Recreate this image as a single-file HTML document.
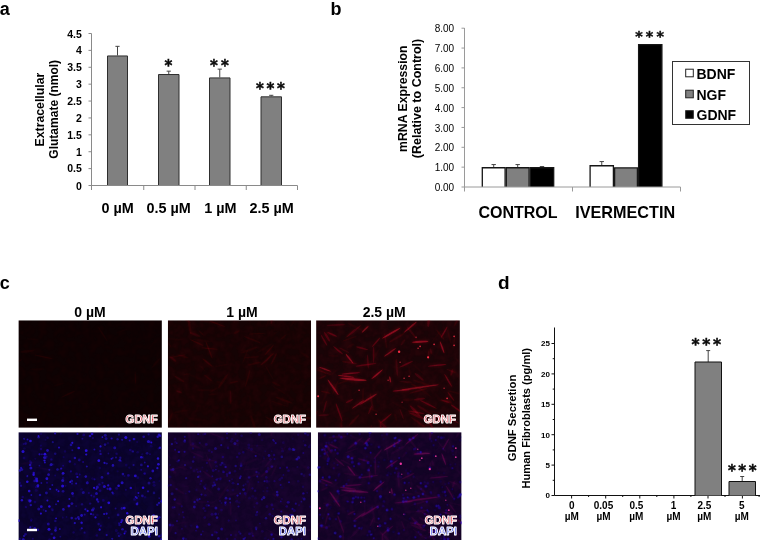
<!DOCTYPE html>
<html lang="en"><head><meta charset="utf-8"><title>Figure</title>
<style>
html,body{margin:0;padding:0;background:#fff;}
body{width:760px;height:540px;overflow:hidden;font-family:"Liberation Sans",sans-serif;}
svg{display:block;}
text{font-family:"Liberation Sans",sans-serif;fill:#000;}
.b{font-weight:bold;}
.ast{font-family:"DejaVu Sans",sans-serif;font-weight:bold;fill:#0a0a0a;stroke:#0a0a0a;stroke-width:0.45px;}
.lab{font-weight:bold;font-size:11.4px;stroke:#fff;stroke-width:0.95px;stroke-linejoin:round;}
</style></head><body>
<svg width="760" height="540" viewBox="0 0 760 540">
<defs><filter id="bl" x="-5%" y="-5%" width="110%" height="110%"><feGaussianBlur stdDeviation="0.6"/></filter><filter id="bl2" x="-5%" y="-5%" width="110%" height="110%"><feGaussianBlur stdDeviation="0.72"/></filter><filter id="bl3" x="-5%" y="-5%" width="110%" height="110%"><feGaussianBlur stdDeviation="0.6"/></filter><filter id="nz" x="0" y="0" width="100%" height="100%"><feTurbulence type="fractalNoise" baseFrequency="0.14" numOctaves="3" seed="4" result="t"/><feColorMatrix in="t" type="matrix" values="0 0 0 0 1  0 0 0 0 1  0 0 0 0 1  2.2 0 0 0 -0.75" result="m"/><feComposite in="SourceGraphic" in2="m" operator="in"/></filter><filter id="bl4" x="-5%" y="-5%" width="110%" height="110%"><feGaussianBlur stdDeviation="1.3"/></filter></defs>
<rect x="0" y="0" width="760" height="540" fill="#fff"/>
<text class="b" x="-0.3" y="14.5" font-size="18">a</text>
<text class="b" x="330.5" y="14.5" font-size="18">b</text>
<text class="b" x="-0.3" y="288.5" font-size="18">c</text>
<text class="b" x="498" y="288.8" font-size="19">d</text>
<path d="M117.50 55.46V46.34M115.40 46.34H119.60" stroke="#444" stroke-width="1" fill="none"/>
<path d="M107.50 186.00V55.96H127.50V186.00" fill="#808080" stroke="#2e2e2e" stroke-width="1"/>
<path d="M168.75 74.03V71.16M166.65 71.16H170.85" stroke="#444" stroke-width="1" fill="none"/>
<path d="M158.50 186.00V74.53H179.00V186.00" fill="#808080" stroke="#2e2e2e" stroke-width="1"/>
<path d="M219.75 77.41V69.14M217.65 69.14H221.85" stroke="#444" stroke-width="1" fill="none"/>
<path d="M209.50 186.00V77.91H230.00V186.00" fill="#808080" stroke="#2e2e2e" stroke-width="1"/>
<path d="M271.25 96.33V95.31M269.15 95.31H273.35" stroke="#444" stroke-width="1" fill="none"/>
<path d="M261.00 186.00V96.83H281.50V186.00" fill="#808080" stroke="#2e2e2e" stroke-width="1"/>
<path d="M91.5 33.5V190.0M88.5 185.5H297.5" stroke="#8a8a8a" stroke-width="1" fill="none"/>
<text class="b" x="81.9" y="189.90" font-size="10.5" text-anchor="end">0</text>
<path d="M88.5 168.61H91.5" stroke="#8a8a8a" stroke-width="1"/>
<text class="b" x="81.9" y="172.41" font-size="10.5" text-anchor="end">0.5</text>
<path d="M88.5 151.72H91.5" stroke="#8a8a8a" stroke-width="1"/>
<text class="b" x="81.9" y="155.52" font-size="10.5" text-anchor="end">1</text>
<path d="M88.5 134.83H91.5" stroke="#8a8a8a" stroke-width="1"/>
<text class="b" x="81.9" y="138.63" font-size="10.5" text-anchor="end">1.5</text>
<path d="M88.5 117.94H91.5" stroke="#8a8a8a" stroke-width="1"/>
<text class="b" x="81.9" y="121.74" font-size="10.5" text-anchor="end">2</text>
<path d="M88.5 101.06H91.5" stroke="#8a8a8a" stroke-width="1"/>
<text class="b" x="81.9" y="104.86" font-size="10.5" text-anchor="end">2.5</text>
<path d="M88.5 84.17H91.5" stroke="#8a8a8a" stroke-width="1"/>
<text class="b" x="81.9" y="87.97" font-size="10.5" text-anchor="end">3</text>
<path d="M88.5 67.28H91.5" stroke="#8a8a8a" stroke-width="1"/>
<text class="b" x="81.9" y="71.08" font-size="10.5" text-anchor="end">3.5</text>
<path d="M88.5 50.39H91.5" stroke="#8a8a8a" stroke-width="1"/>
<text class="b" x="81.9" y="54.19" font-size="10.5" text-anchor="end">4</text>
<path d="M88.5 33.50H91.5" stroke="#8a8a8a" stroke-width="1"/>
<text class="b" x="81.9" y="37.90" font-size="10.5" text-anchor="end">4.5</text>
<path d="M143.75 185.5V190.0" stroke="#8a8a8a" stroke-width="1"/>
<path d="M195.00 185.5V190.0" stroke="#8a8a8a" stroke-width="1"/>
<path d="M246.25 185.5V190.0" stroke="#8a8a8a" stroke-width="1"/>
<path d="M297.50 185.5V190.0" stroke="#8a8a8a" stroke-width="1"/>
<text class="b" x="117.7" y="212.5" font-size="14.4" text-anchor="middle">0 µM</text>
<text class="b" x="168.6" y="212.5" font-size="14.4" text-anchor="middle">0.5 µM</text>
<text class="b" x="220.3" y="212.5" font-size="14.4" text-anchor="middle">1 µM</text>
<text class="b" x="271.6" y="212.5" font-size="14.4" text-anchor="middle">2.5 µM</text>
<text class="b" font-size="12.3" text-anchor="middle" transform="translate(43.5 109.6) rotate(-90)">Extracellular</text>
<text class="b" font-size="12" text-anchor="middle" transform="translate(58 109.3) rotate(-90)">Glutamate (nmol)</text>
<text class="ast" x="169.70" y="70.90" font-size="15" letter-spacing="2.6" text-anchor="middle">*</text>
<text class="ast" x="221.00" y="70.80" font-size="15" letter-spacing="3.2" text-anchor="middle">**</text>
<text class="ast" x="271.70" y="94.00" font-size="15" letter-spacing="2.6" text-anchor="middle">***</text>
<path d="M493.70 167.15V164.57M491.50 164.57H495.90" stroke="#444" stroke-width="1" fill="none"/>
<path d="M482.30 187.00V167.75H505.10V187.00" fill="#fff" stroke="#161616" stroke-width="1.3"/>
<path d="M517.70 167.15V164.57M515.50 164.57H519.90" stroke="#444" stroke-width="1" fill="none"/>
<path d="M506.30 187.00V167.75H529.10V187.00" fill="#808080" stroke="#161616" stroke-width="1.3"/>
<path d="M542.00 167.15V166.55M539.80 166.55H544.20" stroke="#444" stroke-width="1" fill="none"/>
<path d="M530.30 187.00V167.75H553.70V187.00" fill="#000" stroke="#161616" stroke-width="1.3"/>
<path d="M601.75 165.16V161.59M599.55 161.59H603.95" stroke="#444" stroke-width="1" fill="none"/>
<path d="M590.10 187.00V165.76H613.40V187.00" fill="#fff" stroke="#161616" stroke-width="1.3"/>
<path d="M614.60 187.00V167.95H637.40V187.00" fill="#808080" stroke="#161616" stroke-width="1.3"/>
<path d="M638.60 187.00V44.68H661.90V187.00" fill="#000" stroke="#161616" stroke-width="1.3"/>
<path d="M464.5 28V191.5M461.5 187.0H680.5" stroke="#9a9a9a" stroke-width="1" fill="none"/>
<text x="454.2" y="191.10" font-size="10" text-anchor="end" fill="#222">0.00</text>
<path d="M461.5 167.15H464.5" stroke="#9a9a9a" stroke-width="1"/>
<text x="454.2" y="171.25" font-size="10" text-anchor="end" fill="#222">1.00</text>
<path d="M461.5 147.30H464.5" stroke="#9a9a9a" stroke-width="1"/>
<text x="454.2" y="151.40" font-size="10" text-anchor="end" fill="#222">2.00</text>
<path d="M461.5 127.45H464.5" stroke="#9a9a9a" stroke-width="1"/>
<text x="454.2" y="131.55" font-size="10" text-anchor="end" fill="#222">3.00</text>
<path d="M461.5 107.60H464.5" stroke="#9a9a9a" stroke-width="1"/>
<text x="454.2" y="111.70" font-size="10" text-anchor="end" fill="#222">4.00</text>
<path d="M461.5 87.75H464.5" stroke="#9a9a9a" stroke-width="1"/>
<text x="454.2" y="91.85" font-size="10" text-anchor="end" fill="#222">5.00</text>
<path d="M461.5 67.90H464.5" stroke="#9a9a9a" stroke-width="1"/>
<text x="454.2" y="72.00" font-size="10" text-anchor="end" fill="#222">6.00</text>
<path d="M461.5 48.05H464.5" stroke="#9a9a9a" stroke-width="1"/>
<text x="454.2" y="52.15" font-size="10" text-anchor="end" fill="#222">7.00</text>
<path d="M461.5 28.20H464.5" stroke="#9a9a9a" stroke-width="1"/>
<text x="454.2" y="32.30" font-size="10" text-anchor="end" fill="#222">8.00</text>
<path d="M572.5 187.0V191.5" stroke="#9a9a9a" stroke-width="1"/>
<path d="M680.5 187.0V191.5" stroke="#9a9a9a" stroke-width="1"/>
<text class="b" x="518" y="217.5" font-size="16" text-anchor="middle">CONTROL</text>
<text class="b" x="625.2" y="217.5" font-size="16.2" text-anchor="middle">IVERMECTIN</text>
<text class="ast" x="651.20" y="41.00" font-size="14.3" letter-spacing="3.2" text-anchor="middle">***</text>
<text class="b" font-size="12.26" text-anchor="middle" transform="translate(407 98.7) rotate(-90)">mRNA Expression</text>
<text class="b" font-size="12.5" text-anchor="middle" transform="translate(421 98.5) rotate(-90)">(Relative to Control)</text>
<rect x="672.5" y="61.5" width="77" height="63" fill="#fff" stroke="#333" stroke-width="1"/>
<rect x="685.7" y="69.2" width="7.6" height="7.6" fill="#fff" stroke="#222" stroke-width="1"/>
<text class="b" x="696.5" y="78.7" font-size="14">BDNF</text>
<rect x="685.7" y="90.2" width="7.6" height="7.6" fill="#808080" stroke="#222" stroke-width="1"/>
<text class="b" x="696.5" y="99.7" font-size="14">NGF</text>
<rect x="685.7" y="110.7" width="7.6" height="7.6" fill="#000" stroke="#222" stroke-width="1"/>
<text class="b" x="696.5" y="120.2" font-size="14">GDNF</text>
<path d="M554.5 327.5V495.5H760" stroke="#111" stroke-width="1" fill="none"/>
<path d="M551.5 495.50H554.5" stroke="#111" stroke-width="1"/>
<text class="b" x="550" y="498.40" font-size="8" text-anchor="end">0</text>
<path d="M552.7 480.30H554.5" stroke="#111" stroke-width="1"/>
<path d="M551.5 465.10H554.5" stroke="#111" stroke-width="1"/>
<text class="b" x="550" y="468.00" font-size="8" text-anchor="end">5</text>
<path d="M552.7 449.90H554.5" stroke="#111" stroke-width="1"/>
<path d="M551.5 434.70H554.5" stroke="#111" stroke-width="1"/>
<text class="b" x="550" y="437.60" font-size="8" text-anchor="end">10</text>
<path d="M552.7 419.50H554.5" stroke="#111" stroke-width="1"/>
<path d="M551.5 404.30H554.5" stroke="#111" stroke-width="1"/>
<text class="b" x="550" y="407.20" font-size="8" text-anchor="end">15</text>
<path d="M552.7 389.10H554.5" stroke="#111" stroke-width="1"/>
<path d="M551.5 373.90H554.5" stroke="#111" stroke-width="1"/>
<text class="b" x="550" y="376.80" font-size="8" text-anchor="end">20</text>
<path d="M552.7 358.70H554.5" stroke="#111" stroke-width="1"/>
<path d="M551.5 343.50H554.5" stroke="#111" stroke-width="1"/>
<text class="b" x="550" y="346.40" font-size="8" text-anchor="end">25</text>
<path d="M588.6 495.5V497.0" stroke="#111" stroke-width="1"/>
<path d="M622.7 495.5V497.0" stroke="#111" stroke-width="1"/>
<path d="M656.8 495.5V497.0" stroke="#111" stroke-width="1"/>
<path d="M690.9 495.5V497.0" stroke="#111" stroke-width="1"/>
<path d="M725.0 495.5V497.0" stroke="#111" stroke-width="1"/>
<path d="M759.1 495.5V497.0" stroke="#111" stroke-width="1"/>
<path d="M571.6 495.5V498.5" stroke="#111" stroke-width="1"/>
<path d="M605.7 495.5V498.5" stroke="#111" stroke-width="1"/>
<path d="M639.8 495.5V498.5" stroke="#111" stroke-width="1"/>
<path d="M673.9 495.5V498.5" stroke="#111" stroke-width="1"/>
<path d="M708.0 495.5V498.5" stroke="#111" stroke-width="1"/>
<path d="M742.4 495.5V498.5" stroke="#111" stroke-width="1"/>
<text class="b" x="571.8" y="509" font-size="10" text-anchor="middle">0</text>
<text class="b" x="571.8" y="520" font-size="10" text-anchor="middle">µM</text>
<text class="b" x="603.5" y="509" font-size="10" text-anchor="middle">0.05</text>
<text class="b" x="603.5" y="520" font-size="10" text-anchor="middle">µM</text>
<text class="b" x="636.4" y="509" font-size="10" text-anchor="middle">0.5</text>
<text class="b" x="636.4" y="520" font-size="10" text-anchor="middle">µM</text>
<text class="b" x="673.5" y="509" font-size="10" text-anchor="middle">1</text>
<text class="b" x="673.5" y="520" font-size="10" text-anchor="middle">µM</text>
<text class="b" x="704.4" y="509" font-size="10" text-anchor="middle">2.5</text>
<text class="b" x="704.4" y="520" font-size="10" text-anchor="middle">µM</text>
<text class="b" x="741.8" y="509" font-size="10" text-anchor="middle">5</text>
<text class="b" x="741.8" y="520" font-size="10" text-anchor="middle">µM</text>
<path d="M708.20 362.00V350.60M706.20 350.60H710.20" stroke="#444" stroke-width="1" fill="none"/>
<path d="M695.00 495.50V362.00H721.50V495.50" fill="#808080" stroke="#111" stroke-width="1"/>
<path d="M742.20 481.00V476.50M740.20 476.50H744.20" stroke="#444" stroke-width="1" fill="none"/>
<path d="M729.00 495.50V481.50H755.50V495.50" fill="#808080" stroke="#111" stroke-width="1"/>
<text class="ast" x="707.60" y="350.40" font-size="15.5" letter-spacing="2.6" text-anchor="middle">***</text>
<text class="ast" x="743.60" y="476.20" font-size="15" letter-spacing="2.6" text-anchor="middle">***</text>
<text class="b" font-size="11.3" text-anchor="middle" transform="translate(516.2 418) rotate(-90)">GDNF Secretion</text>
<text class="b" font-size="11.1" text-anchor="middle" transform="translate(530 418.2) rotate(-90)">Human Fibroblasts (pg/ml)</text>
<text class="b" x="90" y="316.8" font-size="14" text-anchor="middle">0 µM</text>
<text class="b" x="242" y="316.8" font-size="14" text-anchor="middle">1 µM</text>
<text class="b" x="384.2" y="316.8" font-size="14" text-anchor="middle">2.5 µM</text>
<svg x="18.4" y="320.3" width="143.50" height="107.50" viewBox="0 0 143.50 107.50" overflow="hidden">
<rect width="143.50" height="107.50" fill="#0d0203"/>
<rect width="143.50" height="107.50" fill="#a01018" opacity="0.04" filter="url(#nz)"/>
<g filter="url(#bl4)" fill="#d01428"><ellipse cx="18.9" cy="48.9" rx="8.0" ry="2.2" opacity="0.01" transform="rotate(-1 18.9 48.9)"/><ellipse cx="117.0" cy="57.8" rx="6.3" ry="1.3" opacity="0.02" transform="rotate(-92 117.0 57.8)"/><ellipse cx="139.1" cy="35.2" rx="8.4" ry="1.5" opacity="0.00" transform="rotate(-80 139.1 35.2)"/><ellipse cx="25.3" cy="36.6" rx="9.7" ry="1.5" opacity="0.02" transform="rotate(12 25.3 36.6)"/><ellipse cx="80.3" cy="99.7" rx="4.2" ry="2.0" opacity="0.00" transform="rotate(-2 80.3 99.7)"/><ellipse cx="-2.2" cy="42.1" rx="7.0" ry="1.5" opacity="0.02" transform="rotate(-27 -2.2 42.1)"/><ellipse cx="134.1" cy="24.0" rx="7.5" ry="2.4" opacity="0.00" transform="rotate(-46 134.1 24.0)"/><ellipse cx="80.1" cy="107.4" rx="8.0" ry="2.2" opacity="0.01" transform="rotate(-18 80.1 107.4)"/><ellipse cx="40.5" cy="64.3" rx="5.5" ry="2.3" opacity="0.01" transform="rotate(-15 40.5 64.3)"/><ellipse cx="69.5" cy="83.8" rx="9.2" ry="2.0" opacity="0.00" transform="rotate(5 69.5 83.8)"/><ellipse cx="124.1" cy="100.7" rx="8.4" ry="1.9" opacity="0.01" transform="rotate(-72 124.1 100.7)"/><ellipse cx="84.4" cy="13.8" rx="9.0" ry="1.4" opacity="0.01" transform="rotate(57 84.4 13.8)"/><ellipse cx="102.9" cy="10.8" rx="7.2" ry="1.5" opacity="0.00" transform="rotate(-20 102.9 10.8)"/><ellipse cx="90.2" cy="71.2" rx="7.0" ry="1.6" opacity="0.00" transform="rotate(-7 90.2 71.2)"/><ellipse cx="14.1" cy="19.0" rx="8.1" ry="1.5" opacity="0.01" transform="rotate(4 14.1 19.0)"/><ellipse cx="137.5" cy="42.7" rx="7.4" ry="2.1" opacity="0.01" transform="rotate(-50 137.5 42.7)"/><ellipse cx="78.8" cy="76.9" rx="8.6" ry="2.3" opacity="0.00" transform="rotate(-54 78.8 76.9)"/><ellipse cx="26.7" cy="25.4" rx="4.1" ry="2.0" opacity="0.00" transform="rotate(-22 26.7 25.4)"/><ellipse cx="7.0" cy="104.8" rx="6.8" ry="1.8" opacity="0.01" transform="rotate(-89 7.0 104.8)"/><ellipse cx="65.1" cy="19.1" rx="4.9" ry="1.4" opacity="0.00" transform="rotate(54 65.1 19.1)"/><ellipse cx="58.9" cy="103.1" rx="9.8" ry="1.7" opacity="0.00" transform="rotate(-15 58.9 103.1)"/><ellipse cx="103.6" cy="18.7" rx="5.8" ry="1.6" opacity="0.00" transform="rotate(59 103.6 18.7)"/><ellipse cx="42.7" cy="103.8" rx="7.0" ry="1.5" opacity="0.00" transform="rotate(13 42.7 103.8)"/><ellipse cx="9.0" cy="31.0" rx="7.4" ry="2.3" opacity="0.02" transform="rotate(-6 9.0 31.0)"/><ellipse cx="49.9" cy="73.8" rx="8.1" ry="1.4" opacity="0.02" transform="rotate(-25 49.9 73.8)"/></g>
<g filter="url(#bl2)" fill="#d01428"><ellipse cx="18.9" cy="48.9" rx="7.6" ry="1.1" opacity="0.02" transform="rotate(-1 18.9 48.9)"/><ellipse cx="117.0" cy="57.8" rx="6.0" ry="0.6" opacity="0.06" transform="rotate(-92 117.0 57.8)"/><ellipse cx="139.1" cy="35.2" rx="8.0" ry="0.7" opacity="0.01" transform="rotate(-80 139.1 35.2)"/><ellipse cx="25.3" cy="36.6" rx="9.3" ry="0.7" opacity="0.07" transform="rotate(12 25.3 36.6)"/><ellipse cx="80.3" cy="99.7" rx="4.0" ry="1.0" opacity="0.01" transform="rotate(-2 80.3 99.7)"/><ellipse cx="-2.2" cy="42.1" rx="6.7" ry="0.7" opacity="0.05" transform="rotate(-27 -2.2 42.1)"/><ellipse cx="134.1" cy="24.0" rx="7.1" ry="1.2" opacity="0.01" transform="rotate(-46 134.1 24.0)"/><ellipse cx="80.1" cy="107.4" rx="7.7" ry="1.1" opacity="0.03" transform="rotate(-18 80.1 107.4)"/><ellipse cx="40.5" cy="64.3" rx="5.2" ry="1.2" opacity="0.02" transform="rotate(-15 40.5 64.3)"/><ellipse cx="69.5" cy="83.8" rx="8.8" ry="1.0" opacity="0.01" transform="rotate(5 69.5 83.8)"/><ellipse cx="124.1" cy="100.7" rx="8.0" ry="0.9" opacity="0.03" transform="rotate(-72 124.1 100.7)"/><ellipse cx="84.4" cy="13.8" rx="8.6" ry="0.7" opacity="0.05" transform="rotate(57 84.4 13.8)"/><ellipse cx="102.9" cy="10.8" rx="6.9" ry="0.7" opacity="0.02" transform="rotate(-20 102.9 10.8)"/><ellipse cx="90.2" cy="71.2" rx="6.7" ry="0.8" opacity="0.00" transform="rotate(-7 90.2 71.2)"/><ellipse cx="14.1" cy="19.0" rx="7.7" ry="0.7" opacity="0.02" transform="rotate(4 14.1 19.0)"/><ellipse cx="137.5" cy="42.7" rx="7.0" ry="1.0" opacity="0.03" transform="rotate(-50 137.5 42.7)"/><ellipse cx="78.8" cy="76.9" rx="8.2" ry="1.2" opacity="0.01" transform="rotate(-54 78.8 76.9)"/><ellipse cx="26.7" cy="25.4" rx="3.9" ry="1.0" opacity="0.01" transform="rotate(-22 26.7 25.4)"/><ellipse cx="7.0" cy="104.8" rx="6.5" ry="0.9" opacity="0.02" transform="rotate(-89 7.0 104.8)"/><ellipse cx="65.1" cy="19.1" rx="4.6" ry="0.7" opacity="0.01" transform="rotate(54 65.1 19.1)"/><ellipse cx="58.9" cy="103.1" rx="9.4" ry="0.9" opacity="0.01" transform="rotate(-15 58.9 103.1)"/><ellipse cx="103.6" cy="18.7" rx="5.5" ry="0.8" opacity="0.01" transform="rotate(59 103.6 18.7)"/><ellipse cx="42.7" cy="103.8" rx="6.6" ry="0.8" opacity="0.00" transform="rotate(13 42.7 103.8)"/><ellipse cx="9.0" cy="31.0" rx="7.1" ry="1.2" opacity="0.05" transform="rotate(-6 9.0 31.0)"/><ellipse cx="49.9" cy="73.8" rx="7.7" ry="0.7" opacity="0.07" transform="rotate(-25 49.9 73.8)"/></g>
</svg>
<svg x="167.8" y="320.3" width="143.30" height="107.50" viewBox="0 0 143.30 107.50" overflow="hidden">
<rect width="143.30" height="107.50" fill="#150304"/>
<rect width="143.30" height="107.50" fill="#b01420" opacity="0.07" filter="url(#nz)"/>
<g filter="url(#bl4)" fill="#d01428"><ellipse cx="84.2" cy="19.2" rx="9.5" ry="1.8" opacity="0.02" transform="rotate(22 84.2 19.2)"/><ellipse cx="29.2" cy="22.3" rx="7.9" ry="1.5" opacity="0.03" transform="rotate(25 29.2 22.3)"/><ellipse cx="7.6" cy="19.0" rx="8.4" ry="1.7" opacity="0.01" transform="rotate(5 7.6 19.0)"/><ellipse cx="45.9" cy="69.7" rx="4.6" ry="1.8" opacity="0.01" transform="rotate(-32 45.9 69.7)"/><ellipse cx="13.6" cy="90.9" rx="7.7" ry="2.3" opacity="0.01" transform="rotate(-10 13.6 90.9)"/><ellipse cx="53.9" cy="45.2" rx="7.7" ry="1.2" opacity="0.01" transform="rotate(-11 53.9 45.2)"/><ellipse cx="77.3" cy="36.4" rx="8.0" ry="1.2" opacity="0.02" transform="rotate(-69 77.3 36.4)"/><ellipse cx="20.0" cy="0.9" rx="3.6" ry="1.4" opacity="0.02" transform="rotate(26 20.0 0.9)"/><ellipse cx="106.2" cy="38.4" rx="6.4" ry="1.8" opacity="0.03" transform="rotate(-64 106.2 38.4)"/><ellipse cx="43.7" cy="96.2" rx="7.8" ry="1.2" opacity="0.00" transform="rotate(-17 43.7 96.2)"/><ellipse cx="1.8" cy="36.4" rx="9.1" ry="2.3" opacity="0.00" transform="rotate(60 1.8 36.4)"/><ellipse cx="102.9" cy="85.3" rx="8.6" ry="1.4" opacity="0.01" transform="rotate(-95 102.9 85.3)"/><ellipse cx="115.9" cy="81.2" rx="6.2" ry="2.4" opacity="0.00" transform="rotate(-104 115.9 81.2)"/><ellipse cx="140.6" cy="97.8" rx="3.6" ry="1.9" opacity="0.02" transform="rotate(-178 140.6 97.8)"/><ellipse cx="49.6" cy="3.6" rx="8.8" ry="1.3" opacity="0.03" transform="rotate(20 49.6 3.6)"/><ellipse cx="34.5" cy="20.3" rx="9.8" ry="2.4" opacity="0.01" transform="rotate(8 34.5 20.3)"/><ellipse cx="11.3" cy="71.5" rx="3.2" ry="2.0" opacity="0.03" transform="rotate(18 11.3 71.5)"/><ellipse cx="65.8" cy="61.9" rx="4.8" ry="1.6" opacity="0.02" transform="rotate(-13 65.8 61.9)"/><ellipse cx="79.9" cy="58.0" rx="9.5" ry="1.6" opacity="0.02" transform="rotate(-74 79.9 58.0)"/><ellipse cx="131.1" cy="42.7" rx="4.7" ry="1.3" opacity="0.00" transform="rotate(-153 131.1 42.7)"/><ellipse cx="15.1" cy="36.0" rx="6.2" ry="2.1" opacity="0.02" transform="rotate(16 15.1 36.0)"/><ellipse cx="100.1" cy="38.5" rx="6.9" ry="1.4" opacity="0.02" transform="rotate(-54 100.1 38.5)"/><ellipse cx="44.8" cy="74.1" rx="4.8" ry="1.8" opacity="0.01" transform="rotate(-5 44.8 74.1)"/><ellipse cx="41.5" cy="1.6" rx="9.9" ry="2.2" opacity="0.01" transform="rotate(7 41.5 1.6)"/><ellipse cx="97.0" cy="27.7" rx="9.6" ry="2.2" opacity="0.01" transform="rotate(-31 97.0 27.7)"/><ellipse cx="144.5" cy="102.1" rx="6.0" ry="1.8" opacity="0.01" transform="rotate(-203 144.5 102.1)"/><ellipse cx="89.5" cy="13.4" rx="9.0" ry="1.3" opacity="0.02" transform="rotate(-3 89.5 13.4)"/><ellipse cx="36.9" cy="69.8" rx="9.8" ry="2.2" opacity="0.01" transform="rotate(1 36.9 69.8)"/><ellipse cx="106.5" cy="13.7" rx="6.0" ry="1.5" opacity="0.01" transform="rotate(-35 106.5 13.7)"/><ellipse cx="29.5" cy="87.8" rx="4.7" ry="1.4" opacity="0.00" transform="rotate(-61 29.5 87.8)"/><ellipse cx="106.5" cy="64.0" rx="9.3" ry="1.8" opacity="0.00" transform="rotate(-96 106.5 64.0)"/><ellipse cx="25.4" cy="55.9" rx="9.4" ry="1.9" opacity="0.01" transform="rotate(23 25.4 55.9)"/><ellipse cx="85.9" cy="103.6" rx="9.5" ry="2.4" opacity="0.02" transform="rotate(-109 85.9 103.6)"/><ellipse cx="69.2" cy="11.7" rx="3.4" ry="2.0" opacity="0.02" transform="rotate(-25 69.2 11.7)"/><ellipse cx="146.0" cy="65.7" rx="5.9" ry="1.4" opacity="0.00" transform="rotate(-104 146.0 65.7)"/><ellipse cx="40.2" cy="57.5" rx="5.2" ry="1.5" opacity="0.02" transform="rotate(39 40.2 57.5)"/><ellipse cx="55.3" cy="60.7" rx="9.0" ry="2.4" opacity="0.02" transform="rotate(-56 55.3 60.7)"/><ellipse cx="137.4" cy="34.9" rx="5.2" ry="2.4" opacity="0.01" transform="rotate(-149 137.4 34.9)"/><ellipse cx="27.1" cy="14.2" rx="6.1" ry="2.4" opacity="0.03" transform="rotate(20 27.1 14.2)"/><ellipse cx="110.7" cy="83.2" rx="8.5" ry="1.5" opacity="0.01" transform="rotate(-161 110.7 83.2)"/><ellipse cx="2.0" cy="98.7" rx="7.2" ry="2.1" opacity="0.02" transform="rotate(-67 2.0 98.7)"/><ellipse cx="99.3" cy="39.1" rx="9.6" ry="2.0" opacity="0.03" transform="rotate(-42 99.3 39.1)"/><ellipse cx="124.5" cy="3.3" rx="3.8" ry="2.1" opacity="0.01" transform="rotate(-58 124.5 3.3)"/><ellipse cx="125.2" cy="2.1" rx="3.4" ry="1.3" opacity="0.00" transform="rotate(-33 125.2 2.1)"/><ellipse cx="15.8" cy="109.4" rx="9.4" ry="1.4" opacity="0.02" transform="rotate(9 15.8 109.4)"/><ellipse cx="116.3" cy="79.9" rx="9.8" ry="2.1" opacity="0.02" transform="rotate(-160 116.3 79.9)"/><ellipse cx="39.7" cy="42.3" rx="6.7" ry="1.8" opacity="0.03" transform="rotate(38 39.7 42.3)"/><ellipse cx="60.1" cy="94.9" rx="6.8" ry="2.1" opacity="0.00" transform="rotate(-94 60.1 94.9)"/><ellipse cx="101.5" cy="29.6" rx="7.4" ry="1.4" opacity="0.03" transform="rotate(-49 101.5 29.6)"/><ellipse cx="33.4" cy="12.6" rx="3.6" ry="1.3" opacity="0.02" transform="rotate(44 33.4 12.6)"/><ellipse cx="11.6" cy="58.7" rx="6.2" ry="2.3" opacity="0.03" transform="rotate(32 11.6 58.7)"/><ellipse cx="21.7" cy="5.7" rx="9.1" ry="2.3" opacity="0.02" transform="rotate(80 21.7 5.7)"/><ellipse cx="73.5" cy="106.2" rx="8.4" ry="2.4" opacity="0.00" transform="rotate(-49 73.5 106.2)"/><ellipse cx="108.2" cy="63.6" rx="4.9" ry="2.1" opacity="0.02" transform="rotate(-157 108.2 63.6)"/><ellipse cx="81.4" cy="29.8" rx="9.1" ry="2.5" opacity="0.02" transform="rotate(-20 81.4 29.8)"/><ellipse cx="106.7" cy="7.0" rx="7.0" ry="2.3" opacity="0.00" transform="rotate(-84 106.7 7.0)"/><ellipse cx="19.1" cy="54.0" rx="4.1" ry="1.4" opacity="0.01" transform="rotate(-12 19.1 54.0)"/><ellipse cx="115.9" cy="16.5" rx="3.7" ry="1.5" opacity="0.02" transform="rotate(-41 115.9 16.5)"/><ellipse cx="-1.9" cy="33.7" rx="4.7" ry="2.4" opacity="0.00" transform="rotate(-12 -1.9 33.7)"/><ellipse cx="105.0" cy="100.8" rx="9.0" ry="1.6" opacity="0.02" transform="rotate(-149 105.0 100.8)"/><ellipse cx="84.1" cy="37.0" rx="7.9" ry="1.6" opacity="0.02" transform="rotate(-4 84.1 37.0)"/><ellipse cx="41.2" cy="29.6" rx="9.8" ry="1.4" opacity="0.03" transform="rotate(69 41.2 29.6)"/><ellipse cx="104.1" cy="-1.7" rx="6.1" ry="2.4" opacity="0.03" transform="rotate(-81 104.1 -1.7)"/><ellipse cx="34.6" cy="47.8" rx="4.6" ry="1.3" opacity="0.01" transform="rotate(49 34.6 47.8)"/><ellipse cx="99.1" cy="96.5" rx="3.2" ry="1.4" opacity="0.00" transform="rotate(-84 99.1 96.5)"/><ellipse cx="86.4" cy="43.3" rx="7.3" ry="2.0" opacity="0.02" transform="rotate(-13 86.4 43.3)"/><ellipse cx="27.7" cy="99.0" rx="8.8" ry="2.2" opacity="0.01" transform="rotate(7 27.7 99.0)"/><ellipse cx="5.0" cy="38.6" rx="4.5" ry="2.3" opacity="0.03" transform="rotate(39 5.0 38.6)"/><ellipse cx="101.5" cy="52.2" rx="8.7" ry="1.4" opacity="0.01" transform="rotate(-120 101.5 52.2)"/><ellipse cx="110.8" cy="69.4" rx="9.1" ry="1.6" opacity="0.01" transform="rotate(-147 110.8 69.4)"/><ellipse cx="62.8" cy="77.0" rx="7.5" ry="1.8" opacity="0.03" transform="rotate(-92 62.8 77.0)"/><ellipse cx="51.9" cy="62.1" rx="3.5" ry="2.2" opacity="0.01" transform="rotate(20 51.9 62.1)"/><ellipse cx="42.0" cy="28.3" rx="8.9" ry="1.5" opacity="0.03" transform="rotate(5 42.0 28.3)"/><ellipse cx="74.5" cy="29.5" rx="7.1" ry="2.3" opacity="0.00" transform="rotate(12 74.5 29.5)"/><ellipse cx="100.8" cy="0.2" rx="6.0" ry="1.6" opacity="0.01" transform="rotate(-69 100.8 0.2)"/><ellipse cx="82.4" cy="82.1" rx="6.6" ry="2.2" opacity="0.01" transform="rotate(-94 82.4 82.1)"/><ellipse cx="146.7" cy="-0.3" rx="8.8" ry="1.5" opacity="0.01" transform="rotate(-97 146.7 -0.3)"/><ellipse cx="22.6" cy="108.1" rx="3.7" ry="1.9" opacity="0.00" transform="rotate(13 22.6 108.1)"/><ellipse cx="-0.3" cy="22.2" rx="6.8" ry="1.6" opacity="0.02" transform="rotate(51 -0.3 22.2)"/><ellipse cx="9.4" cy="36.0" rx="8.8" ry="1.7" opacity="0.02" transform="rotate(-11 9.4 36.0)"/></g>
<g filter="url(#bl2)" fill="#d01428"><ellipse cx="84.2" cy="19.2" rx="9.0" ry="0.9" opacity="0.07" transform="rotate(22 84.2 19.2)"/><ellipse cx="29.2" cy="22.3" rx="7.5" ry="0.7" opacity="0.11" transform="rotate(25 29.2 22.3)"/><ellipse cx="7.6" cy="19.0" rx="8.0" ry="0.8" opacity="0.04" transform="rotate(5 7.6 19.0)"/><ellipse cx="45.9" cy="69.7" rx="4.4" ry="0.9" opacity="0.03" transform="rotate(-32 45.9 69.7)"/><ellipse cx="13.6" cy="90.9" rx="7.3" ry="1.2" opacity="0.04" transform="rotate(-10 13.6 90.9)"/><ellipse cx="53.9" cy="45.2" rx="7.3" ry="0.6" opacity="0.04" transform="rotate(-11 53.9 45.2)"/><ellipse cx="77.3" cy="36.4" rx="7.6" ry="0.6" opacity="0.05" transform="rotate(-69 77.3 36.4)"/><ellipse cx="20.0" cy="0.9" rx="3.4" ry="0.7" opacity="0.07" transform="rotate(26 20.0 0.9)"/><ellipse cx="106.2" cy="38.4" rx="6.1" ry="0.9" opacity="0.10" transform="rotate(-64 106.2 38.4)"/><ellipse cx="43.7" cy="96.2" rx="7.4" ry="0.6" opacity="0.01" transform="rotate(-17 43.7 96.2)"/><ellipse cx="1.8" cy="36.4" rx="8.7" ry="1.1" opacity="0.01" transform="rotate(60 1.8 36.4)"/><ellipse cx="102.9" cy="85.3" rx="8.1" ry="0.7" opacity="0.02" transform="rotate(-95 102.9 85.3)"/><ellipse cx="115.9" cy="81.2" rx="5.9" ry="1.2" opacity="0.02" transform="rotate(-104 115.9 81.2)"/><ellipse cx="140.6" cy="97.8" rx="3.4" ry="1.0" opacity="0.07" transform="rotate(-178 140.6 97.8)"/><ellipse cx="49.6" cy="3.6" rx="8.4" ry="0.7" opacity="0.11" transform="rotate(20 49.6 3.6)"/><ellipse cx="34.5" cy="20.3" rx="9.4" ry="1.2" opacity="0.03" transform="rotate(8 34.5 20.3)"/><ellipse cx="11.3" cy="71.5" rx="3.1" ry="1.0" opacity="0.10" transform="rotate(18 11.3 71.5)"/><ellipse cx="65.8" cy="61.9" rx="4.6" ry="0.8" opacity="0.07" transform="rotate(-13 65.8 61.9)"/><ellipse cx="79.9" cy="58.0" rx="9.1" ry="0.8" opacity="0.07" transform="rotate(-74 79.9 58.0)"/><ellipse cx="131.1" cy="42.7" rx="4.4" ry="0.6" opacity="0.02" transform="rotate(-153 131.1 42.7)"/><ellipse cx="15.1" cy="36.0" rx="5.9" ry="1.0" opacity="0.07" transform="rotate(16 15.1 36.0)"/><ellipse cx="100.1" cy="38.5" rx="6.6" ry="0.7" opacity="0.05" transform="rotate(-54 100.1 38.5)"/><ellipse cx="44.8" cy="74.1" rx="4.6" ry="0.9" opacity="0.04" transform="rotate(-5 44.8 74.1)"/><ellipse cx="41.5" cy="1.6" rx="9.5" ry="1.1" opacity="0.04" transform="rotate(7 41.5 1.6)"/><ellipse cx="97.0" cy="27.7" rx="9.2" ry="1.1" opacity="0.04" transform="rotate(-31 97.0 27.7)"/><ellipse cx="144.5" cy="102.1" rx="5.7" ry="0.9" opacity="0.02" transform="rotate(-203 144.5 102.1)"/><ellipse cx="89.5" cy="13.4" rx="8.6" ry="0.6" opacity="0.07" transform="rotate(-3 89.5 13.4)"/><ellipse cx="36.9" cy="69.8" rx="9.3" ry="1.1" opacity="0.03" transform="rotate(1 36.9 69.8)"/><ellipse cx="106.5" cy="13.7" rx="5.7" ry="0.8" opacity="0.02" transform="rotate(-35 106.5 13.7)"/><ellipse cx="29.5" cy="87.8" rx="4.5" ry="0.7" opacity="0.02" transform="rotate(-61 29.5 87.8)"/><ellipse cx="106.5" cy="64.0" rx="8.9" ry="0.9" opacity="0.01" transform="rotate(-96 106.5 64.0)"/><ellipse cx="25.4" cy="55.9" rx="9.0" ry="0.9" opacity="0.02" transform="rotate(23 25.4 55.9)"/><ellipse cx="85.9" cy="103.6" rx="9.1" ry="1.2" opacity="0.06" transform="rotate(-109 85.9 103.6)"/><ellipse cx="69.2" cy="11.7" rx="3.3" ry="1.0" opacity="0.07" transform="rotate(-25 69.2 11.7)"/><ellipse cx="146.0" cy="65.7" rx="5.6" ry="0.7" opacity="0.01" transform="rotate(-104 146.0 65.7)"/><ellipse cx="40.2" cy="57.5" rx="4.9" ry="0.8" opacity="0.08" transform="rotate(39 40.2 57.5)"/><ellipse cx="55.3" cy="60.7" rx="8.5" ry="1.2" opacity="0.08" transform="rotate(-56 55.3 60.7)"/><ellipse cx="137.4" cy="34.9" rx="5.0" ry="1.2" opacity="0.04" transform="rotate(-149 137.4 34.9)"/><ellipse cx="27.1" cy="14.2" rx="5.9" ry="1.2" opacity="0.10" transform="rotate(20 27.1 14.2)"/><ellipse cx="110.7" cy="83.2" rx="8.1" ry="0.7" opacity="0.05" transform="rotate(-161 110.7 83.2)"/><ellipse cx="2.0" cy="98.7" rx="6.9" ry="1.0" opacity="0.06" transform="rotate(-67 2.0 98.7)"/><ellipse cx="99.3" cy="39.1" rx="9.1" ry="1.0" opacity="0.12" transform="rotate(-42 99.3 39.1)"/><ellipse cx="124.5" cy="3.3" rx="3.6" ry="1.0" opacity="0.03" transform="rotate(-58 124.5 3.3)"/><ellipse cx="125.2" cy="2.1" rx="3.3" ry="0.6" opacity="0.01" transform="rotate(-33 125.2 2.1)"/><ellipse cx="15.8" cy="109.4" rx="9.0" ry="0.7" opacity="0.07" transform="rotate(9 15.8 109.4)"/><ellipse cx="116.3" cy="79.9" rx="9.3" ry="1.1" opacity="0.07" transform="rotate(-160 116.3 79.9)"/><ellipse cx="39.7" cy="42.3" rx="6.4" ry="0.9" opacity="0.11" transform="rotate(38 39.7 42.3)"/><ellipse cx="60.1" cy="94.9" rx="6.4" ry="1.1" opacity="0.01" transform="rotate(-94 60.1 94.9)"/><ellipse cx="101.5" cy="29.6" rx="7.1" ry="0.7" opacity="0.11" transform="rotate(-49 101.5 29.6)"/><ellipse cx="33.4" cy="12.6" rx="3.4" ry="0.7" opacity="0.08" transform="rotate(44 33.4 12.6)"/><ellipse cx="11.6" cy="58.7" rx="5.9" ry="1.1" opacity="0.09" transform="rotate(32 11.6 58.7)"/><ellipse cx="21.7" cy="5.7" rx="8.6" ry="1.2" opacity="0.07" transform="rotate(80 21.7 5.7)"/><ellipse cx="73.5" cy="106.2" rx="8.0" ry="1.2" opacity="0.01" transform="rotate(-49 73.5 106.2)"/><ellipse cx="108.2" cy="63.6" rx="4.7" ry="1.1" opacity="0.05" transform="rotate(-157 108.2 63.6)"/><ellipse cx="81.4" cy="29.8" rx="8.7" ry="1.2" opacity="0.05" transform="rotate(-20 81.4 29.8)"/><ellipse cx="106.7" cy="7.0" rx="6.6" ry="1.1" opacity="0.01" transform="rotate(-84 106.7 7.0)"/><ellipse cx="19.1" cy="54.0" rx="3.9" ry="0.7" opacity="0.04" transform="rotate(-12 19.1 54.0)"/><ellipse cx="115.9" cy="16.5" rx="3.5" ry="0.8" opacity="0.07" transform="rotate(-41 115.9 16.5)"/><ellipse cx="-1.9" cy="33.7" rx="4.5" ry="1.2" opacity="0.02" transform="rotate(-12 -1.9 33.7)"/><ellipse cx="105.0" cy="100.8" rx="8.6" ry="0.8" opacity="0.08" transform="rotate(-149 105.0 100.8)"/><ellipse cx="84.1" cy="37.0" rx="7.5" ry="0.8" opacity="0.06" transform="rotate(-4 84.1 37.0)"/><ellipse cx="41.2" cy="29.6" rx="9.3" ry="0.7" opacity="0.11" transform="rotate(69 41.2 29.6)"/><ellipse cx="104.1" cy="-1.7" rx="5.8" ry="1.2" opacity="0.10" transform="rotate(-81 104.1 -1.7)"/><ellipse cx="34.6" cy="47.8" rx="4.4" ry="0.7" opacity="0.04" transform="rotate(49 34.6 47.8)"/><ellipse cx="99.1" cy="96.5" rx="3.1" ry="0.7" opacity="0.01" transform="rotate(-84 99.1 96.5)"/><ellipse cx="86.4" cy="43.3" rx="7.0" ry="1.0" opacity="0.07" transform="rotate(-13 86.4 43.3)"/><ellipse cx="27.7" cy="99.0" rx="8.3" ry="1.1" opacity="0.02" transform="rotate(7 27.7 99.0)"/><ellipse cx="5.0" cy="38.6" rx="4.3" ry="1.2" opacity="0.10" transform="rotate(39 5.0 38.6)"/><ellipse cx="101.5" cy="52.2" rx="8.3" ry="0.7" opacity="0.05" transform="rotate(-120 101.5 52.2)"/><ellipse cx="110.8" cy="69.4" rx="8.7" ry="0.8" opacity="0.04" transform="rotate(-147 110.8 69.4)"/><ellipse cx="62.8" cy="77.0" rx="7.1" ry="0.9" opacity="0.09" transform="rotate(-92 62.8 77.0)"/><ellipse cx="51.9" cy="62.1" rx="3.4" ry="1.1" opacity="0.04" transform="rotate(20 51.9 62.1)"/><ellipse cx="42.0" cy="28.3" rx="8.5" ry="0.7" opacity="0.11" transform="rotate(5 42.0 28.3)"/><ellipse cx="74.5" cy="29.5" rx="6.8" ry="1.2" opacity="0.02" transform="rotate(12 74.5 29.5)"/><ellipse cx="100.8" cy="0.2" rx="5.7" ry="0.8" opacity="0.03" transform="rotate(-69 100.8 0.2)"/><ellipse cx="82.4" cy="82.1" rx="6.3" ry="1.1" opacity="0.02" transform="rotate(-94 82.4 82.1)"/><ellipse cx="146.7" cy="-0.3" rx="8.4" ry="0.8" opacity="0.03" transform="rotate(-97 146.7 -0.3)"/><ellipse cx="22.6" cy="108.1" rx="3.5" ry="1.0" opacity="0.02" transform="rotate(13 22.6 108.1)"/><ellipse cx="-0.3" cy="22.2" rx="6.4" ry="0.8" opacity="0.06" transform="rotate(51 -0.3 22.2)"/><ellipse cx="9.4" cy="36.0" rx="8.4" ry="0.8" opacity="0.07" transform="rotate(-11 9.4 36.0)"/></g>
</svg>
<svg x="316.1" y="320.3" width="143.80" height="107.50" viewBox="0 0 143.80 107.50" overflow="hidden">
<rect width="143.80" height="107.50" fill="#190407"/>
<rect width="143.80" height="107.50" fill="#c01828" opacity="0.07" filter="url(#nz)"/>
<g filter="url(#bl4)" fill="#d01428"><ellipse cx="19.2" cy="67.2" rx="8.0" ry="2.0" opacity="0.02" transform="rotate(-67 19.2 67.2)"/><ellipse cx="89.6" cy="61.6" rx="6.8" ry="2.0" opacity="0.03" transform="rotate(-177 89.6 61.6)"/><ellipse cx="128.9" cy="80.8" rx="4.7" ry="1.4" opacity="0.05" transform="rotate(-163 128.9 80.8)"/><ellipse cx="100.5" cy="66.5" rx="6.6" ry="1.5" opacity="0.03" transform="rotate(-153 100.5 66.5)"/><ellipse cx="18.8" cy="67.8" rx="7.7" ry="1.5" opacity="0.01" transform="rotate(-25 18.8 67.8)"/><ellipse cx="46.9" cy="75.4" rx="8.3" ry="1.8" opacity="0.02" transform="rotate(-89 46.9 75.4)"/><ellipse cx="133.1" cy="16.0" rx="7.2" ry="2.0" opacity="0.02" transform="rotate(-104 133.1 16.0)"/><ellipse cx="80.7" cy="47.2" rx="9.2" ry="2.3" opacity="0.04" transform="rotate(-94 80.7 47.2)"/><ellipse cx="67.5" cy="105.0" rx="7.4" ry="2.3" opacity="0.04" transform="rotate(-134 67.5 105.0)"/><ellipse cx="55.6" cy="81.7" rx="9.4" ry="2.0" opacity="0.03" transform="rotate(-100 55.6 81.7)"/><ellipse cx="143.1" cy="57.2" rx="9.5" ry="2.4" opacity="0.01" transform="rotate(-123 143.1 57.2)"/><ellipse cx="7.9" cy="94.8" rx="5.8" ry="1.5" opacity="0.04" transform="rotate(-4 7.9 94.8)"/><ellipse cx="138.0" cy="21.3" rx="7.7" ry="1.5" opacity="0.02" transform="rotate(-81 138.0 21.3)"/><ellipse cx="18.4" cy="51.7" rx="3.7" ry="1.7" opacity="0.01" transform="rotate(-41 18.4 51.7)"/><ellipse cx="14.8" cy="14.2" rx="5.3" ry="2.1" opacity="0.02" transform="rotate(22 14.8 14.2)"/><ellipse cx="33.5" cy="18.4" rx="8.2" ry="1.5" opacity="0.03" transform="rotate(-20 33.5 18.4)"/><ellipse cx="118.0" cy="91.6" rx="8.9" ry="2.0" opacity="0.01" transform="rotate(-166 118.0 91.6)"/><ellipse cx="10.9" cy="16.4" rx="5.8" ry="2.3" opacity="0.07" transform="rotate(59 10.9 16.4)"/><ellipse cx="134.9" cy="50.5" rx="5.0" ry="1.5" opacity="0.04" transform="rotate(-159 134.9 50.5)"/><ellipse cx="102.3" cy="102.1" rx="9.7" ry="2.0" opacity="0.03" transform="rotate(-144 102.3 102.1)"/><ellipse cx="122.5" cy="28.2" rx="8.1" ry="2.3" opacity="0.01" transform="rotate(-72 122.5 28.2)"/><ellipse cx="25.3" cy="105.3" rx="6.2" ry="2.0" opacity="0.03" transform="rotate(-90 25.3 105.3)"/><ellipse cx="128.9" cy="105.9" rx="4.1" ry="2.4" opacity="0.02" transform="rotate(-167 128.9 105.9)"/><ellipse cx="34.3" cy="12.8" rx="7.1" ry="1.6" opacity="0.03" transform="rotate(-43 34.3 12.8)"/><ellipse cx="135.7" cy="52.2" rx="3.6" ry="2.2" opacity="0.05" transform="rotate(-75 135.7 52.2)"/><ellipse cx="140.8" cy="0.5" rx="6.9" ry="2.0" opacity="0.03" transform="rotate(-63 140.8 0.5)"/><ellipse cx="37.9" cy="99.9" rx="7.9" ry="2.4" opacity="0.03" transform="rotate(-47 37.9 99.9)"/><ellipse cx="8.9" cy="76.1" rx="8.3" ry="2.0" opacity="0.01" transform="rotate(-68 8.9 76.1)"/><ellipse cx="19.9" cy="4.7" rx="9.8" ry="1.5" opacity="0.06" transform="rotate(-2 19.9 4.7)"/><ellipse cx="17.2" cy="35.6" rx="5.6" ry="2.5" opacity="0.01" transform="rotate(3 17.2 35.6)"/><ellipse cx="69.5" cy="20.4" rx="7.9" ry="1.6" opacity="0.03" transform="rotate(-98 69.5 20.4)"/><ellipse cx="100.9" cy="7.1" rx="7.8" ry="2.5" opacity="0.00" transform="rotate(-125 100.9 7.1)"/><ellipse cx="64.8" cy="110.4" rx="9.9" ry="1.9" opacity="0.07" transform="rotate(-92 64.8 110.4)"/><ellipse cx="5.4" cy="50.8" rx="5.8" ry="1.8" opacity="0.02" transform="rotate(31 5.4 50.8)"/><ellipse cx="54.0" cy="89.7" rx="4.7" ry="1.6" opacity="0.05" transform="rotate(-66 54.0 89.7)"/><ellipse cx="108.6" cy="89.8" rx="9.4" ry="2.3" opacity="0.04" transform="rotate(-148 108.6 89.8)"/><ellipse cx="39.5" cy="6.7" rx="9.0" ry="2.4" opacity="0.01" transform="rotate(27 39.5 6.7)"/><ellipse cx="107.8" cy="103.1" rx="3.3" ry="1.4" opacity="0.01" transform="rotate(-190 107.8 103.1)"/><ellipse cx="99.0" cy="90.6" rx="7.9" ry="2.5" opacity="0.07" transform="rotate(-134 99.0 90.6)"/><ellipse cx="62.9" cy="102.1" rx="4.8" ry="2.0" opacity="0.01" transform="rotate(-103 62.9 102.1)"/><ellipse cx="57.0" cy="89.7" rx="6.8" ry="1.8" opacity="0.01" transform="rotate(-158 57.0 89.7)"/><ellipse cx="6.7" cy="56.7" rx="3.8" ry="1.7" opacity="0.04" transform="rotate(-25 6.7 56.7)"/><ellipse cx="8.9" cy="86.5" rx="6.4" ry="1.7" opacity="0.06" transform="rotate(-76 8.9 86.5)"/><ellipse cx="130.9" cy="81.0" rx="5.4" ry="2.3" opacity="0.03" transform="rotate(-169 130.9 81.0)"/><ellipse cx="92.3" cy="79.5" rx="5.8" ry="2.4" opacity="0.02" transform="rotate(-182 92.3 79.5)"/><ellipse cx="124.3" cy="14.6" rx="6.6" ry="1.6" opacity="0.03" transform="rotate(-128 124.3 14.6)"/><ellipse cx="112.5" cy="1.4" rx="5.7" ry="2.4" opacity="0.05" transform="rotate(-85 112.5 1.4)"/><ellipse cx="129.7" cy="81.5" rx="7.4" ry="1.9" opacity="0.02" transform="rotate(-166 129.7 81.5)"/><ellipse cx="40.5" cy="71.0" rx="4.8" ry="1.7" opacity="0.01" transform="rotate(-39 40.5 71.0)"/><ellipse cx="51.8" cy="41.3" rx="7.6" ry="1.6" opacity="0.05" transform="rotate(-94 51.8 41.3)"/><ellipse cx="33.4" cy="80.7" rx="4.3" ry="1.7" opacity="0.07" transform="rotate(-27 33.4 80.7)"/><ellipse cx="57.5" cy="34.5" rx="8.8" ry="1.6" opacity="0.06" transform="rotate(-90 57.5 34.5)"/><ellipse cx="80.7" cy="17.5" rx="9.3" ry="2.2" opacity="0.03" transform="rotate(-31 80.7 17.5)"/><ellipse cx="110.1" cy="105.0" rx="4.8" ry="2.2" opacity="0.02" transform="rotate(-190 110.1 105.0)"/><ellipse cx="144.8" cy="92.1" rx="4.2" ry="2.0" opacity="0.03" transform="rotate(-136 144.8 92.1)"/><ellipse cx="84.0" cy="85.8" rx="9.2" ry="2.0" opacity="0.01" transform="rotate(-153 84.0 85.8)"/><ellipse cx="120.1" cy="16.2" rx="9.5" ry="1.5" opacity="0.01" transform="rotate(-51 120.1 16.2)"/><ellipse cx="102.3" cy="49.1" rx="8.3" ry="1.6" opacity="0.01" transform="rotate(-138 102.3 49.1)"/><ellipse cx="79.7" cy="97.0" rx="3.9" ry="2.2" opacity="0.02" transform="rotate(-106 79.7 97.0)"/><ellipse cx="142.6" cy="41.5" rx="5.4" ry="1.9" opacity="0.01" transform="rotate(-129 142.6 41.5)"/><ellipse cx="112.5" cy="34.6" rx="4.7" ry="1.8" opacity="0.04" transform="rotate(-87 112.5 34.6)"/><ellipse cx="28.0" cy="30.0" rx="5.8" ry="1.7" opacity="0.04" transform="rotate(27 28.0 30.0)"/><ellipse cx="100.7" cy="95.5" rx="9.0" ry="2.4" opacity="0.06" transform="rotate(-158 100.7 95.5)"/><ellipse cx="134.9" cy="76.2" rx="5.8" ry="1.3" opacity="0.06" transform="rotate(-126 134.9 76.2)"/><ellipse cx="59.1" cy="35.5" rx="8.3" ry="2.3" opacity="0.01" transform="rotate(-59 59.1 35.5)"/><ellipse cx="114.6" cy="104.3" rx="9.6" ry="1.9" opacity="0.06" transform="rotate(-119 114.6 104.3)"/><ellipse cx="85.6" cy="93.8" rx="5.7" ry="1.4" opacity="0.05" transform="rotate(-110 85.6 93.8)"/><ellipse cx="137.7" cy="100.1" rx="6.2" ry="1.4" opacity="0.06" transform="rotate(-150 137.7 100.1)"/><ellipse cx="37.8" cy="10.9" rx="9.5" ry="1.7" opacity="0.05" transform="rotate(-40 37.8 10.9)"/><ellipse cx="7.5" cy="51.9" rx="8.4" ry="1.4" opacity="0.03" transform="rotate(18 7.5 51.9)"/><ellipse cx="118.9" cy="101.1" rx="7.2" ry="2.4" opacity="0.04" transform="rotate(-198 118.9 101.1)"/><ellipse cx="114.8" cy="30.9" rx="3.2" ry="2.2" opacity="0.03" transform="rotate(-104 114.8 30.9)"/><ellipse cx="24.1" cy="104.3" rx="3.4" ry="2.1" opacity="0.01" transform="rotate(-83 24.1 104.3)"/><ellipse cx="95.8" cy="12.6" rx="8.2" ry="2.0" opacity="0.04" transform="rotate(-128 95.8 12.6)"/><ellipse cx="103.3" cy="78.8" rx="6.0" ry="2.0" opacity="0.06" transform="rotate(-188 103.3 78.8)"/><ellipse cx="93.8" cy="52.6" rx="8.9" ry="1.5" opacity="0.01" transform="rotate(-99 93.8 52.6)"/><ellipse cx="-2.2" cy="96.4" rx="7.1" ry="1.9" opacity="0.04" transform="rotate(-56 -2.2 96.4)"/><ellipse cx="137.7" cy="71.9" rx="6.1" ry="1.4" opacity="0.02" transform="rotate(-166 137.7 71.9)"/><ellipse cx="108.1" cy="71.3" rx="9.0" ry="2.5" opacity="0.01" transform="rotate(-142 108.1 71.3)"/><ellipse cx="102.3" cy="70.6" rx="9.9" ry="1.7" opacity="0.04" transform="rotate(-195 102.3 70.6)"/><ellipse cx="31.4" cy="45.3" rx="9.8" ry="1.3" opacity="0.01" transform="rotate(-63 31.4 45.3)"/><ellipse cx="106.0" cy="62.7" rx="9.6" ry="2.1" opacity="0.02" transform="rotate(-161 106.0 62.7)"/><ellipse cx="103.8" cy="103.8" rx="5.6" ry="2.2" opacity="0.01" transform="rotate(-129 103.8 103.8)"/><ellipse cx="54.9" cy="110.2" rx="5.9" ry="1.9" opacity="0.02" transform="rotate(-84 54.9 110.2)"/><ellipse cx="103.1" cy="56.6" rx="6.0" ry="2.3" opacity="0.05" transform="rotate(-141 103.1 56.6)"/><ellipse cx="33.4" cy="42.3" rx="8.1" ry="2.0" opacity="0.04" transform="rotate(9 33.4 42.3)"/><ellipse cx="27.2" cy="61.7" rx="6.2" ry="1.7" opacity="0.02" transform="rotate(-20 27.2 61.7)"/><ellipse cx="86.9" cy="22.0" rx="3.6" ry="2.2" opacity="0.03" transform="rotate(-56 86.9 22.0)"/><ellipse cx="34.6" cy="25.6" rx="4.3" ry="2.5" opacity="0.01" transform="rotate(-30 34.6 25.6)"/><ellipse cx="9.6" cy="72.0" rx="5.1" ry="1.5" opacity="0.03" transform="rotate(13 9.6 72.0)"/><ellipse cx="75.0" cy="13.0" rx="11.0" ry="1.9" opacity="0.16" transform="rotate(-30 75.0 13.0)"/><ellipse cx="49.0" cy="9.0" rx="5.0" ry="1.5" opacity="0.12" transform="rotate(-45 49.0 9.0)"/><ellipse cx="16.0" cy="14.0" rx="5.5" ry="1.5" opacity="0.08" transform="rotate(25 16.0 14.0)"/><ellipse cx="33.5" cy="38.5" rx="6.6" ry="1.7" opacity="0.14" transform="rotate(52 33.5 38.5)"/><ellipse cx="9.0" cy="49.0" rx="6.6" ry="1.7" opacity="0.12" transform="rotate(20 9.0 49.0)"/><ellipse cx="37.0" cy="59.0" rx="14.3" ry="2.2" opacity="0.15" transform="rotate(5 37.0 59.0)"/><ellipse cx="30.0" cy="56.0" rx="8.8" ry="1.7" opacity="0.12" transform="rotate(8 30.0 56.0)"/><ellipse cx="61.0" cy="54.0" rx="7.7" ry="1.7" opacity="0.16" transform="rotate(-40 61.0 54.0)"/><ellipse cx="17.0" cy="67.0" rx="9.9" ry="1.9" opacity="0.14" transform="rotate(55 17.0 67.0)"/><ellipse cx="52.0" cy="79.0" rx="11.0" ry="1.9" opacity="0.12" transform="rotate(-32 52.0 79.0)"/><ellipse cx="104.0" cy="67.0" rx="19.8" ry="1.9" opacity="0.12" transform="rotate(-8 104.0 67.0)"/><ellipse cx="86.0" cy="70.0" rx="9.9" ry="1.7" opacity="0.11" transform="rotate(-5 86.0 70.0)"/><ellipse cx="104.0" cy="21.5" rx="8.8" ry="2.0" opacity="0.16" transform="rotate(-3 104.0 21.5)"/><ellipse cx="126.0" cy="27.0" rx="6.6" ry="1.7" opacity="0.14" transform="rotate(70 126.0 27.0)"/><ellipse cx="94.0" cy="7.0" rx="8.8" ry="1.7" opacity="0.12" transform="rotate(-40 94.0 7.0)"/><ellipse cx="42.0" cy="84.0" rx="7.7" ry="1.7" opacity="0.10" transform="rotate(-35 42.0 84.0)"/><ellipse cx="23.0" cy="92.0" rx="9.9" ry="1.7" opacity="0.08" transform="rotate(70 23.0 92.0)"/><ellipse cx="112.0" cy="84.0" rx="9.9" ry="1.7" opacity="0.08" transform="rotate(27 112.0 84.0)"/><ellipse cx="121.0" cy="45.0" rx="9.9" ry="1.7" opacity="0.09" transform="rotate(-6 121.0 45.0)"/><ellipse cx="74.0" cy="32.0" rx="7.7" ry="1.7" opacity="0.12" transform="rotate(-35 74.0 32.0)"/><ellipse cx="50.0" cy="44.5" rx="11.0" ry="1.7" opacity="0.08" transform="rotate(-8 50.0 44.5)"/><ellipse cx="35.0" cy="53.0" rx="9.9" ry="1.7" opacity="0.11" transform="rotate(-5 35.0 53.0)"/><ellipse cx="74.0" cy="59.0" rx="3.3" ry="1.5" opacity="0.14" transform="rotate(80 74.0 59.0)"/><ellipse cx="22.0" cy="30.0" rx="6.6" ry="1.5" opacity="0.08" transform="rotate(40 22.0 30.0)"/><ellipse cx="60.0" cy="22.0" rx="6.6" ry="1.5" opacity="0.08" transform="rotate(-50 60.0 22.0)"/><ellipse cx="132.0" cy="60.0" rx="7.7" ry="1.5" opacity="0.09" transform="rotate(60 132.0 60.0)"/><ellipse cx="118.0" cy="98.0" rx="8.8" ry="1.5" opacity="0.08" transform="rotate(-20 118.0 98.0)"/><ellipse cx="70.0" cy="98.0" rx="7.7" ry="1.5" opacity="0.08" transform="rotate(-40 70.0 98.0)"/><ellipse cx="8.0" cy="20.0" rx="6.6" ry="1.5" opacity="0.07" transform="rotate(60 8.0 20.0)"/><ellipse cx="140.0" cy="88.0" rx="6.6" ry="1.5" opacity="0.08" transform="rotate(35 140.0 88.0)"/><ellipse cx="90.0" cy="44.0" rx="7.7" ry="1.5" opacity="0.08" transform="rotate(-25 90.0 44.0)"/><ellipse cx="46.0" cy="28.0" rx="6.6" ry="1.5" opacity="0.07" transform="rotate(15 46.0 28.0)"/><ellipse cx="100.0" cy="92.0" rx="8.8" ry="1.5" opacity="0.07" transform="rotate(10 100.0 92.0)"/><ellipse cx="128.0" cy="12.0" rx="6.6" ry="1.5" opacity="0.09" transform="rotate(-60 128.0 12.0)"/></g>
<g filter="url(#bl2)" fill="#d01428"><ellipse cx="19.2" cy="67.2" rx="7.6" ry="1.0" opacity="0.07" transform="rotate(-67 19.2 67.2)"/><ellipse cx="89.6" cy="61.6" rx="6.4" ry="1.0" opacity="0.10" transform="rotate(-177 89.6 61.6)"/><ellipse cx="128.9" cy="80.8" rx="4.5" ry="0.7" opacity="0.17" transform="rotate(-163 128.9 80.8)"/><ellipse cx="100.5" cy="66.5" rx="6.3" ry="0.7" opacity="0.10" transform="rotate(-153 100.5 66.5)"/><ellipse cx="18.8" cy="67.8" rx="7.4" ry="0.8" opacity="0.02" transform="rotate(-25 18.8 67.8)"/><ellipse cx="46.9" cy="75.4" rx="7.9" ry="0.9" opacity="0.07" transform="rotate(-89 46.9 75.4)"/><ellipse cx="133.1" cy="16.0" rx="6.8" ry="1.0" opacity="0.08" transform="rotate(-104 133.1 16.0)"/><ellipse cx="80.7" cy="47.2" rx="8.8" ry="1.1" opacity="0.12" transform="rotate(-94 80.7 47.2)"/><ellipse cx="67.5" cy="105.0" rx="7.1" ry="1.2" opacity="0.14" transform="rotate(-134 67.5 105.0)"/><ellipse cx="55.6" cy="81.7" rx="8.9" ry="1.0" opacity="0.10" transform="rotate(-100 55.6 81.7)"/><ellipse cx="143.1" cy="57.2" rx="9.1" ry="1.2" opacity="0.03" transform="rotate(-123 143.1 57.2)"/><ellipse cx="7.9" cy="94.8" rx="5.5" ry="0.8" opacity="0.14" transform="rotate(-4 7.9 94.8)"/><ellipse cx="138.0" cy="21.3" rx="7.3" ry="0.7" opacity="0.07" transform="rotate(-81 138.0 21.3)"/><ellipse cx="18.4" cy="51.7" rx="3.5" ry="0.9" opacity="0.03" transform="rotate(-41 18.4 51.7)"/><ellipse cx="14.8" cy="14.2" rx="5.1" ry="1.1" opacity="0.07" transform="rotate(22 14.8 14.2)"/><ellipse cx="33.5" cy="18.4" rx="7.8" ry="0.7" opacity="0.08" transform="rotate(-20 33.5 18.4)"/><ellipse cx="118.0" cy="91.6" rx="8.5" ry="1.0" opacity="0.04" transform="rotate(-166 118.0 91.6)"/><ellipse cx="10.9" cy="16.4" rx="5.5" ry="1.1" opacity="0.22" transform="rotate(59 10.9 16.4)"/><ellipse cx="134.9" cy="50.5" rx="4.8" ry="0.7" opacity="0.13" transform="rotate(-159 134.9 50.5)"/><ellipse cx="102.3" cy="102.1" rx="9.2" ry="1.0" opacity="0.09" transform="rotate(-144 102.3 102.1)"/><ellipse cx="122.5" cy="28.2" rx="7.7" ry="1.2" opacity="0.02" transform="rotate(-72 122.5 28.2)"/><ellipse cx="25.3" cy="105.3" rx="5.9" ry="1.0" opacity="0.09" transform="rotate(-90 25.3 105.3)"/><ellipse cx="128.9" cy="105.9" rx="3.9" ry="1.2" opacity="0.08" transform="rotate(-167 128.9 105.9)"/><ellipse cx="34.3" cy="12.8" rx="6.8" ry="0.8" opacity="0.10" transform="rotate(-43 34.3 12.8)"/><ellipse cx="135.7" cy="52.2" rx="3.4" ry="1.1" opacity="0.16" transform="rotate(-75 135.7 52.2)"/><ellipse cx="140.8" cy="0.5" rx="6.6" ry="1.0" opacity="0.09" transform="rotate(-63 140.8 0.5)"/><ellipse cx="37.9" cy="99.9" rx="7.6" ry="1.2" opacity="0.10" transform="rotate(-47 37.9 99.9)"/><ellipse cx="8.9" cy="76.1" rx="7.9" ry="1.0" opacity="0.04" transform="rotate(-68 8.9 76.1)"/><ellipse cx="19.9" cy="4.7" rx="9.4" ry="0.7" opacity="0.20" transform="rotate(-2 19.9 4.7)"/><ellipse cx="17.2" cy="35.6" rx="5.3" ry="1.2" opacity="0.04" transform="rotate(3 17.2 35.6)"/><ellipse cx="69.5" cy="20.4" rx="7.5" ry="0.8" opacity="0.09" transform="rotate(-98 69.5 20.4)"/><ellipse cx="100.9" cy="7.1" rx="7.5" ry="1.2" opacity="0.02" transform="rotate(-125 100.9 7.1)"/><ellipse cx="64.8" cy="110.4" rx="9.4" ry="0.9" opacity="0.22" transform="rotate(-92 64.8 110.4)"/><ellipse cx="5.4" cy="50.8" rx="5.5" ry="0.9" opacity="0.08" transform="rotate(31 5.4 50.8)"/><ellipse cx="54.0" cy="89.7" rx="4.5" ry="0.8" opacity="0.17" transform="rotate(-66 54.0 89.7)"/><ellipse cx="108.6" cy="89.8" rx="8.9" ry="1.1" opacity="0.12" transform="rotate(-148 108.6 89.8)"/><ellipse cx="39.5" cy="6.7" rx="8.6" ry="1.2" opacity="0.05" transform="rotate(27 39.5 6.7)"/><ellipse cx="107.8" cy="103.1" rx="3.2" ry="0.7" opacity="0.04" transform="rotate(-190 107.8 103.1)"/><ellipse cx="99.0" cy="90.6" rx="7.5" ry="1.2" opacity="0.22" transform="rotate(-134 99.0 90.6)"/><ellipse cx="62.9" cy="102.1" rx="4.6" ry="1.0" opacity="0.03" transform="rotate(-103 62.9 102.1)"/><ellipse cx="57.0" cy="89.7" rx="6.5" ry="0.9" opacity="0.05" transform="rotate(-158 57.0 89.7)"/><ellipse cx="6.7" cy="56.7" rx="3.6" ry="0.9" opacity="0.13" transform="rotate(-25 6.7 56.7)"/><ellipse cx="8.9" cy="86.5" rx="6.1" ry="0.8" opacity="0.19" transform="rotate(-76 8.9 86.5)"/><ellipse cx="130.9" cy="81.0" rx="5.1" ry="1.1" opacity="0.09" transform="rotate(-169 130.9 81.0)"/><ellipse cx="92.3" cy="79.5" rx="5.5" ry="1.2" opacity="0.06" transform="rotate(-182 92.3 79.5)"/><ellipse cx="124.3" cy="14.6" rx="6.3" ry="0.8" opacity="0.11" transform="rotate(-128 124.3 14.6)"/><ellipse cx="112.5" cy="1.4" rx="5.4" ry="1.2" opacity="0.18" transform="rotate(-85 112.5 1.4)"/><ellipse cx="129.7" cy="81.5" rx="7.0" ry="1.0" opacity="0.06" transform="rotate(-166 129.7 81.5)"/><ellipse cx="40.5" cy="71.0" rx="4.6" ry="0.8" opacity="0.03" transform="rotate(-39 40.5 71.0)"/><ellipse cx="51.8" cy="41.3" rx="7.2" ry="0.8" opacity="0.17" transform="rotate(-94 51.8 41.3)"/><ellipse cx="33.4" cy="80.7" rx="4.1" ry="0.8" opacity="0.22" transform="rotate(-27 33.4 80.7)"/><ellipse cx="57.5" cy="34.5" rx="8.4" ry="0.8" opacity="0.19" transform="rotate(-90 57.5 34.5)"/><ellipse cx="80.7" cy="17.5" rx="8.9" ry="1.1" opacity="0.11" transform="rotate(-31 80.7 17.5)"/><ellipse cx="110.1" cy="105.0" rx="4.6" ry="1.1" opacity="0.07" transform="rotate(-190 110.1 105.0)"/><ellipse cx="144.8" cy="92.1" rx="4.0" ry="1.0" opacity="0.12" transform="rotate(-136 144.8 92.1)"/><ellipse cx="84.0" cy="85.8" rx="8.8" ry="1.0" opacity="0.03" transform="rotate(-153 84.0 85.8)"/><ellipse cx="120.1" cy="16.2" rx="9.0" ry="0.7" opacity="0.04" transform="rotate(-51 120.1 16.2)"/><ellipse cx="102.3" cy="49.1" rx="7.9" ry="0.8" opacity="0.03" transform="rotate(-138 102.3 49.1)"/><ellipse cx="79.7" cy="97.0" rx="3.7" ry="1.1" opacity="0.06" transform="rotate(-106 79.7 97.0)"/><ellipse cx="142.6" cy="41.5" rx="5.2" ry="0.9" opacity="0.03" transform="rotate(-129 142.6 41.5)"/><ellipse cx="112.5" cy="34.6" rx="4.5" ry="0.9" opacity="0.13" transform="rotate(-87 112.5 34.6)"/><ellipse cx="28.0" cy="30.0" rx="5.6" ry="0.8" opacity="0.12" transform="rotate(27 28.0 30.0)"/><ellipse cx="100.7" cy="95.5" rx="8.6" ry="1.2" opacity="0.21" transform="rotate(-158 100.7 95.5)"/><ellipse cx="134.9" cy="76.2" rx="5.5" ry="0.7" opacity="0.21" transform="rotate(-126 134.9 76.2)"/><ellipse cx="59.1" cy="35.5" rx="7.9" ry="1.1" opacity="0.03" transform="rotate(-59 59.1 35.5)"/><ellipse cx="114.6" cy="104.3" rx="9.1" ry="1.0" opacity="0.20" transform="rotate(-119 114.6 104.3)"/><ellipse cx="85.6" cy="93.8" rx="5.4" ry="0.7" opacity="0.15" transform="rotate(-110 85.6 93.8)"/><ellipse cx="137.7" cy="100.1" rx="5.9" ry="0.7" opacity="0.18" transform="rotate(-150 137.7 100.1)"/><ellipse cx="37.8" cy="10.9" rx="9.1" ry="0.9" opacity="0.17" transform="rotate(-40 37.8 10.9)"/><ellipse cx="7.5" cy="51.9" rx="8.0" ry="0.7" opacity="0.09" transform="rotate(18 7.5 51.9)"/><ellipse cx="118.9" cy="101.1" rx="6.8" ry="1.2" opacity="0.12" transform="rotate(-198 118.9 101.1)"/><ellipse cx="114.8" cy="30.9" rx="3.1" ry="1.1" opacity="0.11" transform="rotate(-104 114.8 30.9)"/><ellipse cx="24.1" cy="104.3" rx="3.2" ry="1.1" opacity="0.02" transform="rotate(-83 24.1 104.3)"/><ellipse cx="95.8" cy="12.6" rx="7.8" ry="1.0" opacity="0.13" transform="rotate(-128 95.8 12.6)"/><ellipse cx="103.3" cy="78.8" rx="5.8" ry="1.0" opacity="0.19" transform="rotate(-188 103.3 78.8)"/><ellipse cx="93.8" cy="52.6" rx="8.5" ry="0.8" opacity="0.04" transform="rotate(-99 93.8 52.6)"/><ellipse cx="-2.2" cy="96.4" rx="6.8" ry="0.9" opacity="0.13" transform="rotate(-56 -2.2 96.4)"/><ellipse cx="137.7" cy="71.9" rx="5.8" ry="0.7" opacity="0.07" transform="rotate(-166 137.7 71.9)"/><ellipse cx="108.1" cy="71.3" rx="8.6" ry="1.2" opacity="0.05" transform="rotate(-142 108.1 71.3)"/><ellipse cx="102.3" cy="70.6" rx="9.4" ry="0.9" opacity="0.13" transform="rotate(-195 102.3 70.6)"/><ellipse cx="31.4" cy="45.3" rx="9.3" ry="0.6" opacity="0.02" transform="rotate(-63 31.4 45.3)"/><ellipse cx="106.0" cy="62.7" rx="9.1" ry="1.1" opacity="0.08" transform="rotate(-161 106.0 62.7)"/><ellipse cx="103.8" cy="103.8" rx="5.4" ry="1.1" opacity="0.04" transform="rotate(-129 103.8 103.8)"/><ellipse cx="54.9" cy="110.2" rx="5.6" ry="1.0" opacity="0.08" transform="rotate(-84 54.9 110.2)"/><ellipse cx="103.1" cy="56.6" rx="5.7" ry="1.2" opacity="0.17" transform="rotate(-141 103.1 56.6)"/><ellipse cx="33.4" cy="42.3" rx="7.7" ry="1.0" opacity="0.12" transform="rotate(9 33.4 42.3)"/><ellipse cx="27.2" cy="61.7" rx="5.9" ry="0.9" opacity="0.08" transform="rotate(-20 27.2 61.7)"/><ellipse cx="86.9" cy="22.0" rx="3.4" ry="1.1" opacity="0.10" transform="rotate(-56 86.9 22.0)"/><ellipse cx="34.6" cy="25.6" rx="4.1" ry="1.2" opacity="0.05" transform="rotate(-30 34.6 25.6)"/><ellipse cx="9.6" cy="72.0" rx="4.9" ry="0.8" opacity="0.11" transform="rotate(13 9.6 72.0)"/><ellipse cx="75.0" cy="13.0" rx="10.5" ry="0.9" opacity="0.52" transform="rotate(-30 75.0 13.0)"/><ellipse cx="49.0" cy="9.0" rx="4.7" ry="0.8" opacity="0.41" transform="rotate(-45 49.0 9.0)"/><ellipse cx="16.0" cy="14.0" rx="5.2" ry="0.8" opacity="0.27" transform="rotate(25 16.0 14.0)"/><ellipse cx="33.5" cy="38.5" rx="6.3" ry="0.8" opacity="0.47" transform="rotate(52 33.5 38.5)"/><ellipse cx="9.0" cy="49.0" rx="6.3" ry="0.8" opacity="0.41" transform="rotate(20 9.0 49.0)"/><ellipse cx="37.0" cy="59.0" rx="13.7" ry="1.1" opacity="0.51" transform="rotate(5 37.0 59.0)"/><ellipse cx="30.0" cy="56.0" rx="8.4" ry="0.8" opacity="0.41" transform="rotate(8 30.0 56.0)"/><ellipse cx="61.0" cy="54.0" rx="7.4" ry="0.8" opacity="0.52" transform="rotate(-40 61.0 54.0)"/><ellipse cx="17.0" cy="67.0" rx="9.5" ry="0.9" opacity="0.47" transform="rotate(55 17.0 67.0)"/><ellipse cx="52.0" cy="79.0" rx="10.5" ry="0.9" opacity="0.41" transform="rotate(-32 52.0 79.0)"/><ellipse cx="104.0" cy="67.0" rx="18.9" ry="0.9" opacity="0.41" transform="rotate(-8 104.0 67.0)"/><ellipse cx="86.0" cy="70.0" rx="9.5" ry="0.8" opacity="0.37" transform="rotate(-5 86.0 70.0)"/><ellipse cx="104.0" cy="21.5" rx="8.4" ry="1.0" opacity="0.52" transform="rotate(-3 104.0 21.5)"/><ellipse cx="126.0" cy="27.0" rx="6.3" ry="0.8" opacity="0.47" transform="rotate(70 126.0 27.0)"/><ellipse cx="94.0" cy="7.0" rx="8.4" ry="0.8" opacity="0.41" transform="rotate(-40 94.0 7.0)"/><ellipse cx="42.0" cy="84.0" rx="7.4" ry="0.8" opacity="0.34" transform="rotate(-35 42.0 84.0)"/><ellipse cx="23.0" cy="92.0" rx="9.5" ry="0.8" opacity="0.27" transform="rotate(70 23.0 92.0)"/><ellipse cx="112.0" cy="84.0" rx="9.5" ry="0.8" opacity="0.27" transform="rotate(27 112.0 84.0)"/><ellipse cx="121.0" cy="45.0" rx="9.5" ry="0.8" opacity="0.30" transform="rotate(-6 121.0 45.0)"/><ellipse cx="74.0" cy="32.0" rx="7.4" ry="0.8" opacity="0.41" transform="rotate(-35 74.0 32.0)"/><ellipse cx="50.0" cy="44.5" rx="10.5" ry="0.8" opacity="0.27" transform="rotate(-8 50.0 44.5)"/><ellipse cx="35.0" cy="53.0" rx="9.5" ry="0.8" opacity="0.37" transform="rotate(-5 35.0 53.0)"/><ellipse cx="74.0" cy="59.0" rx="3.2" ry="0.8" opacity="0.47" transform="rotate(80 74.0 59.0)"/><ellipse cx="22.0" cy="30.0" rx="6.3" ry="0.8" opacity="0.27" transform="rotate(40 22.0 30.0)"/><ellipse cx="60.0" cy="22.0" rx="6.3" ry="0.8" opacity="0.27" transform="rotate(-50 60.0 22.0)"/><ellipse cx="132.0" cy="60.0" rx="7.4" ry="0.8" opacity="0.30" transform="rotate(60 132.0 60.0)"/><ellipse cx="118.0" cy="98.0" rx="8.4" ry="0.8" opacity="0.27" transform="rotate(-20 118.0 98.0)"/><ellipse cx="70.0" cy="98.0" rx="7.4" ry="0.8" opacity="0.27" transform="rotate(-40 70.0 98.0)"/><ellipse cx="8.0" cy="20.0" rx="6.3" ry="0.8" opacity="0.24" transform="rotate(60 8.0 20.0)"/><ellipse cx="140.0" cy="88.0" rx="6.3" ry="0.8" opacity="0.27" transform="rotate(35 140.0 88.0)"/><ellipse cx="90.0" cy="44.0" rx="7.4" ry="0.8" opacity="0.27" transform="rotate(-25 90.0 44.0)"/><ellipse cx="46.0" cy="28.0" rx="6.3" ry="0.8" opacity="0.24" transform="rotate(15 46.0 28.0)"/><ellipse cx="100.0" cy="92.0" rx="8.4" ry="0.8" opacity="0.24" transform="rotate(10 100.0 92.0)"/><ellipse cx="128.0" cy="12.0" rx="6.3" ry="0.8" opacity="0.30" transform="rotate(-60 128.0 12.0)"/></g>
<g filter="url(#bl)" fill="#ff3048"><circle cx="83.0" cy="31.5" r="1.2" opacity="0.95"/><circle cx="112.0" cy="37.0" r="1.1" opacity="0.95"/><circle cx="138.0" cy="16.0" r="0.9" opacity="0.80"/><circle cx="138.0" cy="25.0" r="0.9" opacity="0.80"/><circle cx="131.0" cy="78.0" r="0.9" opacity="0.80"/><circle cx="2.0" cy="76.0" r="1.0" opacity="0.90"/><circle cx="88.0" cy="58.0" r="0.8" opacity="0.70"/><circle cx="93.0" cy="56.0" r="0.8" opacity="0.70"/><circle cx="104.0" cy="26.0" r="0.9" opacity="0.80"/><circle cx="102.0" cy="28.0" r="0.8" opacity="0.70"/><circle cx="60.0" cy="94.0" r="0.8" opacity="0.70"/><circle cx="43.0" cy="70.0" r="0.8" opacity="0.70"/><circle cx="84.0" cy="42.0" r="0.7" opacity="0.60"/><circle cx="118.0" cy="24.0" r="0.9" opacity="0.80"/><circle cx="100.0" cy="17.0" r="0.7" opacity="0.60"/><circle cx="128.0" cy="68.0" r="0.8" opacity="0.60"/><circle cx="86.0" cy="82.0" r="0.7" opacity="0.50"/><circle cx="72.0" cy="60.0" r="0.7" opacity="0.60"/></g>
</svg>
<svg x="18.4" y="432.2" width="143.50" height="107.80" viewBox="0 0 143.50 107.80" overflow="hidden">
<rect width="143.50" height="107.80" fill="#0a0329"/>
<rect width="143.50" height="107.80" fill="#2810b0" opacity="0.1" filter="url(#nz)"/>
<g filter="url(#bl4)" fill="#c81880"><ellipse cx="18.9" cy="48.9" rx="8.0" ry="2.2" opacity="0.00" transform="rotate(-1 18.9 48.9)"/><ellipse cx="117.0" cy="57.8" rx="6.3" ry="1.3" opacity="0.01" transform="rotate(-92 117.0 57.8)"/><ellipse cx="139.1" cy="35.2" rx="8.4" ry="1.5" opacity="0.00" transform="rotate(-80 139.1 35.2)"/><ellipse cx="25.3" cy="36.6" rx="9.7" ry="1.5" opacity="0.01" transform="rotate(12 25.3 36.6)"/><ellipse cx="80.3" cy="99.7" rx="4.2" ry="2.0" opacity="0.00" transform="rotate(-2 80.3 99.7)"/><ellipse cx="-2.2" cy="42.1" rx="7.0" ry="1.5" opacity="0.01" transform="rotate(-27 -2.2 42.1)"/><ellipse cx="134.1" cy="24.0" rx="7.5" ry="2.4" opacity="0.00" transform="rotate(-46 134.1 24.0)"/><ellipse cx="80.1" cy="107.4" rx="8.0" ry="2.2" opacity="0.00" transform="rotate(-18 80.1 107.4)"/><ellipse cx="40.5" cy="64.3" rx="5.5" ry="2.3" opacity="0.00" transform="rotate(-15 40.5 64.3)"/><ellipse cx="69.5" cy="83.8" rx="9.2" ry="2.0" opacity="0.00" transform="rotate(5 69.5 83.8)"/><ellipse cx="124.1" cy="100.7" rx="8.4" ry="1.9" opacity="0.00" transform="rotate(-72 124.1 100.7)"/><ellipse cx="84.4" cy="13.8" rx="9.0" ry="1.4" opacity="0.01" transform="rotate(57 84.4 13.8)"/><ellipse cx="102.9" cy="10.8" rx="7.2" ry="1.5" opacity="0.00" transform="rotate(-20 102.9 10.8)"/><ellipse cx="90.2" cy="71.2" rx="7.0" ry="1.6" opacity="0.00" transform="rotate(-7 90.2 71.2)"/><ellipse cx="14.1" cy="19.0" rx="8.1" ry="1.5" opacity="0.00" transform="rotate(4 14.1 19.0)"/><ellipse cx="137.5" cy="42.7" rx="7.4" ry="2.1" opacity="0.00" transform="rotate(-50 137.5 42.7)"/><ellipse cx="78.8" cy="76.9" rx="8.6" ry="2.3" opacity="0.00" transform="rotate(-54 78.8 76.9)"/><ellipse cx="26.7" cy="25.4" rx="4.1" ry="2.0" opacity="0.00" transform="rotate(-22 26.7 25.4)"/><ellipse cx="7.0" cy="104.8" rx="6.8" ry="1.8" opacity="0.00" transform="rotate(-89 7.0 104.8)"/><ellipse cx="65.1" cy="19.1" rx="4.9" ry="1.4" opacity="0.00" transform="rotate(54 65.1 19.1)"/><ellipse cx="58.9" cy="103.1" rx="9.8" ry="1.7" opacity="0.00" transform="rotate(-15 58.9 103.1)"/><ellipse cx="103.6" cy="18.7" rx="5.8" ry="1.6" opacity="0.00" transform="rotate(59 103.6 18.7)"/><ellipse cx="42.7" cy="103.8" rx="7.0" ry="1.5" opacity="0.00" transform="rotate(13 42.7 103.8)"/><ellipse cx="9.0" cy="31.0" rx="7.4" ry="2.3" opacity="0.01" transform="rotate(-6 9.0 31.0)"/><ellipse cx="49.9" cy="73.8" rx="8.1" ry="1.4" opacity="0.01" transform="rotate(-25 49.9 73.8)"/></g>
<g filter="url(#bl2)" fill="#c81880"><ellipse cx="18.9" cy="48.9" rx="7.6" ry="1.1" opacity="0.01" transform="rotate(-1 18.9 48.9)"/><ellipse cx="117.0" cy="57.8" rx="6.0" ry="0.6" opacity="0.03" transform="rotate(-92 117.0 57.8)"/><ellipse cx="139.1" cy="35.2" rx="8.0" ry="0.7" opacity="0.01" transform="rotate(-80 139.1 35.2)"/><ellipse cx="25.3" cy="36.6" rx="9.3" ry="0.7" opacity="0.04" transform="rotate(12 25.3 36.6)"/><ellipse cx="80.3" cy="99.7" rx="4.0" ry="1.0" opacity="0.00" transform="rotate(-2 80.3 99.7)"/><ellipse cx="-2.2" cy="42.1" rx="6.7" ry="0.7" opacity="0.03" transform="rotate(-27 -2.2 42.1)"/><ellipse cx="134.1" cy="24.0" rx="7.1" ry="1.2" opacity="0.00" transform="rotate(-46 134.1 24.0)"/><ellipse cx="80.1" cy="107.4" rx="7.7" ry="1.1" opacity="0.02" transform="rotate(-18 80.1 107.4)"/><ellipse cx="40.5" cy="64.3" rx="5.2" ry="1.2" opacity="0.01" transform="rotate(-15 40.5 64.3)"/><ellipse cx="69.5" cy="83.8" rx="8.8" ry="1.0" opacity="0.01" transform="rotate(5 69.5 83.8)"/><ellipse cx="124.1" cy="100.7" rx="8.0" ry="0.9" opacity="0.01" transform="rotate(-72 124.1 100.7)"/><ellipse cx="84.4" cy="13.8" rx="8.6" ry="0.7" opacity="0.03" transform="rotate(57 84.4 13.8)"/><ellipse cx="102.9" cy="10.8" rx="6.9" ry="0.7" opacity="0.01" transform="rotate(-20 102.9 10.8)"/><ellipse cx="90.2" cy="71.2" rx="6.7" ry="0.8" opacity="0.00" transform="rotate(-7 90.2 71.2)"/><ellipse cx="14.1" cy="19.0" rx="7.7" ry="0.7" opacity="0.01" transform="rotate(4 14.1 19.0)"/><ellipse cx="137.5" cy="42.7" rx="7.0" ry="1.0" opacity="0.01" transform="rotate(-50 137.5 42.7)"/><ellipse cx="78.8" cy="76.9" rx="8.2" ry="1.2" opacity="0.00" transform="rotate(-54 78.8 76.9)"/><ellipse cx="26.7" cy="25.4" rx="3.9" ry="1.0" opacity="0.00" transform="rotate(-22 26.7 25.4)"/><ellipse cx="7.0" cy="104.8" rx="6.5" ry="0.9" opacity="0.01" transform="rotate(-89 7.0 104.8)"/><ellipse cx="65.1" cy="19.1" rx="4.6" ry="0.7" opacity="0.01" transform="rotate(54 65.1 19.1)"/><ellipse cx="58.9" cy="103.1" rx="9.4" ry="0.9" opacity="0.01" transform="rotate(-15 58.9 103.1)"/><ellipse cx="103.6" cy="18.7" rx="5.5" ry="0.8" opacity="0.01" transform="rotate(59 103.6 18.7)"/><ellipse cx="42.7" cy="103.8" rx="6.6" ry="0.8" opacity="0.00" transform="rotate(13 42.7 103.8)"/><ellipse cx="9.0" cy="31.0" rx="7.1" ry="1.2" opacity="0.03" transform="rotate(-6 9.0 31.0)"/><ellipse cx="49.9" cy="73.8" rx="7.7" ry="0.7" opacity="0.04" transform="rotate(-25 49.9 73.8)"/></g>
<g filter="url(#bl3)" fill="#2a12e0"><circle cx="64.9" cy="60.3" r="1.5" opacity="0.47"/><circle cx="72.9" cy="63.3" r="1.0" opacity="0.51"/><circle cx="90.4" cy="85.5" r="1.0" opacity="0.35"/><circle cx="13.0" cy="87.3" r="1.3" opacity="0.18"/><circle cx="140.9" cy="104.0" r="1.3" opacity="0.59"/><circle cx="22.6" cy="1.6" r="1.2" opacity="0.19"/><circle cx="27.3" cy="26.1" r="0.9" opacity="0.47"/><circle cx="63.2" cy="90.8" r="1.2" opacity="0.61"/><circle cx="71.7" cy="71.4" r="1.2" opacity="0.33"/><circle cx="143.2" cy="107.3" r="1.4" opacity="0.67"/><circle cx="45.2" cy="24.8" r="1.1" opacity="0.20"/><circle cx="110.0" cy="43.2" r="1.4" opacity="0.41"/><circle cx="137.5" cy="91.3" r="0.9" opacity="0.28"/><circle cx="130.6" cy="50.7" r="1.5" opacity="0.42"/><circle cx="10.5" cy="67.9" r="1.4" opacity="0.32"/><circle cx="12.5" cy="35.9" r="1.5" opacity="0.72"/><circle cx="16.9" cy="26.6" r="1.0" opacity="0.19"/><circle cx="114.4" cy="19.2" r="1.2" opacity="0.46"/><circle cx="27.4" cy="78.9" r="1.0" opacity="0.62"/><circle cx="16.7" cy="45.4" r="1.0" opacity="0.32"/><circle cx="139.3" cy="86.6" r="1.1" opacity="0.84"/><circle cx="30.2" cy="42.5" r="1.4" opacity="0.62"/><circle cx="14.4" cy="106.6" r="1.0" opacity="0.32"/><circle cx="110.9" cy="35.5" r="1.1" opacity="0.20"/><circle cx="12.9" cy="62.8" r="1.0" opacity="0.58"/><circle cx="53.3" cy="48.9" r="1.5" opacity="0.48"/><circle cx="82.5" cy="93.4" r="1.0" opacity="0.25"/><circle cx="130.4" cy="88.2" r="1.0" opacity="0.27"/><circle cx="106.1" cy="101.4" r="1.0" opacity="0.90"/><circle cx="126.6" cy="65.1" r="1.2" opacity="0.22"/><circle cx="5.6" cy="103.8" r="1.0" opacity="0.67"/><circle cx="36.9" cy="88.8" r="1.3" opacity="0.34"/><circle cx="25.2" cy="77.7" r="0.9" opacity="0.30"/><circle cx="80.3" cy="91.9" r="1.3" opacity="0.33"/><circle cx="131.6" cy="22.0" r="0.9" opacity="0.32"/><circle cx="64.0" cy="6.5" r="1.0" opacity="0.40"/><circle cx="82.1" cy="14.2" r="1.1" opacity="0.84"/><circle cx="140.7" cy="70.8" r="1.3" opacity="0.57"/><circle cx="20.1" cy="3.8" r="0.9" opacity="0.86"/><circle cx="100.6" cy="103.8" r="0.9" opacity="0.61"/><circle cx="69.2" cy="78.7" r="1.1" opacity="0.95"/><circle cx="10.8" cy="58.9" r="1.3" opacity="0.85"/><circle cx="105.8" cy="75.9" r="1.4" opacity="0.87"/><circle cx="50.5" cy="73.9" r="1.4" opacity="0.82"/><circle cx="59.9" cy="85.2" r="1.4" opacity="0.56"/><circle cx="89.7" cy="41.2" r="1.2" opacity="0.59"/><circle cx="11.5" cy="68.9" r="1.5" opacity="0.83"/><circle cx="104.5" cy="41.9" r="1.3" opacity="0.56"/><circle cx="63.2" cy="90.4" r="1.0" opacity="0.71"/><circle cx="4.3" cy="64.8" r="1.2" opacity="0.30"/><circle cx="100.2" cy="53.6" r="1.3" opacity="0.87"/><circle cx="36.7" cy="1.2" r="1.1" opacity="0.65"/><circle cx="29.1" cy="18.3" r="1.4" opacity="0.63"/><circle cx="63.4" cy="96.1" r="1.1" opacity="0.64"/><circle cx="28.5" cy="46.5" r="1.4" opacity="0.87"/><circle cx="126.3" cy="41.4" r="1.2" opacity="0.36"/><circle cx="19.5" cy="53.5" r="1.4" opacity="0.80"/><circle cx="102.1" cy="102.4" r="1.1" opacity="0.26"/><circle cx="64.7" cy="29.7" r="1.0" opacity="0.43"/><circle cx="89.8" cy="53.2" r="1.1" opacity="0.79"/><circle cx="140.9" cy="48.8" r="0.9" opacity="0.17"/><circle cx="125.3" cy="4.5" r="1.3" opacity="0.56"/><circle cx="44.3" cy="85.3" r="0.9" opacity="0.24"/><circle cx="65.3" cy="2.7" r="1.4" opacity="0.30"/><circle cx="20.2" cy="5.1" r="1.3" opacity="0.46"/><circle cx="90.4" cy="70.6" r="1.4" opacity="0.91"/><circle cx="98.2" cy="21.5" r="1.2" opacity="0.26"/><circle cx="1.5" cy="50.9" r="1.3" opacity="0.26"/><circle cx="39.1" cy="37.3" r="1.3" opacity="0.51"/><circle cx="88.2" cy="81.5" r="1.1" opacity="0.75"/><circle cx="130.0" cy="9.4" r="1.5" opacity="0.69"/><circle cx="18.6" cy="48.9" r="1.3" opacity="0.86"/><circle cx="54.1" cy="61.3" r="1.4" opacity="0.75"/><circle cx="135.5" cy="50.0" r="1.3" opacity="0.28"/><circle cx="103.6" cy="88.2" r="1.3" opacity="0.68"/><circle cx="30.6" cy="97.0" r="1.5" opacity="0.93"/><circle cx="77.1" cy="85.2" r="1.1" opacity="0.86"/><circle cx="122.8" cy="37.6" r="0.9" opacity="0.45"/><circle cx="79.0" cy="82.8" r="1.2" opacity="0.17"/><circle cx="116.1" cy="6.9" r="1.4" opacity="0.26"/><circle cx="48.1" cy="84.9" r="1.0" opacity="0.24"/><circle cx="74.1" cy="78.0" r="1.4" opacity="0.66"/><circle cx="135.7" cy="53.1" r="1.5" opacity="0.21"/><circle cx="31.8" cy="56.8" r="1.1" opacity="0.69"/><circle cx="91.7" cy="56.4" r="1.4" opacity="0.55"/><circle cx="44.7" cy="41.1" r="1.4" opacity="0.85"/><circle cx="29.9" cy="91.7" r="1.5" opacity="0.52"/><circle cx="82.2" cy="21.7" r="1.2" opacity="0.50"/><circle cx="86.9" cy="3.0" r="1.5" opacity="0.51"/><circle cx="57.5" cy="86.4" r="1.2" opacity="0.49"/><circle cx="99.2" cy="7.1" r="1.2" opacity="0.43"/><circle cx="137.3" cy="99.5" r="1.1" opacity="0.48"/><circle cx="18.2" cy="46.8" r="1.4" opacity="0.85"/><circle cx="68.4" cy="34.2" r="1.0" opacity="0.60"/><circle cx="132.8" cy="14.0" r="1.4" opacity="0.17"/><circle cx="27.9" cy="24.5" r="1.3" opacity="0.36"/><circle cx="51.0" cy="66.8" r="1.0" opacity="0.69"/><circle cx="17.6" cy="55.0" r="1.1" opacity="0.28"/><circle cx="76.1" cy="47.1" r="1.1" opacity="0.43"/><circle cx="76.0" cy="17.2" r="1.0" opacity="0.61"/><circle cx="91.6" cy="57.1" r="1.4" opacity="0.59"/><circle cx="122.9" cy="25.1" r="1.3" opacity="0.77"/><circle cx="129.5" cy="34.1" r="1.1" opacity="0.87"/><circle cx="31.3" cy="107.6" r="1.4" opacity="0.23"/><circle cx="34.3" cy="78.3" r="1.1" opacity="0.21"/><circle cx="119.4" cy="45.5" r="1.4" opacity="0.23"/><circle cx="57.8" cy="73.9" r="0.9" opacity="0.28"/><circle cx="97.9" cy="98.2" r="1.5" opacity="0.22"/><circle cx="72.6" cy="81.7" r="1.2" opacity="0.65"/><circle cx="27.1" cy="7.6" r="1.0" opacity="0.18"/><circle cx="79.2" cy="55.5" r="1.2" opacity="0.24"/><circle cx="26.5" cy="22.0" r="1.4" opacity="0.94"/><circle cx="133.0" cy="10.3" r="0.9" opacity="0.90"/><circle cx="66.3" cy="82.4" r="1.1" opacity="0.47"/><circle cx="73.9" cy="46.4" r="1.3" opacity="0.16"/><circle cx="100.6" cy="91.0" r="1.0" opacity="0.46"/><circle cx="106.1" cy="43.7" r="1.0" opacity="0.25"/><circle cx="73.6" cy="1.7" r="1.4" opacity="0.76"/><circle cx="101.1" cy="92.8" r="1.3" opacity="0.42"/><circle cx="86.0" cy="54.4" r="1.5" opacity="0.76"/><circle cx="37.1" cy="98.2" r="1.3" opacity="0.74"/><circle cx="116.9" cy="43.7" r="1.4" opacity="0.83"/><circle cx="99.7" cy="82.7" r="1.4" opacity="0.42"/><circle cx="103.7" cy="7.6" r="1.1" opacity="0.47"/><circle cx="1.5" cy="38.3" r="1.3" opacity="0.60"/><circle cx="33.3" cy="101.8" r="1.3" opacity="0.37"/><circle cx="94.7" cy="61.4" r="1.2" opacity="0.41"/><circle cx="143.5" cy="69.2" r="1.3" opacity="0.72"/><circle cx="140.6" cy="2.5" r="1.3" opacity="0.70"/><circle cx="36.8" cy="43.3" r="0.9" opacity="0.27"/><circle cx="53.9" cy="10.6" r="1.1" opacity="0.86"/><circle cx="78.9" cy="54.7" r="1.5" opacity="0.55"/><circle cx="142.8" cy="68.8" r="1.4" opacity="0.20"/><circle cx="85.7" cy="81.8" r="0.9" opacity="0.88"/><circle cx="23.0" cy="50.9" r="1.0" opacity="0.49"/><circle cx="87.7" cy="6.3" r="1.5" opacity="0.44"/><circle cx="75.6" cy="64.4" r="1.1" opacity="0.34"/><circle cx="94.0" cy="60.4" r="1.1" opacity="0.68"/><circle cx="42.5" cy="1.5" r="1.0" opacity="0.18"/><circle cx="22.5" cy="81.4" r="1.1" opacity="0.85"/><circle cx="107.4" cy="5.4" r="1.5" opacity="0.90"/><circle cx="10.5" cy="97.6" r="1.2" opacity="0.48"/><circle cx="139.6" cy="26.3" r="1.2" opacity="0.89"/><circle cx="103.7" cy="50.5" r="1.5" opacity="0.77"/><circle cx="86.6" cy="12.4" r="1.3" opacity="0.46"/><circle cx="29.2" cy="5.6" r="1.2" opacity="0.23"/><circle cx="63.6" cy="72.0" r="1.2" opacity="0.32"/><circle cx="83.6" cy="45.2" r="1.4" opacity="0.52"/><circle cx="143.2" cy="102.7" r="1.3" opacity="0.30"/><circle cx="16.3" cy="96.2" r="1.4" opacity="0.60"/><circle cx="51.5" cy="29.3" r="1.3" opacity="0.55"/><circle cx="84.9" cy="68.2" r="1.4" opacity="0.27"/><circle cx="35.7" cy="105.6" r="1.4" opacity="0.83"/><circle cx="5.7" cy="6.6" r="1.1" opacity="0.44"/><circle cx="89.5" cy="11.0" r="1.2" opacity="0.20"/><circle cx="12.4" cy="72.9" r="1.2" opacity="0.61"/><circle cx="53.6" cy="51.6" r="1.0" opacity="0.38"/><circle cx="106.9" cy="90.4" r="0.9" opacity="0.23"/><circle cx="116.1" cy="67.2" r="1.4" opacity="0.29"/><circle cx="60.9" cy="27.8" r="1.4" opacity="0.40"/><circle cx="93.8" cy="106.6" r="1.1" opacity="0.54"/><circle cx="107.1" cy="99.3" r="1.2" opacity="0.40"/><circle cx="13.9" cy="94.3" r="0.9" opacity="0.20"/><circle cx="81.0" cy="52.3" r="1.3" opacity="0.35"/><circle cx="111.3" cy="8.2" r="1.0" opacity="0.63"/><circle cx="11.7" cy="32.8" r="1.3" opacity="0.66"/><circle cx="40.6" cy="15.4" r="1.1" opacity="0.69"/><circle cx="52.6" cy="12.7" r="1.3" opacity="0.55"/><circle cx="131.8" cy="101.3" r="1.4" opacity="0.45"/><circle cx="115.2" cy="32.9" r="1.1" opacity="0.42"/><circle cx="134.1" cy="96.5" r="1.0" opacity="0.39"/><circle cx="52.5" cy="39.2" r="1.1" opacity="0.41"/><circle cx="28.0" cy="60.8" r="1.4" opacity="0.53"/><circle cx="120.0" cy="60.7" r="1.0" opacity="0.72"/><circle cx="126.4" cy="30.3" r="0.9" opacity="0.51"/><circle cx="78.1" cy="61.2" r="1.5" opacity="0.62"/><circle cx="115.4" cy="6.9" r="1.2" opacity="0.75"/><circle cx="12.1" cy="8.8" r="1.3" opacity="0.85"/><circle cx="12.2" cy="68.4" r="1.0" opacity="0.71"/><circle cx="93.1" cy="26.5" r="1.0" opacity="0.73"/><circle cx="74.8" cy="82.4" r="1.1" opacity="0.37"/><circle cx="138.9" cy="72.5" r="1.2" opacity="0.53"/><circle cx="103.5" cy="76.3" r="1.4" opacity="0.43"/><circle cx="118.6" cy="71.9" r="1.4" opacity="0.76"/><circle cx="119.7" cy="95.8" r="1.5" opacity="0.61"/><circle cx="75.2" cy="76.5" r="1.4" opacity="0.44"/><circle cx="60.3" cy="15.8" r="1.3" opacity="0.94"/><circle cx="53.9" cy="18.1" r="1.0" opacity="0.44"/><circle cx="41.9" cy="104.5" r="0.9" opacity="0.35"/><circle cx="16.5" cy="69.9" r="1.4" opacity="0.26"/><circle cx="8.9" cy="49.5" r="1.3" opacity="0.86"/><circle cx="5.2" cy="11.7" r="1.0" opacity="0.29"/><circle cx="33.8" cy="77.3" r="1.3" opacity="0.29"/><circle cx="26.5" cy="30.3" r="1.0" opacity="0.72"/><circle cx="44.7" cy="59.1" r="1.4" opacity="0.48"/><circle cx="37.4" cy="95.7" r="1.4" opacity="0.38"/><circle cx="78.5" cy="103.2" r="1.2" opacity="0.29"/><circle cx="7.1" cy="102.1" r="1.4" opacity="0.41"/><circle cx="75.7" cy="55.6" r="1.1" opacity="0.94"/><circle cx="94.4" cy="25.6" r="0.9" opacity="0.48"/><circle cx="53.3" cy="85.9" r="1.3" opacity="0.59"/><circle cx="22.6" cy="16.9" r="1.1" opacity="0.32"/><circle cx="124.7" cy="55.6" r="1.3" opacity="0.94"/><circle cx="38.2" cy="57.6" r="1.0" opacity="0.73"/><circle cx="0.2" cy="88.5" r="1.4" opacity="0.78"/><circle cx="11.8" cy="29.1" r="1.3" opacity="0.21"/><circle cx="68.9" cy="50.5" r="1.5" opacity="0.57"/><circle cx="123.0" cy="32.7" r="1.4" opacity="0.43"/><circle cx="131.6" cy="9.8" r="1.4" opacity="0.28"/><circle cx="78.0" cy="56.7" r="1.0" opacity="0.79"/><circle cx="44.7" cy="33.5" r="0.9" opacity="0.35"/><circle cx="67.0" cy="77.1" r="1.1" opacity="0.66"/><circle cx="15.2" cy="42.5" r="1.2" opacity="0.92"/><circle cx="119.1" cy="70.5" r="0.9" opacity="0.40"/><circle cx="101.9" cy="25.6" r="1.2" opacity="0.46"/><circle cx="1.5" cy="106.9" r="1.4" opacity="0.28"/><circle cx="88.4" cy="31.3" r="1.1" opacity="0.53"/><circle cx="42.8" cy="36.4" r="1.1" opacity="0.64"/><circle cx="36.8" cy="21.6" r="1.3" opacity="0.37"/><circle cx="135.6" cy="60.7" r="1.3" opacity="0.37"/><circle cx="118.7" cy="9.9" r="1.0" opacity="0.21"/><circle cx="97.2" cy="76.4" r="1.0" opacity="0.42"/><circle cx="120.1" cy="63.9" r="1.0" opacity="0.30"/><circle cx="22.5" cy="13.4" r="1.1" opacity="0.20"/><circle cx="132.1" cy="46.0" r="1.2" opacity="0.62"/><circle cx="110.0" cy="88.5" r="1.1" opacity="0.37"/><circle cx="59.1" cy="1.7" r="1.1" opacity="0.67"/><circle cx="140.9" cy="85.1" r="1.3" opacity="0.59"/><circle cx="2.7" cy="35.7" r="1.1" opacity="0.62"/><circle cx="15.3" cy="40.7" r="1.2" opacity="0.75"/><circle cx="118.4" cy="65.9" r="1.0" opacity="0.73"/><circle cx="129.6" cy="59.1" r="1.1" opacity="0.50"/><circle cx="20.3" cy="76.9" r="1.5" opacity="0.51"/><circle cx="102.7" cy="90.1" r="1.0" opacity="0.90"/><circle cx="90.0" cy="21.3" r="0.9" opacity="0.31"/><circle cx="82.7" cy="75.1" r="1.1" opacity="0.88"/><circle cx="51.8" cy="49.9" r="1.0" opacity="0.92"/><circle cx="19.5" cy="97.5" r="1.2" opacity="0.55"/><circle cx="80.4" cy="28.5" r="1.4" opacity="0.94"/><circle cx="117.3" cy="64.8" r="1.0" opacity="0.78"/><circle cx="41.4" cy="96.7" r="1.0" opacity="0.56"/><circle cx="119.2" cy="20.0" r="1.2" opacity="0.20"/><circle cx="4.6" cy="19.4" r="1.5" opacity="0.89"/><circle cx="94.5" cy="33.2" r="1.3" opacity="0.70"/><circle cx="54.8" cy="63.8" r="1.4" opacity="0.17"/><circle cx="28.6" cy="50.5" r="1.0" opacity="0.41"/><circle cx="81.7" cy="18.7" r="1.2" opacity="0.32"/><circle cx="81.5" cy="35.8" r="1.3" opacity="0.18"/><circle cx="96.3" cy="15.6" r="1.5" opacity="0.58"/><circle cx="67.4" cy="44.4" r="1.3" opacity="0.66"/><circle cx="108.8" cy="81.0" r="1.2" opacity="0.94"/><circle cx="120.3" cy="92.2" r="1.1" opacity="0.45"/><circle cx="81.2" cy="97.6" r="1.2" opacity="0.52"/><circle cx="62.0" cy="97.5" r="1.1" opacity="0.19"/><circle cx="104.1" cy="97.0" r="1.3" opacity="0.58"/><circle cx="107.9" cy="32.9" r="1.3" opacity="0.20"/><circle cx="17.9" cy="48.2" r="1.2" opacity="0.42"/><circle cx="7.5" cy="74.9" r="1.2" opacity="0.30"/><circle cx="44.0" cy="42.6" r="1.0" opacity="0.19"/><circle cx="130.8" cy="104.2" r="1.3" opacity="0.82"/><circle cx="60.5" cy="86.8" r="1.0" opacity="0.71"/><circle cx="81.3" cy="97.4" r="1.0" opacity="0.75"/><circle cx="17.8" cy="58.0" r="1.5" opacity="0.16"/><circle cx="35.0" cy="32.3" r="1.1" opacity="0.19"/><circle cx="128.5" cy="87.9" r="1.1" opacity="0.39"/><circle cx="84.0" cy="4.9" r="0.9" opacity="0.85"/><circle cx="44.2" cy="53.7" r="1.5" opacity="0.93"/><circle cx="67.8" cy="22.3" r="1.1" opacity="0.87"/><circle cx="128.7" cy="21.1" r="1.4" opacity="0.39"/><circle cx="67.8" cy="18.5" r="1.4" opacity="0.95"/><circle cx="29.0" cy="68.2" r="1.0" opacity="0.83"/><circle cx="7.2" cy="11.4" r="1.3" opacity="0.36"/><circle cx="129.2" cy="93.7" r="1.3" opacity="0.24"/><circle cx="99.9" cy="101.1" r="1.2" opacity="0.20"/><circle cx="32.0" cy="33.1" r="1.3" opacity="0.27"/><circle cx="26.0" cy="25.4" r="1.3" opacity="0.75"/><circle cx="53.5" cy="71.4" r="1.4" opacity="0.57"/><circle cx="32.9" cy="32.4" r="1.5" opacity="0.64"/><circle cx="39.7" cy="69.0" r="1.0" opacity="0.93"/><circle cx="63.2" cy="57.0" r="1.2" opacity="0.18"/><circle cx="86.1" cy="30.7" r="1.1" opacity="0.76"/><circle cx="12.5" cy="30.7" r="1.4" opacity="0.31"/><circle cx="40.1" cy="59.1" r="1.0" opacity="0.85"/><circle cx="141.7" cy="3.6" r="1.2" opacity="0.71"/><circle cx="55.2" cy="100.2" r="1.2" opacity="0.26"/><circle cx="79.8" cy="69.5" r="1.1" opacity="0.63"/><circle cx="112.4" cy="55.7" r="1.2" opacity="0.80"/><circle cx="98.2" cy="56.1" r="1.5" opacity="0.26"/><circle cx="111.9" cy="17.8" r="1.3" opacity="0.30"/><circle cx="63.2" cy="83.3" r="1.4" opacity="0.75"/><circle cx="33.9" cy="52.7" r="1.0" opacity="0.56"/><circle cx="71.6" cy="3.8" r="1.3" opacity="0.68"/><circle cx="82.2" cy="94.1" r="1.0" opacity="0.25"/><circle cx="2.6" cy="53.5" r="1.2" opacity="0.45"/><circle cx="37.7" cy="86.1" r="0.9" opacity="0.86"/><circle cx="81.6" cy="58.6" r="1.4" opacity="0.30"/><circle cx="21.0" cy="33.5" r="0.9" opacity="0.36"/><circle cx="89.1" cy="56.6" r="1.1" opacity="0.57"/><circle cx="12.7" cy="88.5" r="1.0" opacity="0.31"/><circle cx="22.9" cy="74.5" r="1.4" opacity="0.75"/><circle cx="8.8" cy="44.3" r="1.1" opacity="0.29"/><circle cx="139.3" cy="4.5" r="1.2" opacity="0.72"/><circle cx="141.5" cy="15.6" r="1.2" opacity="0.71"/><circle cx="5.6" cy="25.9" r="1.4" opacity="0.24"/><circle cx="56.4" cy="32.1" r="1.2" opacity="0.20"/><circle cx="4.9" cy="107.4" r="1.4" opacity="0.70"/><circle cx="33.0" cy="27.3" r="1.2" opacity="0.31"/><circle cx="66.2" cy="100.5" r="1.1" opacity="0.37"/><circle cx="140.8" cy="65.9" r="0.9" opacity="0.42"/><circle cx="93.2" cy="6.3" r="1.1" opacity="0.66"/><circle cx="124.0" cy="63.7" r="1.4" opacity="0.47"/><circle cx="56.4" cy="90.9" r="1.1" opacity="0.74"/><circle cx="30.9" cy="37.5" r="1.0" opacity="0.54"/><circle cx="23.5" cy="22.0" r="1.0" opacity="0.47"/><circle cx="44.3" cy="48.2" r="1.5" opacity="0.65"/><circle cx="123.8" cy="22.1" r="1.1" opacity="0.20"/><circle cx="99.2" cy="39.1" r="1.1" opacity="0.17"/><circle cx="26.1" cy="28.3" r="1.1" opacity="0.87"/><circle cx="102.6" cy="29.0" r="1.1" opacity="0.25"/><circle cx="134.4" cy="38.8" r="1.4" opacity="0.69"/><circle cx="130.2" cy="2.2" r="1.1" opacity="0.41"/><circle cx="11.9" cy="95.1" r="1.1" opacity="0.73"/><circle cx="74.5" cy="5.9" r="1.1" opacity="0.30"/><circle cx="5.9" cy="16.3" r="1.3" opacity="0.17"/><circle cx="44.8" cy="45.7" r="1.2" opacity="0.24"/><circle cx="101.4" cy="28.1" r="1.3" opacity="0.64"/><circle cx="21.1" cy="22.1" r="1.1" opacity="0.68"/><circle cx="58.2" cy="41.7" r="1.4" opacity="0.29"/><circle cx="41.9" cy="37.2" r="1.0" opacity="0.18"/><circle cx="3.5" cy="68.0" r="1.2" opacity="0.77"/><circle cx="140.0" cy="32.1" r="1.3" opacity="0.87"/><circle cx="31.0" cy="74.3" r="1.3" opacity="0.91"/><circle cx="124.6" cy="25.3" r="1.3" opacity="0.21"/><circle cx="61.4" cy="42.3" r="0.9" opacity="0.41"/><circle cx="47.1" cy="53.6" r="1.1" opacity="0.25"/><circle cx="57.8" cy="51.2" r="1.0" opacity="0.64"/><circle cx="34.4" cy="10.0" r="1.1" opacity="0.44"/><circle cx="21.6" cy="62.8" r="1.3" opacity="0.54"/><circle cx="100.5" cy="2.5" r="1.1" opacity="0.39"/><circle cx="9.0" cy="43.6" r="0.9" opacity="0.49"/><circle cx="84.1" cy="50.6" r="1.1" opacity="0.31"/><circle cx="3.4" cy="37.4" r="1.4" opacity="0.55"/><circle cx="37.6" cy="72.0" r="1.0" opacity="0.47"/><circle cx="88.3" cy="102.9" r="1.1" opacity="0.56"/><circle cx="135.2" cy="83.2" r="1.3" opacity="0.60"/><circle cx="59.0" cy="44.8" r="1.1" opacity="0.79"/><circle cx="126.2" cy="41.2" r="1.4" opacity="0.18"/><circle cx="19.5" cy="54.7" r="1.1" opacity="0.39"/><circle cx="140.2" cy="16.2" r="1.0" opacity="0.30"/><circle cx="97.6" cy="25.3" r="0.9" opacity="0.53"/><circle cx="56.5" cy="25.8" r="1.2" opacity="0.62"/><circle cx="78.7" cy="67.3" r="1.2" opacity="0.79"/><circle cx="139.0" cy="36.0" r="1.1" opacity="0.84"/><circle cx="45.0" cy="77.2" r="1.3" opacity="0.66"/><circle cx="138.3" cy="88.9" r="1.0" opacity="0.60"/><circle cx="70.4" cy="60.8" r="1.1" opacity="0.34"/><circle cx="107.5" cy="57.6" r="1.0" opacity="0.31"/><circle cx="46.6" cy="19.2" r="1.2" opacity="0.23"/><circle cx="9.1" cy="7.4" r="1.0" opacity="0.67"/><circle cx="16.2" cy="48.7" r="1.4" opacity="0.48"/></g>
</svg>
<svg x="167.8" y="432.2" width="143.30" height="107.80" viewBox="0 0 143.30 107.80" overflow="hidden">
<rect width="143.30" height="107.80" fill="#120327"/>
<rect width="143.30" height="107.80" fill="#601080" opacity="0.1" filter="url(#nz)"/>
<g filter="url(#bl4)" fill="#c81880"><ellipse cx="84.2" cy="19.2" rx="9.5" ry="1.8" opacity="0.01" transform="rotate(22 84.2 19.2)"/><ellipse cx="29.2" cy="22.3" rx="7.9" ry="1.5" opacity="0.02" transform="rotate(25 29.2 22.3)"/><ellipse cx="7.6" cy="19.0" rx="8.4" ry="1.7" opacity="0.01" transform="rotate(5 7.6 19.0)"/><ellipse cx="45.9" cy="69.7" rx="4.6" ry="1.8" opacity="0.00" transform="rotate(-32 45.9 69.7)"/><ellipse cx="13.6" cy="90.9" rx="7.7" ry="2.3" opacity="0.01" transform="rotate(-10 13.6 90.9)"/><ellipse cx="53.9" cy="45.2" rx="7.7" ry="1.2" opacity="0.01" transform="rotate(-11 53.9 45.2)"/><ellipse cx="77.3" cy="36.4" rx="8.0" ry="1.2" opacity="0.01" transform="rotate(-69 77.3 36.4)"/><ellipse cx="20.0" cy="0.9" rx="3.6" ry="1.4" opacity="0.01" transform="rotate(26 20.0 0.9)"/><ellipse cx="106.2" cy="38.4" rx="6.4" ry="1.8" opacity="0.02" transform="rotate(-64 106.2 38.4)"/><ellipse cx="43.7" cy="96.2" rx="7.8" ry="1.2" opacity="0.00" transform="rotate(-17 43.7 96.2)"/><ellipse cx="1.8" cy="36.4" rx="9.1" ry="2.3" opacity="0.00" transform="rotate(60 1.8 36.4)"/><ellipse cx="102.9" cy="85.3" rx="8.6" ry="1.4" opacity="0.00" transform="rotate(-95 102.9 85.3)"/><ellipse cx="115.9" cy="81.2" rx="6.2" ry="2.4" opacity="0.00" transform="rotate(-104 115.9 81.2)"/><ellipse cx="140.6" cy="97.8" rx="3.6" ry="1.9" opacity="0.01" transform="rotate(-178 140.6 97.8)"/><ellipse cx="49.6" cy="3.6" rx="8.8" ry="1.3" opacity="0.02" transform="rotate(20 49.6 3.6)"/><ellipse cx="34.5" cy="20.3" rx="9.8" ry="2.4" opacity="0.00" transform="rotate(8 34.5 20.3)"/><ellipse cx="11.3" cy="71.5" rx="3.2" ry="2.0" opacity="0.02" transform="rotate(18 11.3 71.5)"/><ellipse cx="65.8" cy="61.9" rx="4.8" ry="1.6" opacity="0.01" transform="rotate(-13 65.8 61.9)"/><ellipse cx="79.9" cy="58.0" rx="9.5" ry="1.6" opacity="0.01" transform="rotate(-74 79.9 58.0)"/><ellipse cx="131.1" cy="42.7" rx="4.7" ry="1.3" opacity="0.00" transform="rotate(-153 131.1 42.7)"/><ellipse cx="15.1" cy="36.0" rx="6.2" ry="2.1" opacity="0.01" transform="rotate(16 15.1 36.0)"/><ellipse cx="100.1" cy="38.5" rx="6.9" ry="1.4" opacity="0.01" transform="rotate(-54 100.1 38.5)"/><ellipse cx="44.8" cy="74.1" rx="4.8" ry="1.8" opacity="0.01" transform="rotate(-5 44.8 74.1)"/><ellipse cx="41.5" cy="1.6" rx="9.9" ry="2.2" opacity="0.01" transform="rotate(7 41.5 1.6)"/><ellipse cx="97.0" cy="27.7" rx="9.6" ry="2.2" opacity="0.01" transform="rotate(-31 97.0 27.7)"/><ellipse cx="144.5" cy="102.1" rx="6.0" ry="1.8" opacity="0.00" transform="rotate(-203 144.5 102.1)"/><ellipse cx="89.5" cy="13.4" rx="9.0" ry="1.3" opacity="0.01" transform="rotate(-3 89.5 13.4)"/><ellipse cx="36.9" cy="69.8" rx="9.8" ry="2.2" opacity="0.01" transform="rotate(1 36.9 69.8)"/><ellipse cx="106.5" cy="13.7" rx="6.0" ry="1.5" opacity="0.00" transform="rotate(-35 106.5 13.7)"/><ellipse cx="29.5" cy="87.8" rx="4.7" ry="1.4" opacity="0.00" transform="rotate(-61 29.5 87.8)"/><ellipse cx="106.5" cy="64.0" rx="9.3" ry="1.8" opacity="0.00" transform="rotate(-96 106.5 64.0)"/><ellipse cx="25.4" cy="55.9" rx="9.4" ry="1.9" opacity="0.00" transform="rotate(23 25.4 55.9)"/><ellipse cx="85.9" cy="103.6" rx="9.5" ry="2.4" opacity="0.01" transform="rotate(-109 85.9 103.6)"/><ellipse cx="69.2" cy="11.7" rx="3.4" ry="2.0" opacity="0.01" transform="rotate(-25 69.2 11.7)"/><ellipse cx="146.0" cy="65.7" rx="5.9" ry="1.4" opacity="0.00" transform="rotate(-104 146.0 65.7)"/><ellipse cx="40.2" cy="57.5" rx="5.2" ry="1.5" opacity="0.01" transform="rotate(39 40.2 57.5)"/><ellipse cx="55.3" cy="60.7" rx="9.0" ry="2.4" opacity="0.01" transform="rotate(-56 55.3 60.7)"/><ellipse cx="137.4" cy="34.9" rx="5.2" ry="2.4" opacity="0.01" transform="rotate(-149 137.4 34.9)"/><ellipse cx="27.1" cy="14.2" rx="6.1" ry="2.4" opacity="0.02" transform="rotate(20 27.1 14.2)"/><ellipse cx="110.7" cy="83.2" rx="8.5" ry="1.5" opacity="0.01" transform="rotate(-161 110.7 83.2)"/><ellipse cx="2.0" cy="98.7" rx="7.2" ry="2.1" opacity="0.01" transform="rotate(-67 2.0 98.7)"/><ellipse cx="99.3" cy="39.1" rx="9.6" ry="2.0" opacity="0.02" transform="rotate(-42 99.3 39.1)"/><ellipse cx="124.5" cy="3.3" rx="3.8" ry="2.1" opacity="0.01" transform="rotate(-58 124.5 3.3)"/><ellipse cx="125.2" cy="2.1" rx="3.4" ry="1.3" opacity="0.00" transform="rotate(-33 125.2 2.1)"/><ellipse cx="15.8" cy="109.4" rx="9.4" ry="1.4" opacity="0.01" transform="rotate(9 15.8 109.4)"/><ellipse cx="116.3" cy="79.9" rx="9.8" ry="2.1" opacity="0.01" transform="rotate(-160 116.3 79.9)"/><ellipse cx="39.7" cy="42.3" rx="6.7" ry="1.8" opacity="0.02" transform="rotate(38 39.7 42.3)"/><ellipse cx="60.1" cy="94.9" rx="6.8" ry="2.1" opacity="0.00" transform="rotate(-94 60.1 94.9)"/><ellipse cx="101.5" cy="29.6" rx="7.4" ry="1.4" opacity="0.02" transform="rotate(-49 101.5 29.6)"/><ellipse cx="33.4" cy="12.6" rx="3.6" ry="1.3" opacity="0.01" transform="rotate(44 33.4 12.6)"/><ellipse cx="11.6" cy="58.7" rx="6.2" ry="2.3" opacity="0.02" transform="rotate(32 11.6 58.7)"/><ellipse cx="21.7" cy="5.7" rx="9.1" ry="2.3" opacity="0.01" transform="rotate(80 21.7 5.7)"/><ellipse cx="73.5" cy="106.2" rx="8.4" ry="2.4" opacity="0.00" transform="rotate(-49 73.5 106.2)"/><ellipse cx="108.2" cy="63.6" rx="4.9" ry="2.1" opacity="0.01" transform="rotate(-157 108.2 63.6)"/><ellipse cx="81.4" cy="29.8" rx="9.1" ry="2.5" opacity="0.01" transform="rotate(-20 81.4 29.8)"/><ellipse cx="106.7" cy="7.0" rx="7.0" ry="2.3" opacity="0.00" transform="rotate(-84 106.7 7.0)"/><ellipse cx="19.1" cy="54.0" rx="4.1" ry="1.4" opacity="0.01" transform="rotate(-12 19.1 54.0)"/><ellipse cx="115.9" cy="16.5" rx="3.7" ry="1.5" opacity="0.01" transform="rotate(-41 115.9 16.5)"/><ellipse cx="-1.9" cy="33.7" rx="4.7" ry="2.4" opacity="0.00" transform="rotate(-12 -1.9 33.7)"/><ellipse cx="105.0" cy="100.8" rx="9.0" ry="1.6" opacity="0.01" transform="rotate(-149 105.0 100.8)"/><ellipse cx="84.1" cy="37.0" rx="7.9" ry="1.6" opacity="0.01" transform="rotate(-4 84.1 37.0)"/><ellipse cx="41.2" cy="29.6" rx="9.8" ry="1.4" opacity="0.02" transform="rotate(69 41.2 29.6)"/><ellipse cx="104.1" cy="-1.7" rx="6.1" ry="2.4" opacity="0.02" transform="rotate(-81 104.1 -1.7)"/><ellipse cx="34.6" cy="47.8" rx="4.6" ry="1.3" opacity="0.01" transform="rotate(49 34.6 47.8)"/><ellipse cx="99.1" cy="96.5" rx="3.2" ry="1.4" opacity="0.00" transform="rotate(-84 99.1 96.5)"/><ellipse cx="86.4" cy="43.3" rx="7.3" ry="2.0" opacity="0.01" transform="rotate(-13 86.4 43.3)"/><ellipse cx="27.7" cy="99.0" rx="8.8" ry="2.2" opacity="0.00" transform="rotate(7 27.7 99.0)"/><ellipse cx="5.0" cy="38.6" rx="4.5" ry="2.3" opacity="0.02" transform="rotate(39 5.0 38.6)"/><ellipse cx="101.5" cy="52.2" rx="8.7" ry="1.4" opacity="0.01" transform="rotate(-120 101.5 52.2)"/><ellipse cx="110.8" cy="69.4" rx="9.1" ry="1.6" opacity="0.01" transform="rotate(-147 110.8 69.4)"/><ellipse cx="62.8" cy="77.0" rx="7.5" ry="1.8" opacity="0.01" transform="rotate(-92 62.8 77.0)"/><ellipse cx="51.9" cy="62.1" rx="3.5" ry="2.2" opacity="0.01" transform="rotate(20 51.9 62.1)"/><ellipse cx="42.0" cy="28.3" rx="8.9" ry="1.5" opacity="0.02" transform="rotate(5 42.0 28.3)"/><ellipse cx="74.5" cy="29.5" rx="7.1" ry="2.3" opacity="0.00" transform="rotate(12 74.5 29.5)"/><ellipse cx="100.8" cy="0.2" rx="6.0" ry="1.6" opacity="0.00" transform="rotate(-69 100.8 0.2)"/><ellipse cx="82.4" cy="82.1" rx="6.6" ry="2.2" opacity="0.00" transform="rotate(-94 82.4 82.1)"/><ellipse cx="146.7" cy="-0.3" rx="8.8" ry="1.5" opacity="0.00" transform="rotate(-97 146.7 -0.3)"/><ellipse cx="22.6" cy="108.1" rx="3.7" ry="1.9" opacity="0.00" transform="rotate(13 22.6 108.1)"/><ellipse cx="-0.3" cy="22.2" rx="6.8" ry="1.6" opacity="0.01" transform="rotate(51 -0.3 22.2)"/><ellipse cx="9.4" cy="36.0" rx="8.8" ry="1.7" opacity="0.01" transform="rotate(-11 9.4 36.0)"/></g>
<g filter="url(#bl2)" fill="#c81880"><ellipse cx="84.2" cy="19.2" rx="9.0" ry="0.9" opacity="0.04" transform="rotate(22 84.2 19.2)"/><ellipse cx="29.2" cy="22.3" rx="7.5" ry="0.7" opacity="0.06" transform="rotate(25 29.2 22.3)"/><ellipse cx="7.6" cy="19.0" rx="8.0" ry="0.8" opacity="0.02" transform="rotate(5 7.6 19.0)"/><ellipse cx="45.9" cy="69.7" rx="4.4" ry="0.9" opacity="0.02" transform="rotate(-32 45.9 69.7)"/><ellipse cx="13.6" cy="90.9" rx="7.3" ry="1.2" opacity="0.02" transform="rotate(-10 13.6 90.9)"/><ellipse cx="53.9" cy="45.2" rx="7.3" ry="0.6" opacity="0.02" transform="rotate(-11 53.9 45.2)"/><ellipse cx="77.3" cy="36.4" rx="7.6" ry="0.6" opacity="0.03" transform="rotate(-69 77.3 36.4)"/><ellipse cx="20.0" cy="0.9" rx="3.4" ry="0.7" opacity="0.04" transform="rotate(26 20.0 0.9)"/><ellipse cx="106.2" cy="38.4" rx="6.1" ry="0.9" opacity="0.05" transform="rotate(-64 106.2 38.4)"/><ellipse cx="43.7" cy="96.2" rx="7.4" ry="0.6" opacity="0.01" transform="rotate(-17 43.7 96.2)"/><ellipse cx="1.8" cy="36.4" rx="8.7" ry="1.1" opacity="0.01" transform="rotate(60 1.8 36.4)"/><ellipse cx="102.9" cy="85.3" rx="8.1" ry="0.7" opacity="0.01" transform="rotate(-95 102.9 85.3)"/><ellipse cx="115.9" cy="81.2" rx="5.9" ry="1.2" opacity="0.01" transform="rotate(-104 115.9 81.2)"/><ellipse cx="140.6" cy="97.8" rx="3.4" ry="1.0" opacity="0.04" transform="rotate(-178 140.6 97.8)"/><ellipse cx="49.6" cy="3.6" rx="8.4" ry="0.7" opacity="0.06" transform="rotate(20 49.6 3.6)"/><ellipse cx="34.5" cy="20.3" rx="9.4" ry="1.2" opacity="0.02" transform="rotate(8 34.5 20.3)"/><ellipse cx="11.3" cy="71.5" rx="3.1" ry="1.0" opacity="0.05" transform="rotate(18 11.3 71.5)"/><ellipse cx="65.8" cy="61.9" rx="4.6" ry="0.8" opacity="0.04" transform="rotate(-13 65.8 61.9)"/><ellipse cx="79.9" cy="58.0" rx="9.1" ry="0.8" opacity="0.04" transform="rotate(-74 79.9 58.0)"/><ellipse cx="131.1" cy="42.7" rx="4.4" ry="0.6" opacity="0.01" transform="rotate(-153 131.1 42.7)"/><ellipse cx="15.1" cy="36.0" rx="5.9" ry="1.0" opacity="0.04" transform="rotate(16 15.1 36.0)"/><ellipse cx="100.1" cy="38.5" rx="6.6" ry="0.7" opacity="0.03" transform="rotate(-54 100.1 38.5)"/><ellipse cx="44.8" cy="74.1" rx="4.6" ry="0.9" opacity="0.02" transform="rotate(-5 44.8 74.1)"/><ellipse cx="41.5" cy="1.6" rx="9.5" ry="1.1" opacity="0.02" transform="rotate(7 41.5 1.6)"/><ellipse cx="97.0" cy="27.7" rx="9.2" ry="1.1" opacity="0.02" transform="rotate(-31 97.0 27.7)"/><ellipse cx="144.5" cy="102.1" rx="5.7" ry="0.9" opacity="0.01" transform="rotate(-203 144.5 102.1)"/><ellipse cx="89.5" cy="13.4" rx="8.6" ry="0.6" opacity="0.04" transform="rotate(-3 89.5 13.4)"/><ellipse cx="36.9" cy="69.8" rx="9.3" ry="1.1" opacity="0.02" transform="rotate(1 36.9 69.8)"/><ellipse cx="106.5" cy="13.7" rx="5.7" ry="0.8" opacity="0.01" transform="rotate(-35 106.5 13.7)"/><ellipse cx="29.5" cy="87.8" rx="4.5" ry="0.7" opacity="0.01" transform="rotate(-61 29.5 87.8)"/><ellipse cx="106.5" cy="64.0" rx="8.9" ry="0.9" opacity="0.01" transform="rotate(-96 106.5 64.0)"/><ellipse cx="25.4" cy="55.9" rx="9.0" ry="0.9" opacity="0.01" transform="rotate(23 25.4 55.9)"/><ellipse cx="85.9" cy="103.6" rx="9.1" ry="1.2" opacity="0.03" transform="rotate(-109 85.9 103.6)"/><ellipse cx="69.2" cy="11.7" rx="3.3" ry="1.0" opacity="0.04" transform="rotate(-25 69.2 11.7)"/><ellipse cx="146.0" cy="65.7" rx="5.6" ry="0.7" opacity="0.01" transform="rotate(-104 146.0 65.7)"/><ellipse cx="40.2" cy="57.5" rx="4.9" ry="0.8" opacity="0.04" transform="rotate(39 40.2 57.5)"/><ellipse cx="55.3" cy="60.7" rx="8.5" ry="1.2" opacity="0.04" transform="rotate(-56 55.3 60.7)"/><ellipse cx="137.4" cy="34.9" rx="5.0" ry="1.2" opacity="0.02" transform="rotate(-149 137.4 34.9)"/><ellipse cx="27.1" cy="14.2" rx="5.9" ry="1.2" opacity="0.06" transform="rotate(20 27.1 14.2)"/><ellipse cx="110.7" cy="83.2" rx="8.1" ry="0.7" opacity="0.03" transform="rotate(-161 110.7 83.2)"/><ellipse cx="2.0" cy="98.7" rx="6.9" ry="1.0" opacity="0.04" transform="rotate(-67 2.0 98.7)"/><ellipse cx="99.3" cy="39.1" rx="9.1" ry="1.0" opacity="0.06" transform="rotate(-42 99.3 39.1)"/><ellipse cx="124.5" cy="3.3" rx="3.6" ry="1.0" opacity="0.02" transform="rotate(-58 124.5 3.3)"/><ellipse cx="125.2" cy="2.1" rx="3.3" ry="0.6" opacity="0.00" transform="rotate(-33 125.2 2.1)"/><ellipse cx="15.8" cy="109.4" rx="9.0" ry="0.7" opacity="0.04" transform="rotate(9 15.8 109.4)"/><ellipse cx="116.3" cy="79.9" rx="9.3" ry="1.1" opacity="0.04" transform="rotate(-160 116.3 79.9)"/><ellipse cx="39.7" cy="42.3" rx="6.4" ry="0.9" opacity="0.06" transform="rotate(38 39.7 42.3)"/><ellipse cx="60.1" cy="94.9" rx="6.4" ry="1.1" opacity="0.00" transform="rotate(-94 60.1 94.9)"/><ellipse cx="101.5" cy="29.6" rx="7.1" ry="0.7" opacity="0.06" transform="rotate(-49 101.5 29.6)"/><ellipse cx="33.4" cy="12.6" rx="3.4" ry="0.7" opacity="0.04" transform="rotate(44 33.4 12.6)"/><ellipse cx="11.6" cy="58.7" rx="5.9" ry="1.1" opacity="0.05" transform="rotate(32 11.6 58.7)"/><ellipse cx="21.7" cy="5.7" rx="8.6" ry="1.2" opacity="0.04" transform="rotate(80 21.7 5.7)"/><ellipse cx="73.5" cy="106.2" rx="8.0" ry="1.2" opacity="0.01" transform="rotate(-49 73.5 106.2)"/><ellipse cx="108.2" cy="63.6" rx="4.7" ry="1.1" opacity="0.03" transform="rotate(-157 108.2 63.6)"/><ellipse cx="81.4" cy="29.8" rx="8.7" ry="1.2" opacity="0.03" transform="rotate(-20 81.4 29.8)"/><ellipse cx="106.7" cy="7.0" rx="6.6" ry="1.1" opacity="0.01" transform="rotate(-84 106.7 7.0)"/><ellipse cx="19.1" cy="54.0" rx="3.9" ry="0.7" opacity="0.02" transform="rotate(-12 19.1 54.0)"/><ellipse cx="115.9" cy="16.5" rx="3.5" ry="0.8" opacity="0.04" transform="rotate(-41 115.9 16.5)"/><ellipse cx="-1.9" cy="33.7" rx="4.5" ry="1.2" opacity="0.01" transform="rotate(-12 -1.9 33.7)"/><ellipse cx="105.0" cy="100.8" rx="8.6" ry="0.8" opacity="0.05" transform="rotate(-149 105.0 100.8)"/><ellipse cx="84.1" cy="37.0" rx="7.5" ry="0.8" opacity="0.03" transform="rotate(-4 84.1 37.0)"/><ellipse cx="41.2" cy="29.6" rx="9.3" ry="0.7" opacity="0.06" transform="rotate(69 41.2 29.6)"/><ellipse cx="104.1" cy="-1.7" rx="5.8" ry="1.2" opacity="0.05" transform="rotate(-81 104.1 -1.7)"/><ellipse cx="34.6" cy="47.8" rx="4.4" ry="0.7" opacity="0.02" transform="rotate(49 34.6 47.8)"/><ellipse cx="99.1" cy="96.5" rx="3.1" ry="0.7" opacity="0.01" transform="rotate(-84 99.1 96.5)"/><ellipse cx="86.4" cy="43.3" rx="7.0" ry="1.0" opacity="0.04" transform="rotate(-13 86.4 43.3)"/><ellipse cx="27.7" cy="99.0" rx="8.3" ry="1.1" opacity="0.01" transform="rotate(7 27.7 99.0)"/><ellipse cx="5.0" cy="38.6" rx="4.3" ry="1.2" opacity="0.05" transform="rotate(39 5.0 38.6)"/><ellipse cx="101.5" cy="52.2" rx="8.3" ry="0.7" opacity="0.03" transform="rotate(-120 101.5 52.2)"/><ellipse cx="110.8" cy="69.4" rx="8.7" ry="0.8" opacity="0.02" transform="rotate(-147 110.8 69.4)"/><ellipse cx="62.8" cy="77.0" rx="7.1" ry="0.9" opacity="0.05" transform="rotate(-92 62.8 77.0)"/><ellipse cx="51.9" cy="62.1" rx="3.4" ry="1.1" opacity="0.02" transform="rotate(20 51.9 62.1)"/><ellipse cx="42.0" cy="28.3" rx="8.5" ry="0.7" opacity="0.06" transform="rotate(5 42.0 28.3)"/><ellipse cx="74.5" cy="29.5" rx="6.8" ry="1.2" opacity="0.01" transform="rotate(12 74.5 29.5)"/><ellipse cx="100.8" cy="0.2" rx="5.7" ry="0.8" opacity="0.01" transform="rotate(-69 100.8 0.2)"/><ellipse cx="82.4" cy="82.1" rx="6.3" ry="1.1" opacity="0.01" transform="rotate(-94 82.4 82.1)"/><ellipse cx="146.7" cy="-0.3" rx="8.4" ry="0.8" opacity="0.02" transform="rotate(-97 146.7 -0.3)"/><ellipse cx="22.6" cy="108.1" rx="3.5" ry="1.0" opacity="0.01" transform="rotate(13 22.6 108.1)"/><ellipse cx="-0.3" cy="22.2" rx="6.4" ry="0.8" opacity="0.03" transform="rotate(51 -0.3 22.2)"/><ellipse cx="9.4" cy="36.0" rx="8.4" ry="0.8" opacity="0.04" transform="rotate(-11 9.4 36.0)"/></g>
<g filter="url(#bl3)" fill="#2a12e0"><circle cx="23.3" cy="93.4" r="1.4" opacity="0.10"/><circle cx="36.4" cy="54.7" r="1.4" opacity="0.22"/><circle cx="102.6" cy="27.1" r="1.3" opacity="0.19"/><circle cx="47.8" cy="81.8" r="1.4" opacity="0.41"/><circle cx="81.3" cy="45.3" r="1.3" opacity="0.32"/><circle cx="119.1" cy="86.4" r="1.0" opacity="0.21"/><circle cx="95.9" cy="24.9" r="1.0" opacity="0.09"/><circle cx="83.9" cy="101.4" r="1.5" opacity="0.12"/><circle cx="98.5" cy="45.2" r="1.3" opacity="0.22"/><circle cx="133.8" cy="106.6" r="0.9" opacity="0.36"/><circle cx="17.0" cy="4.6" r="1.1" opacity="0.37"/><circle cx="142.4" cy="13.0" r="1.1" opacity="0.09"/><circle cx="77.7" cy="52.1" r="1.1" opacity="0.19"/><circle cx="114.7" cy="90.4" r="1.1" opacity="0.22"/><circle cx="88.5" cy="82.5" r="1.5" opacity="0.22"/><circle cx="99.5" cy="58.9" r="1.4" opacity="0.13"/><circle cx="25.1" cy="11.5" r="1.5" opacity="0.16"/><circle cx="70.0" cy="13.0" r="1.1" opacity="0.09"/><circle cx="81.1" cy="15.5" r="1.3" opacity="0.17"/><circle cx="32.6" cy="52.0" r="1.1" opacity="0.17"/><circle cx="7.3" cy="6.9" r="1.4" opacity="0.19"/><circle cx="11.2" cy="19.7" r="1.2" opacity="0.50"/><circle cx="29.0" cy="93.5" r="1.2" opacity="0.23"/><circle cx="115.6" cy="42.7" r="0.9" opacity="0.28"/><circle cx="94.1" cy="67.2" r="1.1" opacity="0.47"/><circle cx="123.9" cy="107.2" r="1.2" opacity="0.42"/><circle cx="103.9" cy="19.0" r="0.9" opacity="0.14"/><circle cx="17.0" cy="8.0" r="1.1" opacity="0.38"/><circle cx="44.4" cy="55.4" r="0.9" opacity="0.15"/><circle cx="137.5" cy="1.2" r="1.2" opacity="0.40"/><circle cx="113.5" cy="79.3" r="1.1" opacity="0.40"/><circle cx="118.6" cy="82.8" r="1.5" opacity="0.11"/><circle cx="136.2" cy="43.4" r="1.3" opacity="0.16"/><circle cx="130.4" cy="2.5" r="1.2" opacity="0.16"/><circle cx="55.7" cy="39.8" r="1.3" opacity="0.40"/><circle cx="52.3" cy="68.8" r="1.1" opacity="0.17"/><circle cx="129.7" cy="34.7" r="1.0" opacity="0.20"/><circle cx="106.3" cy="22.8" r="1.3" opacity="0.28"/><circle cx="97.5" cy="19.1" r="1.0" opacity="0.13"/><circle cx="50.2" cy="46.4" r="0.9" opacity="0.26"/><circle cx="57.8" cy="34.7" r="1.2" opacity="0.48"/><circle cx="29.3" cy="94.9" r="1.1" opacity="0.38"/><circle cx="15.5" cy="106.5" r="1.2" opacity="0.48"/><circle cx="31.5" cy="44.0" r="1.3" opacity="0.14"/><circle cx="39.2" cy="73.0" r="1.5" opacity="0.19"/><circle cx="26.3" cy="38.5" r="1.5" opacity="0.13"/><circle cx="91.0" cy="40.8" r="1.3" opacity="0.15"/><circle cx="88.3" cy="95.7" r="1.4" opacity="0.32"/><circle cx="72.3" cy="61.2" r="1.0" opacity="0.42"/><circle cx="98.9" cy="48.9" r="1.3" opacity="0.23"/><circle cx="55.1" cy="24.8" r="1.3" opacity="0.29"/><circle cx="73.8" cy="3.5" r="1.3" opacity="0.24"/><circle cx="85.0" cy="64.1" r="1.5" opacity="0.13"/><circle cx="67.2" cy="107.0" r="1.3" opacity="0.19"/><circle cx="105.6" cy="106.7" r="1.1" opacity="0.43"/><circle cx="18.2" cy="106.7" r="1.2" opacity="0.16"/><circle cx="120.4" cy="70.0" r="1.5" opacity="0.41"/><circle cx="114.3" cy="55.2" r="1.5" opacity="0.10"/><circle cx="124.7" cy="76.7" r="1.1" opacity="0.40"/><circle cx="65.1" cy="57.8" r="1.4" opacity="0.14"/><circle cx="40.1" cy="69.4" r="0.9" opacity="0.29"/><circle cx="112.8" cy="52.9" r="1.0" opacity="0.40"/><circle cx="122.5" cy="83.1" r="1.2" opacity="0.45"/><circle cx="114.2" cy="16.4" r="1.1" opacity="0.11"/><circle cx="5.3" cy="37.3" r="1.4" opacity="0.42"/><circle cx="16.8" cy="19.6" r="1.1" opacity="0.42"/><circle cx="88.4" cy="97.2" r="0.9" opacity="0.49"/><circle cx="29.6" cy="67.8" r="1.4" opacity="0.36"/><circle cx="28.2" cy="72.1" r="1.2" opacity="0.09"/><circle cx="48.7" cy="34.0" r="1.3" opacity="0.17"/><circle cx="86.4" cy="74.9" r="1.0" opacity="0.12"/><circle cx="99.4" cy="50.3" r="1.0" opacity="0.12"/><circle cx="134.8" cy="65.8" r="1.1" opacity="0.14"/><circle cx="142.6" cy="74.6" r="1.3" opacity="0.21"/><circle cx="44.5" cy="44.0" r="1.0" opacity="0.32"/><circle cx="60.9" cy="88.4" r="1.1" opacity="0.24"/><circle cx="72.6" cy="101.5" r="1.1" opacity="0.35"/><circle cx="33.7" cy="62.4" r="1.1" opacity="0.43"/><circle cx="41.1" cy="92.1" r="1.3" opacity="0.24"/><circle cx="133.8" cy="41.8" r="1.3" opacity="0.31"/><circle cx="64.3" cy="6.9" r="1.2" opacity="0.18"/><circle cx="63.2" cy="102.9" r="1.1" opacity="0.35"/><circle cx="96.3" cy="26.4" r="1.1" opacity="0.12"/><circle cx="128.3" cy="27.1" r="1.2" opacity="0.20"/><circle cx="117.6" cy="91.7" r="1.3" opacity="0.28"/><circle cx="14.2" cy="96.6" r="1.0" opacity="0.21"/><circle cx="53.7" cy="77.9" r="1.3" opacity="0.20"/><circle cx="128.7" cy="102.4" r="0.9" opacity="0.32"/><circle cx="67.2" cy="39.0" r="1.2" opacity="0.19"/><circle cx="96.1" cy="65.3" r="1.5" opacity="0.49"/><circle cx="142.2" cy="42.6" r="1.4" opacity="0.33"/><circle cx="100.5" cy="107.5" r="0.9" opacity="0.25"/><circle cx="57.5" cy="70.7" r="1.0" opacity="0.49"/><circle cx="30.0" cy="39.9" r="1.0" opacity="0.22"/><circle cx="106.3" cy="9.0" r="1.0" opacity="0.33"/><circle cx="89.3" cy="80.0" r="1.1" opacity="0.40"/><circle cx="104.7" cy="83.7" r="1.0" opacity="0.25"/><circle cx="2.3" cy="92.7" r="1.5" opacity="0.45"/><circle cx="3.5" cy="37.8" r="1.2" opacity="0.28"/><circle cx="15.9" cy="85.1" r="1.1" opacity="0.27"/><circle cx="17.9" cy="61.2" r="1.0" opacity="0.11"/><circle cx="73.4" cy="31.7" r="1.4" opacity="0.16"/><circle cx="59.3" cy="5.9" r="1.0" opacity="0.24"/><circle cx="80.0" cy="49.5" r="1.4" opacity="0.11"/><circle cx="121.8" cy="16.7" r="1.5" opacity="0.27"/><circle cx="58.2" cy="66.0" r="1.4" opacity="0.48"/><circle cx="59.2" cy="1.2" r="1.0" opacity="0.41"/><circle cx="105.2" cy="76.8" r="1.0" opacity="0.28"/><circle cx="4.1" cy="11.9" r="1.1" opacity="0.48"/><circle cx="92.1" cy="91.4" r="0.9" opacity="0.23"/><circle cx="11.2" cy="28.1" r="1.0" opacity="0.46"/><circle cx="47.1" cy="52.7" r="1.3" opacity="0.44"/><circle cx="135.6" cy="61.2" r="1.2" opacity="0.45"/><circle cx="56.5" cy="32.3" r="1.3" opacity="0.17"/><circle cx="52.7" cy="46.3" r="1.2" opacity="0.20"/><circle cx="61.7" cy="48.6" r="0.9" opacity="0.42"/><circle cx="8.8" cy="56.9" r="1.2" opacity="0.22"/><circle cx="31.9" cy="10.7" r="1.1" opacity="0.19"/><circle cx="69.4" cy="24.8" r="1.3" opacity="0.26"/><circle cx="1.3" cy="43.8" r="1.5" opacity="0.08"/><circle cx="85.0" cy="103.6" r="1.1" opacity="0.30"/><circle cx="52.9" cy="32.5" r="1.3" opacity="0.30"/><circle cx="45.2" cy="53.6" r="1.2" opacity="0.38"/><circle cx="7.6" cy="10.0" r="1.1" opacity="0.17"/><circle cx="114.0" cy="45.9" r="1.4" opacity="0.22"/><circle cx="41.0" cy="73.3" r="1.0" opacity="0.49"/><circle cx="119.2" cy="35.4" r="1.1" opacity="0.41"/><circle cx="113.0" cy="69.2" r="0.9" opacity="0.38"/><circle cx="6.9" cy="67.3" r="1.2" opacity="0.46"/><circle cx="91.5" cy="2.4" r="1.5" opacity="0.38"/><circle cx="83.1" cy="0.6" r="1.3" opacity="0.23"/><circle cx="97.4" cy="106.0" r="1.5" opacity="0.10"/><circle cx="112.0" cy="47.5" r="1.4" opacity="0.21"/><circle cx="64.2" cy="47.1" r="1.0" opacity="0.19"/><circle cx="105.3" cy="7.7" r="1.0" opacity="0.42"/><circle cx="95.5" cy="59.1" r="1.0" opacity="0.12"/><circle cx="44.4" cy="102.8" r="1.2" opacity="0.46"/><circle cx="30.3" cy="44.7" r="1.2" opacity="0.42"/><circle cx="17.7" cy="94.2" r="1.2" opacity="0.09"/><circle cx="61.9" cy="40.7" r="1.3" opacity="0.46"/><circle cx="70.7" cy="74.3" r="1.1" opacity="0.39"/><circle cx="15.1" cy="80.0" r="1.0" opacity="0.30"/><circle cx="29.0" cy="37.3" r="1.0" opacity="0.20"/><circle cx="84.7" cy="56.1" r="1.1" opacity="0.29"/><circle cx="120.7" cy="38.6" r="1.3" opacity="0.25"/><circle cx="140.5" cy="35.4" r="1.3" opacity="0.16"/><circle cx="37.4" cy="78.7" r="1.2" opacity="0.17"/><circle cx="9.2" cy="88.9" r="1.1" opacity="0.36"/><circle cx="62.0" cy="66.6" r="1.2" opacity="0.49"/><circle cx="130.4" cy="49.1" r="1.2" opacity="0.16"/><circle cx="107.9" cy="11.0" r="1.1" opacity="0.42"/><circle cx="5.0" cy="75.3" r="1.2" opacity="0.28"/><circle cx="47.7" cy="16.3" r="1.5" opacity="0.38"/><circle cx="115.5" cy="10.5" r="1.4" opacity="0.15"/><circle cx="28.6" cy="57.7" r="1.3" opacity="0.12"/><circle cx="109.6" cy="62.8" r="1.4" opacity="0.46"/><circle cx="98.8" cy="39.2" r="1.5" opacity="0.36"/><circle cx="41.7" cy="92.5" r="1.3" opacity="0.17"/><circle cx="35.7" cy="2.2" r="1.2" opacity="0.16"/><circle cx="42.0" cy="27.3" r="1.0" opacity="0.26"/><circle cx="39.1" cy="30.7" r="1.1" opacity="0.27"/><circle cx="125.2" cy="17.3" r="1.4" opacity="0.43"/><circle cx="87.3" cy="58.6" r="1.3" opacity="0.28"/><circle cx="94.6" cy="99.1" r="1.4" opacity="0.17"/><circle cx="7.8" cy="101.0" r="1.1" opacity="0.39"/><circle cx="33.5" cy="48.8" r="1.1" opacity="0.36"/><circle cx="135.2" cy="54.5" r="1.2" opacity="0.20"/><circle cx="33.3" cy="102.4" r="1.0" opacity="0.47"/><circle cx="94.2" cy="7.7" r="1.4" opacity="0.11"/><circle cx="81.0" cy="12.9" r="1.5" opacity="0.19"/><circle cx="125.0" cy="6.6" r="1.3" opacity="0.10"/><circle cx="4.3" cy="61.5" r="1.5" opacity="0.34"/><circle cx="122.6" cy="84.6" r="1.2" opacity="0.11"/><circle cx="75.5" cy="19.9" r="1.2" opacity="0.20"/><circle cx="71.5" cy="21.3" r="1.3" opacity="0.23"/><circle cx="69.6" cy="8.5" r="1.2" opacity="0.29"/><circle cx="139.4" cy="60.5" r="1.0" opacity="0.18"/><circle cx="48.1" cy="75.7" r="1.5" opacity="0.49"/><circle cx="136.1" cy="99.8" r="1.4" opacity="0.47"/><circle cx="2.9" cy="52.8" r="1.3" opacity="0.34"/><circle cx="87.8" cy="66.1" r="1.5" opacity="0.11"/><circle cx="74.4" cy="103.4" r="0.9" opacity="0.12"/><circle cx="124.5" cy="103.2" r="0.9" opacity="0.09"/><circle cx="118.9" cy="74.2" r="1.2" opacity="0.30"/><circle cx="108.5" cy="87.1" r="0.9" opacity="0.10"/><circle cx="113.8" cy="105.1" r="1.4" opacity="0.22"/><circle cx="48.1" cy="37.4" r="0.9" opacity="0.38"/><circle cx="37.6" cy="63.1" r="1.2" opacity="0.20"/><circle cx="96.7" cy="49.0" r="1.0" opacity="0.44"/><circle cx="25.2" cy="16.2" r="1.1" opacity="0.25"/><circle cx="112.3" cy="35.9" r="1.0" opacity="0.33"/><circle cx="37.3" cy="56.4" r="1.1" opacity="0.44"/><circle cx="26.4" cy="25.0" r="1.1" opacity="0.19"/><circle cx="104.1" cy="72.7" r="1.4" opacity="0.28"/><circle cx="11.3" cy="82.3" r="1.0" opacity="0.15"/><circle cx="59.4" cy="106.7" r="1.1" opacity="0.20"/><circle cx="130.5" cy="106.8" r="1.1" opacity="0.12"/><circle cx="113.2" cy="84.3" r="1.1" opacity="0.39"/><circle cx="54.4" cy="30.9" r="1.3" opacity="0.37"/><circle cx="68.2" cy="88.2" r="0.9" opacity="0.26"/><circle cx="54.5" cy="7.0" r="1.4" opacity="0.13"/><circle cx="29.5" cy="94.7" r="1.5" opacity="0.46"/><circle cx="49.0" cy="100.3" r="1.0" opacity="0.36"/><circle cx="135.5" cy="20.8" r="1.0" opacity="0.34"/><circle cx="126.5" cy="78.3" r="1.5" opacity="0.24"/><circle cx="53.4" cy="13.0" r="1.1" opacity="0.47"/><circle cx="10.3" cy="19.9" r="1.1" opacity="0.10"/><circle cx="44.0" cy="19.7" r="1.0" opacity="0.27"/><circle cx="77.4" cy="61.2" r="1.4" opacity="0.27"/><circle cx="135.7" cy="8.8" r="1.0" opacity="0.11"/><circle cx="44.3" cy="82.0" r="1.5" opacity="0.26"/><circle cx="23.0" cy="35.6" r="1.2" opacity="0.18"/><circle cx="113.6" cy="104.8" r="1.2" opacity="0.31"/><circle cx="121.2" cy="50.1" r="1.0" opacity="0.47"/><circle cx="140.1" cy="2.6" r="1.4" opacity="0.22"/><circle cx="7.4" cy="17.6" r="1.0" opacity="0.37"/><circle cx="30.3" cy="2.1" r="1.0" opacity="0.40"/><circle cx="71.5" cy="70.4" r="1.2" opacity="0.14"/><circle cx="2.2" cy="32.8" r="0.9" opacity="0.17"/><circle cx="88.7" cy="39.8" r="1.2" opacity="0.32"/><circle cx="45.4" cy="38.4" r="1.4" opacity="0.30"/><circle cx="59.8" cy="58.2" r="1.2" opacity="0.19"/><circle cx="130.9" cy="25.2" r="1.5" opacity="0.42"/><circle cx="126.4" cy="17.5" r="1.2" opacity="0.49"/><circle cx="41.4" cy="18.4" r="1.3" opacity="0.16"/><circle cx="83.6" cy="17.0" r="1.5" opacity="0.18"/><circle cx="13.9" cy="74.1" r="1.1" opacity="0.29"/><circle cx="71.3" cy="99.5" r="1.2" opacity="0.21"/><circle cx="0.2" cy="53.5" r="1.1" opacity="0.29"/><circle cx="90.5" cy="49.8" r="1.0" opacity="0.26"/><circle cx="69.0" cy="69.1" r="1.5" opacity="0.17"/><circle cx="63.4" cy="9.1" r="1.4" opacity="0.16"/><circle cx="118.8" cy="86.0" r="1.1" opacity="0.45"/><circle cx="72.2" cy="45.9" r="1.2" opacity="0.47"/><circle cx="70.2" cy="52.0" r="1.1" opacity="0.42"/><circle cx="72.1" cy="36.9" r="1.0" opacity="0.15"/><circle cx="119.5" cy="86.6" r="1.5" opacity="0.46"/><circle cx="98.2" cy="86.0" r="1.3" opacity="0.40"/><circle cx="114.8" cy="19.0" r="1.4" opacity="0.18"/><circle cx="35.0" cy="99.1" r="0.9" opacity="0.27"/><circle cx="49.2" cy="85.4" r="1.3" opacity="0.45"/><circle cx="133.6" cy="69.5" r="0.9" opacity="0.34"/><circle cx="15.7" cy="105.9" r="1.4" opacity="0.19"/><circle cx="26.6" cy="74.8" r="1.4" opacity="0.49"/><circle cx="89.3" cy="13.5" r="1.3" opacity="0.10"/><circle cx="124.3" cy="82.9" r="1.4" opacity="0.44"/><circle cx="81.6" cy="101.7" r="1.3" opacity="0.26"/><circle cx="55.1" cy="38.1" r="0.9" opacity="0.13"/><circle cx="114.0" cy="24.7" r="1.3" opacity="0.39"/><circle cx="99.5" cy="55.6" r="1.1" opacity="0.17"/><circle cx="26.8" cy="69.8" r="1.3" opacity="0.47"/><circle cx="47.4" cy="99.9" r="1.4" opacity="0.18"/><circle cx="136.4" cy="66.8" r="1.5" opacity="0.39"/><circle cx="47.8" cy="30.1" r="1.2" opacity="0.26"/><circle cx="5.1" cy="93.0" r="1.2" opacity="0.25"/><circle cx="106.7" cy="26.9" r="1.0" opacity="0.30"/><circle cx="34.6" cy="35.3" r="0.9" opacity="0.10"/><circle cx="50.9" cy="56.8" r="1.5" opacity="0.32"/><circle cx="59.4" cy="43.8" r="1.0" opacity="0.25"/><circle cx="137.4" cy="13.1" r="1.2" opacity="0.34"/><circle cx="109.3" cy="59.8" r="1.3" opacity="0.47"/><circle cx="129.3" cy="27.1" r="1.2" opacity="0.50"/><circle cx="75.6" cy="20.4" r="1.4" opacity="0.10"/><circle cx="21.5" cy="59.4" r="1.1" opacity="0.36"/><circle cx="104.1" cy="34.4" r="1.4" opacity="0.33"/><circle cx="101.2" cy="49.2" r="1.2" opacity="0.11"/><circle cx="68.0" cy="102.9" r="1.4" opacity="0.10"/><circle cx="10.2" cy="29.0" r="1.3" opacity="0.24"/><circle cx="18.3" cy="45.9" r="1.2" opacity="0.37"/><circle cx="57.8" cy="70.0" r="1.3" opacity="0.31"/><circle cx="6.7" cy="76.6" r="1.0" opacity="0.10"/><circle cx="67.9" cy="1.8" r="0.9" opacity="0.22"/><circle cx="67.1" cy="11.4" r="1.5" opacity="0.42"/><circle cx="69.7" cy="63.4" r="1.1" opacity="0.49"/><circle cx="17.2" cy="32.8" r="1.0" opacity="0.43"/><circle cx="72.9" cy="44.2" r="1.1" opacity="0.44"/><circle cx="36.9" cy="85.3" r="1.3" opacity="0.24"/><circle cx="52.4" cy="47.1" r="1.2" opacity="0.19"/><circle cx="89.4" cy="44.3" r="1.1" opacity="0.39"/><circle cx="65.2" cy="51.0" r="1.4" opacity="0.24"/><circle cx="53.9" cy="96.8" r="1.5" opacity="0.39"/><circle cx="57.5" cy="72.4" r="1.3" opacity="0.18"/><circle cx="103.7" cy="102.4" r="1.3" opacity="0.34"/><circle cx="62.4" cy="70.4" r="1.0" opacity="0.38"/><circle cx="77.3" cy="105.6" r="1.1" opacity="0.36"/><circle cx="2.4" cy="44.9" r="1.4" opacity="0.17"/><circle cx="87.9" cy="23.8" r="1.1" opacity="0.50"/><circle cx="28.2" cy="98.4" r="0.9" opacity="0.30"/><circle cx="117.7" cy="90.3" r="1.1" opacity="0.30"/><circle cx="102.0" cy="82.1" r="1.3" opacity="0.30"/><circle cx="36.0" cy="76.0" r="1.2" opacity="0.28"/><circle cx="141.4" cy="14.7" r="1.4" opacity="0.19"/><circle cx="104.1" cy="102.4" r="1.1" opacity="0.29"/><circle cx="75.7" cy="53.4" r="1.0" opacity="0.32"/><circle cx="128.0" cy="71.5" r="1.1" opacity="0.40"/><circle cx="60.2" cy="15.7" r="1.3" opacity="0.25"/><circle cx="75.9" cy="106.8" r="1.2" opacity="0.48"/><circle cx="50.5" cy="81.8" r="0.9" opacity="0.18"/><circle cx="99.2" cy="74.4" r="1.4" opacity="0.21"/><circle cx="39.2" cy="38.6" r="1.2" opacity="0.09"/><circle cx="53.7" cy="70.9" r="1.0" opacity="0.19"/><circle cx="125.0" cy="100.6" r="1.0" opacity="0.14"/><circle cx="16.9" cy="9.2" r="1.4" opacity="0.37"/><circle cx="37.9" cy="52.7" r="1.3" opacity="0.09"/><circle cx="117.3" cy="92.7" r="1.0" opacity="0.35"/><circle cx="100.2" cy="36.3" r="1.4" opacity="0.15"/><circle cx="67.9" cy="33.8" r="1.2" opacity="0.40"/><circle cx="81.7" cy="65.7" r="1.5" opacity="0.15"/><circle cx="31.9" cy="66.8" r="1.0" opacity="0.48"/><circle cx="48.9" cy="47.4" r="1.2" opacity="0.41"/><circle cx="131.2" cy="73.0" r="1.0" opacity="0.20"/><circle cx="101.2" cy="23.3" r="1.4" opacity="0.43"/><circle cx="32.5" cy="39.3" r="1.0" opacity="0.36"/><circle cx="6.8" cy="75.0" r="0.9" opacity="0.42"/><circle cx="77.8" cy="62.9" r="1.0" opacity="0.10"/><circle cx="50.6" cy="106.2" r="1.3" opacity="0.43"/><circle cx="9.0" cy="11.0" r="0.9" opacity="0.35"/><circle cx="25.3" cy="29.4" r="1.3" opacity="0.35"/><circle cx="46.2" cy="50.4" r="1.1" opacity="0.29"/><circle cx="51.0" cy="38.8" r="1.0" opacity="0.18"/><circle cx="37.4" cy="1.7" r="1.1" opacity="0.30"/><circle cx="38.5" cy="12.2" r="1.4" opacity="0.25"/><circle cx="73.3" cy="33.6" r="1.4" opacity="0.38"/><circle cx="89.2" cy="71.1" r="1.3" opacity="0.26"/><circle cx="59.2" cy="42.0" r="1.2" opacity="0.25"/><circle cx="75.8" cy="57.5" r="1.4" opacity="0.44"/><circle cx="32.1" cy="2.4" r="1.1" opacity="0.09"/><circle cx="114.1" cy="66.9" r="1.1" opacity="0.14"/><circle cx="124.5" cy="90.1" r="1.3" opacity="0.35"/><circle cx="106.7" cy="49.0" r="1.1" opacity="0.28"/></g>
</svg>
<svg x="317.8" y="432.2" width="143.80" height="107.80" viewBox="0 0 143.80 107.80" overflow="hidden">
<rect width="143.80" height="107.80" fill="#120325"/>
<rect width="143.80" height="107.80" fill="#801070" opacity="0.09" filter="url(#nz)"/>
<g filter="url(#bl4)" fill="#c81880"><ellipse cx="19.2" cy="67.2" rx="8.0" ry="2.0" opacity="0.01" transform="rotate(-67 19.2 67.2)"/><ellipse cx="89.6" cy="61.6" rx="6.8" ry="2.0" opacity="0.02" transform="rotate(-177 89.6 61.6)"/><ellipse cx="128.9" cy="80.8" rx="4.7" ry="1.4" opacity="0.03" transform="rotate(-163 128.9 80.8)"/><ellipse cx="100.5" cy="66.5" rx="6.6" ry="1.5" opacity="0.02" transform="rotate(-153 100.5 66.5)"/><ellipse cx="18.8" cy="67.8" rx="7.7" ry="1.5" opacity="0.00" transform="rotate(-25 18.8 67.8)"/><ellipse cx="46.9" cy="75.4" rx="8.3" ry="1.8" opacity="0.01" transform="rotate(-89 46.9 75.4)"/><ellipse cx="133.1" cy="16.0" rx="7.2" ry="2.0" opacity="0.01" transform="rotate(-104 133.1 16.0)"/><ellipse cx="80.7" cy="47.2" rx="9.2" ry="2.3" opacity="0.02" transform="rotate(-94 80.7 47.2)"/><ellipse cx="67.5" cy="105.0" rx="7.4" ry="2.3" opacity="0.02" transform="rotate(-134 67.5 105.0)"/><ellipse cx="55.6" cy="81.7" rx="9.4" ry="2.0" opacity="0.02" transform="rotate(-100 55.6 81.7)"/><ellipse cx="143.1" cy="57.2" rx="9.5" ry="2.4" opacity="0.01" transform="rotate(-123 143.1 57.2)"/><ellipse cx="7.9" cy="94.8" rx="5.8" ry="1.5" opacity="0.02" transform="rotate(-4 7.9 94.8)"/><ellipse cx="138.0" cy="21.3" rx="7.7" ry="1.5" opacity="0.01" transform="rotate(-81 138.0 21.3)"/><ellipse cx="18.4" cy="51.7" rx="3.7" ry="1.7" opacity="0.01" transform="rotate(-41 18.4 51.7)"/><ellipse cx="14.8" cy="14.2" rx="5.3" ry="2.1" opacity="0.01" transform="rotate(22 14.8 14.2)"/><ellipse cx="33.5" cy="18.4" rx="8.2" ry="1.5" opacity="0.01" transform="rotate(-20 33.5 18.4)"/><ellipse cx="118.0" cy="91.6" rx="8.9" ry="2.0" opacity="0.01" transform="rotate(-166 118.0 91.6)"/><ellipse cx="10.9" cy="16.4" rx="5.8" ry="2.3" opacity="0.04" transform="rotate(59 10.9 16.4)"/><ellipse cx="134.9" cy="50.5" rx="5.0" ry="1.5" opacity="0.02" transform="rotate(-159 134.9 50.5)"/><ellipse cx="102.3" cy="102.1" rx="9.7" ry="2.0" opacity="0.01" transform="rotate(-144 102.3 102.1)"/><ellipse cx="122.5" cy="28.2" rx="8.1" ry="2.3" opacity="0.00" transform="rotate(-72 122.5 28.2)"/><ellipse cx="25.3" cy="105.3" rx="6.2" ry="2.0" opacity="0.01" transform="rotate(-90 25.3 105.3)"/><ellipse cx="128.9" cy="105.9" rx="4.1" ry="2.4" opacity="0.01" transform="rotate(-167 128.9 105.9)"/><ellipse cx="34.3" cy="12.8" rx="7.1" ry="1.6" opacity="0.02" transform="rotate(-43 34.3 12.8)"/><ellipse cx="135.7" cy="52.2" rx="3.6" ry="2.2" opacity="0.03" transform="rotate(-75 135.7 52.2)"/><ellipse cx="140.8" cy="0.5" rx="6.9" ry="2.0" opacity="0.01" transform="rotate(-63 140.8 0.5)"/><ellipse cx="37.9" cy="99.9" rx="7.9" ry="2.4" opacity="0.02" transform="rotate(-47 37.9 99.9)"/><ellipse cx="8.9" cy="76.1" rx="8.3" ry="2.0" opacity="0.01" transform="rotate(-68 8.9 76.1)"/><ellipse cx="19.9" cy="4.7" rx="9.8" ry="1.5" opacity="0.03" transform="rotate(-2 19.9 4.7)"/><ellipse cx="17.2" cy="35.6" rx="5.6" ry="2.5" opacity="0.01" transform="rotate(3 17.2 35.6)"/><ellipse cx="69.5" cy="20.4" rx="7.9" ry="1.6" opacity="0.01" transform="rotate(-98 69.5 20.4)"/><ellipse cx="100.9" cy="7.1" rx="7.8" ry="2.5" opacity="0.00" transform="rotate(-125 100.9 7.1)"/><ellipse cx="64.8" cy="110.4" rx="9.9" ry="1.9" opacity="0.04" transform="rotate(-92 64.8 110.4)"/><ellipse cx="5.4" cy="50.8" rx="5.8" ry="1.8" opacity="0.01" transform="rotate(31 5.4 50.8)"/><ellipse cx="54.0" cy="89.7" rx="4.7" ry="1.6" opacity="0.03" transform="rotate(-66 54.0 89.7)"/><ellipse cx="108.6" cy="89.8" rx="9.4" ry="2.3" opacity="0.02" transform="rotate(-148 108.6 89.8)"/><ellipse cx="39.5" cy="6.7" rx="9.0" ry="2.4" opacity="0.01" transform="rotate(27 39.5 6.7)"/><ellipse cx="107.8" cy="103.1" rx="3.3" ry="1.4" opacity="0.01" transform="rotate(-190 107.8 103.1)"/><ellipse cx="99.0" cy="90.6" rx="7.9" ry="2.5" opacity="0.04" transform="rotate(-134 99.0 90.6)"/><ellipse cx="62.9" cy="102.1" rx="4.8" ry="2.0" opacity="0.01" transform="rotate(-103 62.9 102.1)"/><ellipse cx="57.0" cy="89.7" rx="6.8" ry="1.8" opacity="0.01" transform="rotate(-158 57.0 89.7)"/><ellipse cx="6.7" cy="56.7" rx="3.8" ry="1.7" opacity="0.02" transform="rotate(-25 6.7 56.7)"/><ellipse cx="8.9" cy="86.5" rx="6.4" ry="1.7" opacity="0.03" transform="rotate(-76 8.9 86.5)"/><ellipse cx="130.9" cy="81.0" rx="5.4" ry="2.3" opacity="0.02" transform="rotate(-169 130.9 81.0)"/><ellipse cx="92.3" cy="79.5" rx="5.8" ry="2.4" opacity="0.01" transform="rotate(-182 92.3 79.5)"/><ellipse cx="124.3" cy="14.6" rx="6.6" ry="1.6" opacity="0.02" transform="rotate(-128 124.3 14.6)"/><ellipse cx="112.5" cy="1.4" rx="5.7" ry="2.4" opacity="0.03" transform="rotate(-85 112.5 1.4)"/><ellipse cx="129.7" cy="81.5" rx="7.4" ry="1.9" opacity="0.01" transform="rotate(-166 129.7 81.5)"/><ellipse cx="40.5" cy="71.0" rx="4.8" ry="1.7" opacity="0.01" transform="rotate(-39 40.5 71.0)"/><ellipse cx="51.8" cy="41.3" rx="7.6" ry="1.6" opacity="0.03" transform="rotate(-94 51.8 41.3)"/><ellipse cx="33.4" cy="80.7" rx="4.3" ry="1.7" opacity="0.04" transform="rotate(-27 33.4 80.7)"/><ellipse cx="57.5" cy="34.5" rx="8.8" ry="1.6" opacity="0.03" transform="rotate(-90 57.5 34.5)"/><ellipse cx="80.7" cy="17.5" rx="9.3" ry="2.2" opacity="0.02" transform="rotate(-31 80.7 17.5)"/><ellipse cx="110.1" cy="105.0" rx="4.8" ry="2.2" opacity="0.01" transform="rotate(-190 110.1 105.0)"/><ellipse cx="144.8" cy="92.1" rx="4.2" ry="2.0" opacity="0.02" transform="rotate(-136 144.8 92.1)"/><ellipse cx="84.0" cy="85.8" rx="9.2" ry="2.0" opacity="0.01" transform="rotate(-153 84.0 85.8)"/><ellipse cx="120.1" cy="16.2" rx="9.5" ry="1.5" opacity="0.01" transform="rotate(-51 120.1 16.2)"/><ellipse cx="102.3" cy="49.1" rx="8.3" ry="1.6" opacity="0.00" transform="rotate(-138 102.3 49.1)"/><ellipse cx="79.7" cy="97.0" rx="3.9" ry="2.2" opacity="0.01" transform="rotate(-106 79.7 97.0)"/><ellipse cx="142.6" cy="41.5" rx="5.4" ry="1.9" opacity="0.01" transform="rotate(-129 142.6 41.5)"/><ellipse cx="112.5" cy="34.6" rx="4.7" ry="1.8" opacity="0.02" transform="rotate(-87 112.5 34.6)"/><ellipse cx="28.0" cy="30.0" rx="5.8" ry="1.7" opacity="0.02" transform="rotate(27 28.0 30.0)"/><ellipse cx="100.7" cy="95.5" rx="9.0" ry="2.4" opacity="0.03" transform="rotate(-158 100.7 95.5)"/><ellipse cx="134.9" cy="76.2" rx="5.8" ry="1.3" opacity="0.03" transform="rotate(-126 134.9 76.2)"/><ellipse cx="59.1" cy="35.5" rx="8.3" ry="2.3" opacity="0.00" transform="rotate(-59 59.1 35.5)"/><ellipse cx="114.6" cy="104.3" rx="9.6" ry="1.9" opacity="0.03" transform="rotate(-119 114.6 104.3)"/><ellipse cx="85.6" cy="93.8" rx="5.7" ry="1.4" opacity="0.03" transform="rotate(-110 85.6 93.8)"/><ellipse cx="137.7" cy="100.1" rx="6.2" ry="1.4" opacity="0.03" transform="rotate(-150 137.7 100.1)"/><ellipse cx="37.8" cy="10.9" rx="9.5" ry="1.7" opacity="0.03" transform="rotate(-40 37.8 10.9)"/><ellipse cx="7.5" cy="51.9" rx="8.4" ry="1.4" opacity="0.01" transform="rotate(18 7.5 51.9)"/><ellipse cx="118.9" cy="101.1" rx="7.2" ry="2.4" opacity="0.02" transform="rotate(-198 118.9 101.1)"/><ellipse cx="114.8" cy="30.9" rx="3.2" ry="2.2" opacity="0.02" transform="rotate(-104 114.8 30.9)"/><ellipse cx="24.1" cy="104.3" rx="3.4" ry="2.1" opacity="0.00" transform="rotate(-83 24.1 104.3)"/><ellipse cx="95.8" cy="12.6" rx="8.2" ry="2.0" opacity="0.02" transform="rotate(-128 95.8 12.6)"/><ellipse cx="103.3" cy="78.8" rx="6.0" ry="2.0" opacity="0.03" transform="rotate(-188 103.3 78.8)"/><ellipse cx="93.8" cy="52.6" rx="8.9" ry="1.5" opacity="0.01" transform="rotate(-99 93.8 52.6)"/><ellipse cx="-2.2" cy="96.4" rx="7.1" ry="1.9" opacity="0.02" transform="rotate(-56 -2.2 96.4)"/><ellipse cx="137.7" cy="71.9" rx="6.1" ry="1.4" opacity="0.01" transform="rotate(-166 137.7 71.9)"/><ellipse cx="108.1" cy="71.3" rx="9.0" ry="2.5" opacity="0.01" transform="rotate(-142 108.1 71.3)"/><ellipse cx="102.3" cy="70.6" rx="9.9" ry="1.7" opacity="0.02" transform="rotate(-195 102.3 70.6)"/><ellipse cx="31.4" cy="45.3" rx="9.8" ry="1.3" opacity="0.00" transform="rotate(-63 31.4 45.3)"/><ellipse cx="106.0" cy="62.7" rx="9.6" ry="2.1" opacity="0.01" transform="rotate(-161 106.0 62.7)"/><ellipse cx="103.8" cy="103.8" rx="5.6" ry="2.2" opacity="0.01" transform="rotate(-129 103.8 103.8)"/><ellipse cx="54.9" cy="110.2" rx="5.9" ry="1.9" opacity="0.01" transform="rotate(-84 54.9 110.2)"/><ellipse cx="103.1" cy="56.6" rx="6.0" ry="2.3" opacity="0.03" transform="rotate(-141 103.1 56.6)"/><ellipse cx="33.4" cy="42.3" rx="8.1" ry="2.0" opacity="0.02" transform="rotate(9 33.4 42.3)"/><ellipse cx="27.2" cy="61.7" rx="6.2" ry="1.7" opacity="0.01" transform="rotate(-20 27.2 61.7)"/><ellipse cx="86.9" cy="22.0" rx="3.6" ry="2.2" opacity="0.02" transform="rotate(-56 86.9 22.0)"/><ellipse cx="34.6" cy="25.6" rx="4.3" ry="2.5" opacity="0.01" transform="rotate(-30 34.6 25.6)"/><ellipse cx="9.6" cy="72.0" rx="5.1" ry="1.5" opacity="0.02" transform="rotate(13 9.6 72.0)"/><ellipse cx="75.0" cy="13.0" rx="11.0" ry="1.9" opacity="0.09" transform="rotate(-30 75.0 13.0)"/><ellipse cx="49.0" cy="9.0" rx="5.0" ry="1.5" opacity="0.07" transform="rotate(-45 49.0 9.0)"/><ellipse cx="16.0" cy="14.0" rx="5.5" ry="1.5" opacity="0.04" transform="rotate(25 16.0 14.0)"/><ellipse cx="33.5" cy="38.5" rx="6.6" ry="1.7" opacity="0.08" transform="rotate(52 33.5 38.5)"/><ellipse cx="9.0" cy="49.0" rx="6.6" ry="1.7" opacity="0.07" transform="rotate(20 9.0 49.0)"/><ellipse cx="37.0" cy="59.0" rx="14.3" ry="2.2" opacity="0.08" transform="rotate(5 37.0 59.0)"/><ellipse cx="30.0" cy="56.0" rx="8.8" ry="1.7" opacity="0.07" transform="rotate(8 30.0 56.0)"/><ellipse cx="61.0" cy="54.0" rx="7.7" ry="1.7" opacity="0.09" transform="rotate(-40 61.0 54.0)"/><ellipse cx="17.0" cy="67.0" rx="9.9" ry="1.9" opacity="0.08" transform="rotate(55 17.0 67.0)"/><ellipse cx="52.0" cy="79.0" rx="11.0" ry="1.9" opacity="0.07" transform="rotate(-32 52.0 79.0)"/><ellipse cx="104.0" cy="67.0" rx="19.8" ry="1.9" opacity="0.07" transform="rotate(-8 104.0 67.0)"/><ellipse cx="86.0" cy="70.0" rx="9.9" ry="1.7" opacity="0.06" transform="rotate(-5 86.0 70.0)"/><ellipse cx="104.0" cy="21.5" rx="8.8" ry="2.0" opacity="0.09" transform="rotate(-3 104.0 21.5)"/><ellipse cx="126.0" cy="27.0" rx="6.6" ry="1.7" opacity="0.08" transform="rotate(70 126.0 27.0)"/><ellipse cx="94.0" cy="7.0" rx="8.8" ry="1.7" opacity="0.07" transform="rotate(-40 94.0 7.0)"/><ellipse cx="42.0" cy="84.0" rx="7.7" ry="1.7" opacity="0.06" transform="rotate(-35 42.0 84.0)"/><ellipse cx="23.0" cy="92.0" rx="9.9" ry="1.7" opacity="0.04" transform="rotate(70 23.0 92.0)"/><ellipse cx="112.0" cy="84.0" rx="9.9" ry="1.7" opacity="0.04" transform="rotate(27 112.0 84.0)"/><ellipse cx="121.0" cy="45.0" rx="9.9" ry="1.7" opacity="0.05" transform="rotate(-6 121.0 45.0)"/><ellipse cx="74.0" cy="32.0" rx="7.7" ry="1.7" opacity="0.07" transform="rotate(-35 74.0 32.0)"/><ellipse cx="50.0" cy="44.5" rx="11.0" ry="1.7" opacity="0.04" transform="rotate(-8 50.0 44.5)"/><ellipse cx="35.0" cy="53.0" rx="9.9" ry="1.7" opacity="0.06" transform="rotate(-5 35.0 53.0)"/><ellipse cx="74.0" cy="59.0" rx="3.3" ry="1.5" opacity="0.08" transform="rotate(80 74.0 59.0)"/><ellipse cx="22.0" cy="30.0" rx="6.6" ry="1.5" opacity="0.04" transform="rotate(40 22.0 30.0)"/><ellipse cx="60.0" cy="22.0" rx="6.6" ry="1.5" opacity="0.04" transform="rotate(-50 60.0 22.0)"/><ellipse cx="132.0" cy="60.0" rx="7.7" ry="1.5" opacity="0.05" transform="rotate(60 132.0 60.0)"/><ellipse cx="118.0" cy="98.0" rx="8.8" ry="1.5" opacity="0.04" transform="rotate(-20 118.0 98.0)"/><ellipse cx="70.0" cy="98.0" rx="7.7" ry="1.5" opacity="0.04" transform="rotate(-40 70.0 98.0)"/><ellipse cx="8.0" cy="20.0" rx="6.6" ry="1.5" opacity="0.04" transform="rotate(60 8.0 20.0)"/><ellipse cx="140.0" cy="88.0" rx="6.6" ry="1.5" opacity="0.04" transform="rotate(35 140.0 88.0)"/><ellipse cx="90.0" cy="44.0" rx="7.7" ry="1.5" opacity="0.04" transform="rotate(-25 90.0 44.0)"/><ellipse cx="46.0" cy="28.0" rx="6.6" ry="1.5" opacity="0.04" transform="rotate(15 46.0 28.0)"/><ellipse cx="100.0" cy="92.0" rx="8.8" ry="1.5" opacity="0.04" transform="rotate(10 100.0 92.0)"/><ellipse cx="128.0" cy="12.0" rx="6.6" ry="1.5" opacity="0.05" transform="rotate(-60 128.0 12.0)"/></g>
<g filter="url(#bl2)" fill="#c81880"><ellipse cx="19.2" cy="67.2" rx="7.6" ry="1.0" opacity="0.04" transform="rotate(-67 19.2 67.2)"/><ellipse cx="89.6" cy="61.6" rx="6.4" ry="1.0" opacity="0.05" transform="rotate(-177 89.6 61.6)"/><ellipse cx="128.9" cy="80.8" rx="4.5" ry="0.7" opacity="0.09" transform="rotate(-163 128.9 80.8)"/><ellipse cx="100.5" cy="66.5" rx="6.3" ry="0.7" opacity="0.05" transform="rotate(-153 100.5 66.5)"/><ellipse cx="18.8" cy="67.8" rx="7.4" ry="0.8" opacity="0.01" transform="rotate(-25 18.8 67.8)"/><ellipse cx="46.9" cy="75.4" rx="7.9" ry="0.9" opacity="0.04" transform="rotate(-89 46.9 75.4)"/><ellipse cx="133.1" cy="16.0" rx="6.8" ry="1.0" opacity="0.04" transform="rotate(-104 133.1 16.0)"/><ellipse cx="80.7" cy="47.2" rx="8.8" ry="1.1" opacity="0.07" transform="rotate(-94 80.7 47.2)"/><ellipse cx="67.5" cy="105.0" rx="7.1" ry="1.2" opacity="0.07" transform="rotate(-134 67.5 105.0)"/><ellipse cx="55.6" cy="81.7" rx="8.9" ry="1.0" opacity="0.05" transform="rotate(-100 55.6 81.7)"/><ellipse cx="143.1" cy="57.2" rx="9.1" ry="1.2" opacity="0.02" transform="rotate(-123 143.1 57.2)"/><ellipse cx="7.9" cy="94.8" rx="5.5" ry="0.8" opacity="0.07" transform="rotate(-4 7.9 94.8)"/><ellipse cx="138.0" cy="21.3" rx="7.3" ry="0.7" opacity="0.04" transform="rotate(-81 138.0 21.3)"/><ellipse cx="18.4" cy="51.7" rx="3.5" ry="0.9" opacity="0.02" transform="rotate(-41 18.4 51.7)"/><ellipse cx="14.8" cy="14.2" rx="5.1" ry="1.1" opacity="0.04" transform="rotate(22 14.8 14.2)"/><ellipse cx="33.5" cy="18.4" rx="7.8" ry="0.7" opacity="0.05" transform="rotate(-20 33.5 18.4)"/><ellipse cx="118.0" cy="91.6" rx="8.5" ry="1.0" opacity="0.02" transform="rotate(-166 118.0 91.6)"/><ellipse cx="10.9" cy="16.4" rx="5.5" ry="1.1" opacity="0.12" transform="rotate(59 10.9 16.4)"/><ellipse cx="134.9" cy="50.5" rx="4.8" ry="0.7" opacity="0.07" transform="rotate(-159 134.9 50.5)"/><ellipse cx="102.3" cy="102.1" rx="9.2" ry="1.0" opacity="0.05" transform="rotate(-144 102.3 102.1)"/><ellipse cx="122.5" cy="28.2" rx="7.7" ry="1.2" opacity="0.01" transform="rotate(-72 122.5 28.2)"/><ellipse cx="25.3" cy="105.3" rx="5.9" ry="1.0" opacity="0.05" transform="rotate(-90 25.3 105.3)"/><ellipse cx="128.9" cy="105.9" rx="3.9" ry="1.2" opacity="0.04" transform="rotate(-167 128.9 105.9)"/><ellipse cx="34.3" cy="12.8" rx="6.8" ry="0.8" opacity="0.06" transform="rotate(-43 34.3 12.8)"/><ellipse cx="135.7" cy="52.2" rx="3.4" ry="1.1" opacity="0.09" transform="rotate(-75 135.7 52.2)"/><ellipse cx="140.8" cy="0.5" rx="6.6" ry="1.0" opacity="0.05" transform="rotate(-63 140.8 0.5)"/><ellipse cx="37.9" cy="99.9" rx="7.6" ry="1.2" opacity="0.06" transform="rotate(-47 37.9 99.9)"/><ellipse cx="8.9" cy="76.1" rx="7.9" ry="1.0" opacity="0.02" transform="rotate(-68 8.9 76.1)"/><ellipse cx="19.9" cy="4.7" rx="9.4" ry="0.7" opacity="0.11" transform="rotate(-2 19.9 4.7)"/><ellipse cx="17.2" cy="35.6" rx="5.3" ry="1.2" opacity="0.02" transform="rotate(3 17.2 35.6)"/><ellipse cx="69.5" cy="20.4" rx="7.5" ry="0.8" opacity="0.05" transform="rotate(-98 69.5 20.4)"/><ellipse cx="100.9" cy="7.1" rx="7.5" ry="1.2" opacity="0.01" transform="rotate(-125 100.9 7.1)"/><ellipse cx="64.8" cy="110.4" rx="9.4" ry="0.9" opacity="0.12" transform="rotate(-92 64.8 110.4)"/><ellipse cx="5.4" cy="50.8" rx="5.5" ry="0.9" opacity="0.04" transform="rotate(31 5.4 50.8)"/><ellipse cx="54.0" cy="89.7" rx="4.5" ry="0.8" opacity="0.09" transform="rotate(-66 54.0 89.7)"/><ellipse cx="108.6" cy="89.8" rx="8.9" ry="1.1" opacity="0.07" transform="rotate(-148 108.6 89.8)"/><ellipse cx="39.5" cy="6.7" rx="8.6" ry="1.2" opacity="0.03" transform="rotate(27 39.5 6.7)"/><ellipse cx="107.8" cy="103.1" rx="3.2" ry="0.7" opacity="0.02" transform="rotate(-190 107.8 103.1)"/><ellipse cx="99.0" cy="90.6" rx="7.5" ry="1.2" opacity="0.12" transform="rotate(-134 99.0 90.6)"/><ellipse cx="62.9" cy="102.1" rx="4.6" ry="1.0" opacity="0.02" transform="rotate(-103 62.9 102.1)"/><ellipse cx="57.0" cy="89.7" rx="6.5" ry="0.9" opacity="0.03" transform="rotate(-158 57.0 89.7)"/><ellipse cx="6.7" cy="56.7" rx="3.6" ry="0.9" opacity="0.07" transform="rotate(-25 6.7 56.7)"/><ellipse cx="8.9" cy="86.5" rx="6.1" ry="0.8" opacity="0.10" transform="rotate(-76 8.9 86.5)"/><ellipse cx="130.9" cy="81.0" rx="5.1" ry="1.1" opacity="0.05" transform="rotate(-169 130.9 81.0)"/><ellipse cx="92.3" cy="79.5" rx="5.5" ry="1.2" opacity="0.03" transform="rotate(-182 92.3 79.5)"/><ellipse cx="124.3" cy="14.6" rx="6.3" ry="0.8" opacity="0.06" transform="rotate(-128 124.3 14.6)"/><ellipse cx="112.5" cy="1.4" rx="5.4" ry="1.2" opacity="0.10" transform="rotate(-85 112.5 1.4)"/><ellipse cx="129.7" cy="81.5" rx="7.0" ry="1.0" opacity="0.04" transform="rotate(-166 129.7 81.5)"/><ellipse cx="40.5" cy="71.0" rx="4.6" ry="0.8" opacity="0.02" transform="rotate(-39 40.5 71.0)"/><ellipse cx="51.8" cy="41.3" rx="7.2" ry="0.8" opacity="0.09" transform="rotate(-94 51.8 41.3)"/><ellipse cx="33.4" cy="80.7" rx="4.1" ry="0.8" opacity="0.12" transform="rotate(-27 33.4 80.7)"/><ellipse cx="57.5" cy="34.5" rx="8.4" ry="0.8" opacity="0.11" transform="rotate(-90 57.5 34.5)"/><ellipse cx="80.7" cy="17.5" rx="8.9" ry="1.1" opacity="0.06" transform="rotate(-31 80.7 17.5)"/><ellipse cx="110.1" cy="105.0" rx="4.6" ry="1.1" opacity="0.04" transform="rotate(-190 110.1 105.0)"/><ellipse cx="144.8" cy="92.1" rx="4.0" ry="1.0" opacity="0.06" transform="rotate(-136 144.8 92.1)"/><ellipse cx="84.0" cy="85.8" rx="8.8" ry="1.0" opacity="0.02" transform="rotate(-153 84.0 85.8)"/><ellipse cx="120.1" cy="16.2" rx="9.0" ry="0.7" opacity="0.02" transform="rotate(-51 120.1 16.2)"/><ellipse cx="102.3" cy="49.1" rx="7.9" ry="0.8" opacity="0.02" transform="rotate(-138 102.3 49.1)"/><ellipse cx="79.7" cy="97.0" rx="3.7" ry="1.1" opacity="0.03" transform="rotate(-106 79.7 97.0)"/><ellipse cx="142.6" cy="41.5" rx="5.2" ry="0.9" opacity="0.02" transform="rotate(-129 142.6 41.5)"/><ellipse cx="112.5" cy="34.6" rx="4.5" ry="0.9" opacity="0.07" transform="rotate(-87 112.5 34.6)"/><ellipse cx="28.0" cy="30.0" rx="5.6" ry="0.8" opacity="0.07" transform="rotate(27 28.0 30.0)"/><ellipse cx="100.7" cy="95.5" rx="8.6" ry="1.2" opacity="0.11" transform="rotate(-158 100.7 95.5)"/><ellipse cx="134.9" cy="76.2" rx="5.5" ry="0.7" opacity="0.11" transform="rotate(-126 134.9 76.2)"/><ellipse cx="59.1" cy="35.5" rx="7.9" ry="1.1" opacity="0.01" transform="rotate(-59 59.1 35.5)"/><ellipse cx="114.6" cy="104.3" rx="9.1" ry="1.0" opacity="0.11" transform="rotate(-119 114.6 104.3)"/><ellipse cx="85.6" cy="93.8" rx="5.4" ry="0.7" opacity="0.08" transform="rotate(-110 85.6 93.8)"/><ellipse cx="137.7" cy="100.1" rx="5.9" ry="0.7" opacity="0.10" transform="rotate(-150 137.7 100.1)"/><ellipse cx="37.8" cy="10.9" rx="9.1" ry="0.9" opacity="0.09" transform="rotate(-40 37.8 10.9)"/><ellipse cx="7.5" cy="51.9" rx="8.0" ry="0.7" opacity="0.05" transform="rotate(18 7.5 51.9)"/><ellipse cx="118.9" cy="101.1" rx="6.8" ry="1.2" opacity="0.07" transform="rotate(-198 118.9 101.1)"/><ellipse cx="114.8" cy="30.9" rx="3.1" ry="1.1" opacity="0.06" transform="rotate(-104 114.8 30.9)"/><ellipse cx="24.1" cy="104.3" rx="3.2" ry="1.1" opacity="0.01" transform="rotate(-83 24.1 104.3)"/><ellipse cx="95.8" cy="12.6" rx="7.8" ry="1.0" opacity="0.07" transform="rotate(-128 95.8 12.6)"/><ellipse cx="103.3" cy="78.8" rx="5.8" ry="1.0" opacity="0.10" transform="rotate(-188 103.3 78.8)"/><ellipse cx="93.8" cy="52.6" rx="8.5" ry="0.8" opacity="0.02" transform="rotate(-99 93.8 52.6)"/><ellipse cx="-2.2" cy="96.4" rx="6.8" ry="0.9" opacity="0.07" transform="rotate(-56 -2.2 96.4)"/><ellipse cx="137.7" cy="71.9" rx="5.8" ry="0.7" opacity="0.04" transform="rotate(-166 137.7 71.9)"/><ellipse cx="108.1" cy="71.3" rx="8.6" ry="1.2" opacity="0.02" transform="rotate(-142 108.1 71.3)"/><ellipse cx="102.3" cy="70.6" rx="9.4" ry="0.9" opacity="0.07" transform="rotate(-195 102.3 70.6)"/><ellipse cx="31.4" cy="45.3" rx="9.3" ry="0.6" opacity="0.01" transform="rotate(-63 31.4 45.3)"/><ellipse cx="106.0" cy="62.7" rx="9.1" ry="1.1" opacity="0.04" transform="rotate(-161 106.0 62.7)"/><ellipse cx="103.8" cy="103.8" rx="5.4" ry="1.1" opacity="0.02" transform="rotate(-129 103.8 103.8)"/><ellipse cx="54.9" cy="110.2" rx="5.6" ry="1.0" opacity="0.04" transform="rotate(-84 54.9 110.2)"/><ellipse cx="103.1" cy="56.6" rx="5.7" ry="1.2" opacity="0.09" transform="rotate(-141 103.1 56.6)"/><ellipse cx="33.4" cy="42.3" rx="7.7" ry="1.0" opacity="0.07" transform="rotate(9 33.4 42.3)"/><ellipse cx="27.2" cy="61.7" rx="5.9" ry="0.9" opacity="0.04" transform="rotate(-20 27.2 61.7)"/><ellipse cx="86.9" cy="22.0" rx="3.4" ry="1.1" opacity="0.05" transform="rotate(-56 86.9 22.0)"/><ellipse cx="34.6" cy="25.6" rx="4.1" ry="1.2" opacity="0.03" transform="rotate(-30 34.6 25.6)"/><ellipse cx="9.6" cy="72.0" rx="4.9" ry="0.8" opacity="0.06" transform="rotate(13 9.6 72.0)"/><ellipse cx="75.0" cy="13.0" rx="10.5" ry="0.9" opacity="0.29" transform="rotate(-30 75.0 13.0)"/><ellipse cx="49.0" cy="9.0" rx="4.7" ry="0.8" opacity="0.22" transform="rotate(-45 49.0 9.0)"/><ellipse cx="16.0" cy="14.0" rx="5.2" ry="0.8" opacity="0.15" transform="rotate(25 16.0 14.0)"/><ellipse cx="33.5" cy="38.5" rx="6.3" ry="0.8" opacity="0.26" transform="rotate(52 33.5 38.5)"/><ellipse cx="9.0" cy="49.0" rx="6.3" ry="0.8" opacity="0.22" transform="rotate(20 9.0 49.0)"/><ellipse cx="37.0" cy="59.0" rx="13.7" ry="1.1" opacity="0.28" transform="rotate(5 37.0 59.0)"/><ellipse cx="30.0" cy="56.0" rx="8.4" ry="0.8" opacity="0.22" transform="rotate(8 30.0 56.0)"/><ellipse cx="61.0" cy="54.0" rx="7.4" ry="0.8" opacity="0.29" transform="rotate(-40 61.0 54.0)"/><ellipse cx="17.0" cy="67.0" rx="9.5" ry="0.9" opacity="0.26" transform="rotate(55 17.0 67.0)"/><ellipse cx="52.0" cy="79.0" rx="10.5" ry="0.9" opacity="0.22" transform="rotate(-32 52.0 79.0)"/><ellipse cx="104.0" cy="67.0" rx="18.9" ry="0.9" opacity="0.22" transform="rotate(-8 104.0 67.0)"/><ellipse cx="86.0" cy="70.0" rx="9.5" ry="0.8" opacity="0.20" transform="rotate(-5 86.0 70.0)"/><ellipse cx="104.0" cy="21.5" rx="8.4" ry="1.0" opacity="0.29" transform="rotate(-3 104.0 21.5)"/><ellipse cx="126.0" cy="27.0" rx="6.3" ry="0.8" opacity="0.26" transform="rotate(70 126.0 27.0)"/><ellipse cx="94.0" cy="7.0" rx="8.4" ry="0.8" opacity="0.22" transform="rotate(-40 94.0 7.0)"/><ellipse cx="42.0" cy="84.0" rx="7.4" ry="0.8" opacity="0.19" transform="rotate(-35 42.0 84.0)"/><ellipse cx="23.0" cy="92.0" rx="9.5" ry="0.8" opacity="0.15" transform="rotate(70 23.0 92.0)"/><ellipse cx="112.0" cy="84.0" rx="9.5" ry="0.8" opacity="0.15" transform="rotate(27 112.0 84.0)"/><ellipse cx="121.0" cy="45.0" rx="9.5" ry="0.8" opacity="0.17" transform="rotate(-6 121.0 45.0)"/><ellipse cx="74.0" cy="32.0" rx="7.4" ry="0.8" opacity="0.22" transform="rotate(-35 74.0 32.0)"/><ellipse cx="50.0" cy="44.5" rx="10.5" ry="0.8" opacity="0.15" transform="rotate(-8 50.0 44.5)"/><ellipse cx="35.0" cy="53.0" rx="9.5" ry="0.8" opacity="0.20" transform="rotate(-5 35.0 53.0)"/><ellipse cx="74.0" cy="59.0" rx="3.2" ry="0.8" opacity="0.26" transform="rotate(80 74.0 59.0)"/><ellipse cx="22.0" cy="30.0" rx="6.3" ry="0.8" opacity="0.15" transform="rotate(40 22.0 30.0)"/><ellipse cx="60.0" cy="22.0" rx="6.3" ry="0.8" opacity="0.15" transform="rotate(-50 60.0 22.0)"/><ellipse cx="132.0" cy="60.0" rx="7.4" ry="0.8" opacity="0.17" transform="rotate(60 132.0 60.0)"/><ellipse cx="118.0" cy="98.0" rx="8.4" ry="0.8" opacity="0.15" transform="rotate(-20 118.0 98.0)"/><ellipse cx="70.0" cy="98.0" rx="7.4" ry="0.8" opacity="0.15" transform="rotate(-40 70.0 98.0)"/><ellipse cx="8.0" cy="20.0" rx="6.3" ry="0.8" opacity="0.13" transform="rotate(60 8.0 20.0)"/><ellipse cx="140.0" cy="88.0" rx="6.3" ry="0.8" opacity="0.15" transform="rotate(35 140.0 88.0)"/><ellipse cx="90.0" cy="44.0" rx="7.4" ry="0.8" opacity="0.15" transform="rotate(-25 90.0 44.0)"/><ellipse cx="46.0" cy="28.0" rx="6.3" ry="0.8" opacity="0.13" transform="rotate(15 46.0 28.0)"/><ellipse cx="100.0" cy="92.0" rx="8.4" ry="0.8" opacity="0.13" transform="rotate(10 100.0 92.0)"/><ellipse cx="128.0" cy="12.0" rx="6.3" ry="0.8" opacity="0.17" transform="rotate(-60 128.0 12.0)"/></g>
<g filter="url(#bl3)" fill="#2a12e0"><circle cx="126.6" cy="106.9" r="1.5" opacity="0.50"/><circle cx="10.7" cy="26.6" r="1.5" opacity="0.34"/><circle cx="74.0" cy="33.4" r="1.4" opacity="0.32"/><circle cx="142.4" cy="8.1" r="1.5" opacity="0.10"/><circle cx="21.3" cy="42.0" r="1.3" opacity="0.14"/><circle cx="80.9" cy="101.3" r="1.2" opacity="0.46"/><circle cx="85.1" cy="62.8" r="1.0" opacity="0.30"/><circle cx="129.5" cy="72.7" r="1.0" opacity="0.29"/><circle cx="78.2" cy="36.3" r="1.2" opacity="0.38"/><circle cx="2.6" cy="23.7" r="1.3" opacity="0.18"/><circle cx="10.5" cy="82.1" r="1.1" opacity="0.57"/><circle cx="80.3" cy="10.9" r="1.3" opacity="0.20"/><circle cx="117.1" cy="78.1" r="1.4" opacity="0.12"/><circle cx="4.9" cy="86.0" r="1.0" opacity="0.18"/><circle cx="4.3" cy="17.6" r="1.2" opacity="0.57"/><circle cx="46.2" cy="28.0" r="1.4" opacity="0.17"/><circle cx="91.3" cy="66.3" r="1.5" opacity="0.11"/><circle cx="81.0" cy="41.3" r="1.4" opacity="0.20"/><circle cx="102.8" cy="20.0" r="1.2" opacity="0.58"/><circle cx="34.5" cy="30.1" r="1.5" opacity="0.41"/><circle cx="9.5" cy="20.1" r="1.0" opacity="0.21"/><circle cx="121.5" cy="75.5" r="1.5" opacity="0.40"/><circle cx="90.3" cy="41.3" r="1.3" opacity="0.31"/><circle cx="8.5" cy="53.0" r="1.1" opacity="0.33"/><circle cx="7.0" cy="3.0" r="1.5" opacity="0.25"/><circle cx="47.5" cy="16.0" r="1.3" opacity="0.55"/><circle cx="25.9" cy="53.9" r="1.2" opacity="0.46"/><circle cx="81.3" cy="25.8" r="1.0" opacity="0.44"/><circle cx="11.2" cy="93.2" r="0.9" opacity="0.17"/><circle cx="67.3" cy="91.0" r="1.3" opacity="0.45"/><circle cx="109.4" cy="77.9" r="0.9" opacity="0.49"/><circle cx="21.2" cy="17.5" r="0.9" opacity="0.11"/><circle cx="126.1" cy="41.1" r="1.0" opacity="0.12"/><circle cx="121.7" cy="64.9" r="1.4" opacity="0.11"/><circle cx="16.2" cy="30.9" r="1.0" opacity="0.14"/><circle cx="28.8" cy="69.0" r="1.0" opacity="0.16"/><circle cx="77.0" cy="40.5" r="1.0" opacity="0.35"/><circle cx="73.0" cy="41.8" r="1.2" opacity="0.11"/><circle cx="88.4" cy="20.8" r="1.1" opacity="0.10"/><circle cx="127.7" cy="63.3" r="1.1" opacity="0.34"/><circle cx="135.2" cy="14.2" r="1.1" opacity="0.43"/><circle cx="53.5" cy="76.2" r="1.4" opacity="0.11"/><circle cx="40.9" cy="31.6" r="1.4" opacity="0.47"/><circle cx="100.6" cy="99.7" r="1.0" opacity="0.26"/><circle cx="122.6" cy="82.5" r="1.0" opacity="0.59"/><circle cx="106.5" cy="93.3" r="1.1" opacity="0.37"/><circle cx="137.9" cy="96.8" r="1.2" opacity="0.53"/><circle cx="143.7" cy="90.5" r="1.3" opacity="0.58"/><circle cx="20.7" cy="43.5" r="1.2" opacity="0.15"/><circle cx="112.3" cy="6.7" r="1.3" opacity="0.21"/><circle cx="46.4" cy="65.4" r="1.0" opacity="0.29"/><circle cx="123.3" cy="106.4" r="1.1" opacity="0.25"/><circle cx="99.8" cy="20.5" r="1.4" opacity="0.17"/><circle cx="80.1" cy="36.6" r="0.9" opacity="0.10"/><circle cx="0.3" cy="35.4" r="1.1" opacity="0.59"/><circle cx="91.7" cy="7.0" r="1.3" opacity="0.19"/><circle cx="69.2" cy="77.9" r="1.4" opacity="0.56"/><circle cx="60.5" cy="34.3" r="1.1" opacity="0.22"/><circle cx="106.6" cy="49.9" r="1.3" opacity="0.16"/><circle cx="112.6" cy="104.2" r="1.0" opacity="0.38"/><circle cx="23.3" cy="3.8" r="1.1" opacity="0.17"/><circle cx="105.1" cy="61.7" r="1.3" opacity="0.58"/><circle cx="8.4" cy="10.6" r="0.9" opacity="0.29"/><circle cx="118.6" cy="73.7" r="1.2" opacity="0.51"/><circle cx="53.5" cy="12.2" r="1.3" opacity="0.11"/><circle cx="33.0" cy="3.2" r="1.0" opacity="0.12"/><circle cx="76.4" cy="13.8" r="1.3" opacity="0.49"/><circle cx="49.5" cy="13.0" r="1.3" opacity="0.44"/><circle cx="127.1" cy="59.7" r="1.2" opacity="0.52"/><circle cx="97.4" cy="105.1" r="1.1" opacity="0.46"/><circle cx="91.0" cy="50.5" r="0.9" opacity="0.30"/><circle cx="37.9" cy="64.8" r="1.2" opacity="0.32"/><circle cx="8.5" cy="14.2" r="1.3" opacity="0.41"/><circle cx="142.4" cy="85.5" r="1.1" opacity="0.29"/><circle cx="72.7" cy="86.7" r="1.1" opacity="0.55"/><circle cx="69.6" cy="42.9" r="1.2" opacity="0.24"/><circle cx="143.7" cy="5.0" r="1.1" opacity="0.13"/><circle cx="97.5" cy="16.2" r="1.0" opacity="0.28"/><circle cx="86.6" cy="82.3" r="1.2" opacity="0.22"/><circle cx="52.9" cy="95.8" r="1.0" opacity="0.10"/><circle cx="127.4" cy="52.1" r="1.0" opacity="0.15"/><circle cx="128.0" cy="80.8" r="0.9" opacity="0.41"/><circle cx="30.8" cy="48.1" r="1.3" opacity="0.12"/><circle cx="134.5" cy="36.1" r="1.0" opacity="0.47"/><circle cx="15.7" cy="4.0" r="1.3" opacity="0.30"/><circle cx="129.5" cy="85.2" r="1.0" opacity="0.11"/><circle cx="86.8" cy="50.7" r="1.1" opacity="0.55"/><circle cx="30.0" cy="69.3" r="0.9" opacity="0.55"/><circle cx="136.4" cy="66.6" r="1.1" opacity="0.43"/><circle cx="129.9" cy="85.7" r="0.9" opacity="0.32"/><circle cx="20.1" cy="58.9" r="1.5" opacity="0.52"/><circle cx="35.8" cy="59.5" r="1.1" opacity="0.16"/><circle cx="106.9" cy="81.9" r="1.1" opacity="0.27"/><circle cx="100.2" cy="78.4" r="1.2" opacity="0.14"/><circle cx="13.8" cy="18.3" r="1.4" opacity="0.31"/><circle cx="92.7" cy="39.3" r="1.1" opacity="0.17"/><circle cx="140.1" cy="65.3" r="1.0" opacity="0.42"/><circle cx="86.0" cy="66.1" r="1.4" opacity="0.37"/><circle cx="126.0" cy="104.5" r="1.1" opacity="0.39"/><circle cx="53.8" cy="44.3" r="1.1" opacity="0.39"/><circle cx="50.7" cy="37.9" r="1.4" opacity="0.48"/><circle cx="97.2" cy="90.9" r="1.1" opacity="0.39"/><circle cx="36.1" cy="34.0" r="1.0" opacity="0.48"/><circle cx="132.5" cy="32.6" r="1.1" opacity="0.14"/><circle cx="20.4" cy="68.8" r="1.4" opacity="0.13"/><circle cx="36.6" cy="81.8" r="1.0" opacity="0.52"/><circle cx="50.7" cy="51.0" r="1.0" opacity="0.21"/><circle cx="61.0" cy="30.0" r="1.3" opacity="0.11"/><circle cx="91.9" cy="86.5" r="1.1" opacity="0.17"/><circle cx="17.2" cy="8.3" r="1.4" opacity="0.37"/><circle cx="2.2" cy="48.9" r="1.3" opacity="0.23"/><circle cx="5.0" cy="45.4" r="1.1" opacity="0.58"/><circle cx="51.7" cy="99.4" r="1.4" opacity="0.35"/><circle cx="18.1" cy="87.1" r="1.0" opacity="0.34"/><circle cx="14.0" cy="10.0" r="1.1" opacity="0.16"/><circle cx="142.6" cy="62.3" r="1.4" opacity="0.57"/><circle cx="109.0" cy="69.6" r="1.2" opacity="0.47"/><circle cx="96.3" cy="17.0" r="1.2" opacity="0.27"/><circle cx="74.1" cy="76.9" r="1.3" opacity="0.35"/><circle cx="113.4" cy="89.0" r="1.0" opacity="0.15"/><circle cx="6.8" cy="17.3" r="1.5" opacity="0.22"/><circle cx="63.1" cy="50.2" r="1.2" opacity="0.21"/><circle cx="112.0" cy="35.8" r="1.4" opacity="0.48"/><circle cx="0.2" cy="59.0" r="1.0" opacity="0.53"/><circle cx="10.0" cy="28.8" r="1.4" opacity="0.36"/><circle cx="95.9" cy="44.5" r="1.2" opacity="0.18"/><circle cx="66.5" cy="27.7" r="1.3" opacity="0.14"/><circle cx="19.8" cy="21.3" r="1.2" opacity="0.36"/><circle cx="0.4" cy="106.4" r="1.4" opacity="0.26"/><circle cx="22.8" cy="89.0" r="1.5" opacity="0.17"/><circle cx="108.7" cy="88.2" r="1.5" opacity="0.18"/><circle cx="17.3" cy="17.7" r="1.0" opacity="0.54"/><circle cx="130.8" cy="51.1" r="1.0" opacity="0.24"/><circle cx="34.7" cy="69.9" r="1.3" opacity="0.46"/><circle cx="62.8" cy="49.2" r="1.2" opacity="0.25"/><circle cx="65.4" cy="73.9" r="1.3" opacity="0.23"/><circle cx="81.5" cy="15.6" r="0.9" opacity="0.26"/><circle cx="51.7" cy="3.5" r="0.9" opacity="0.28"/><circle cx="135.5" cy="90.3" r="0.9" opacity="0.23"/><circle cx="53.0" cy="33.5" r="1.0" opacity="0.36"/><circle cx="120.7" cy="41.1" r="1.0" opacity="0.14"/><circle cx="2.2" cy="82.5" r="1.0" opacity="0.43"/><circle cx="113.7" cy="9.0" r="1.0" opacity="0.23"/><circle cx="110.6" cy="79.4" r="1.1" opacity="0.29"/><circle cx="51.1" cy="50.9" r="1.4" opacity="0.20"/><circle cx="116.5" cy="99.2" r="1.3" opacity="0.57"/><circle cx="134.9" cy="18.4" r="1.5" opacity="0.18"/><circle cx="115.7" cy="13.1" r="1.1" opacity="0.29"/><circle cx="120.7" cy="73.4" r="1.0" opacity="0.54"/><circle cx="124.4" cy="55.0" r="0.9" opacity="0.21"/><circle cx="42.1" cy="45.1" r="1.5" opacity="0.36"/><circle cx="117.9" cy="7.7" r="1.0" opacity="0.44"/><circle cx="49.0" cy="24.5" r="0.9" opacity="0.12"/><circle cx="59.3" cy="58.9" r="1.1" opacity="0.35"/><circle cx="41.8" cy="1.8" r="1.3" opacity="0.23"/><circle cx="70.7" cy="40.7" r="1.1" opacity="0.12"/><circle cx="42.6" cy="32.1" r="1.0" opacity="0.11"/><circle cx="69.1" cy="2.1" r="1.4" opacity="0.25"/><circle cx="63.8" cy="56.7" r="0.9" opacity="0.14"/><circle cx="112.9" cy="60.0" r="1.2" opacity="0.24"/><circle cx="108.0" cy="54.2" r="1.4" opacity="0.50"/><circle cx="128.5" cy="78.2" r="1.3" opacity="0.30"/><circle cx="76.7" cy="62.4" r="1.2" opacity="0.49"/><circle cx="123.4" cy="5.6" r="1.4" opacity="0.38"/><circle cx="86.0" cy="97.9" r="0.9" opacity="0.30"/><circle cx="54.0" cy="102.2" r="1.0" opacity="0.35"/><circle cx="20.8" cy="81.3" r="1.2" opacity="0.44"/><circle cx="44.2" cy="95.2" r="0.9" opacity="0.19"/><circle cx="105.5" cy="94.7" r="1.4" opacity="0.21"/><circle cx="11.6" cy="76.5" r="1.3" opacity="0.12"/><circle cx="134.4" cy="56.9" r="0.9" opacity="0.30"/><circle cx="48.6" cy="11.2" r="1.4" opacity="0.56"/><circle cx="17.8" cy="48.0" r="1.1" opacity="0.41"/><circle cx="15.8" cy="36.0" r="1.1" opacity="0.30"/><circle cx="62.6" cy="64.3" r="1.5" opacity="0.56"/><circle cx="130.5" cy="89.4" r="1.0" opacity="0.19"/><circle cx="66.1" cy="69.3" r="1.3" opacity="0.24"/><circle cx="142.6" cy="33.7" r="0.9" opacity="0.13"/><circle cx="30.1" cy="78.8" r="1.4" opacity="0.11"/><circle cx="34.1" cy="26.1" r="1.4" opacity="0.54"/><circle cx="37.9" cy="11.0" r="1.5" opacity="0.58"/><circle cx="103.0" cy="51.0" r="1.3" opacity="0.46"/><circle cx="73.2" cy="29.2" r="1.2" opacity="0.40"/><circle cx="46.6" cy="68.9" r="1.0" opacity="0.58"/><circle cx="30.4" cy="24.4" r="1.5" opacity="0.57"/><circle cx="133.1" cy="90.7" r="1.4" opacity="0.49"/><circle cx="81.5" cy="8.0" r="1.3" opacity="0.50"/><circle cx="120.5" cy="4.7" r="0.9" opacity="0.44"/><circle cx="70.2" cy="96.3" r="1.5" opacity="0.29"/><circle cx="97.1" cy="71.7" r="1.3" opacity="0.25"/><circle cx="92.0" cy="7.3" r="1.4" opacity="0.43"/><circle cx="115.4" cy="49.8" r="1.0" opacity="0.29"/><circle cx="97.9" cy="59.1" r="1.0" opacity="0.10"/><circle cx="57.2" cy="26.4" r="1.0" opacity="0.18"/><circle cx="59.8" cy="74.9" r="1.4" opacity="0.41"/><circle cx="3.0" cy="93.5" r="1.3" opacity="0.44"/><circle cx="88.2" cy="38.2" r="1.1" opacity="0.12"/><circle cx="95.5" cy="5.8" r="1.3" opacity="0.54"/><circle cx="96.0" cy="65.3" r="1.4" opacity="0.57"/><circle cx="116.9" cy="106.7" r="1.2" opacity="0.10"/><circle cx="88.3" cy="68.8" r="1.4" opacity="0.37"/><circle cx="52.2" cy="0.5" r="1.4" opacity="0.38"/><circle cx="141.7" cy="64.0" r="1.4" opacity="0.46"/><circle cx="142.5" cy="49.8" r="1.4" opacity="0.26"/><circle cx="1.6" cy="35.1" r="1.1" opacity="0.60"/><circle cx="56.8" cy="29.6" r="1.3" opacity="0.13"/><circle cx="43.9" cy="42.6" r="1.0" opacity="0.37"/><circle cx="60.8" cy="86.5" r="1.1" opacity="0.59"/><circle cx="28.1" cy="57.2" r="1.0" opacity="0.10"/><circle cx="43.4" cy="96.5" r="1.1" opacity="0.31"/><circle cx="75.3" cy="28.7" r="1.2" opacity="0.12"/><circle cx="50.2" cy="30.7" r="1.4" opacity="0.46"/><circle cx="100.8" cy="64.1" r="1.4" opacity="0.44"/><circle cx="7.9" cy="14.1" r="1.3" opacity="0.50"/><circle cx="142.3" cy="83.6" r="1.0" opacity="0.35"/><circle cx="89.8" cy="65.2" r="1.0" opacity="0.58"/><circle cx="73.4" cy="29.0" r="1.5" opacity="0.26"/><circle cx="10.1" cy="72.1" r="1.1" opacity="0.18"/><circle cx="43.5" cy="65.4" r="1.1" opacity="0.40"/><circle cx="130.2" cy="106.8" r="1.4" opacity="0.55"/><circle cx="36.4" cy="88.8" r="1.0" opacity="0.36"/><circle cx="10.9" cy="10.7" r="1.5" opacity="0.15"/><circle cx="103.1" cy="56.8" r="0.9" opacity="0.47"/><circle cx="8.7" cy="95.6" r="1.4" opacity="0.31"/><circle cx="64.2" cy="3.0" r="1.3" opacity="0.11"/><circle cx="75.7" cy="99.8" r="1.3" opacity="0.14"/><circle cx="103.7" cy="75.6" r="1.1" opacity="0.46"/><circle cx="83.2" cy="44.6" r="1.2" opacity="0.21"/><circle cx="41.3" cy="95.8" r="1.1" opacity="0.46"/><circle cx="52.8" cy="20.5" r="0.9" opacity="0.58"/><circle cx="108.1" cy="105.8" r="1.3" opacity="0.12"/><circle cx="23.5" cy="5.3" r="1.3" opacity="0.38"/><circle cx="137.4" cy="31.9" r="1.0" opacity="0.18"/><circle cx="21.2" cy="3.1" r="1.2" opacity="0.27"/><circle cx="52.9" cy="102.5" r="1.1" opacity="0.49"/><circle cx="76.6" cy="11.1" r="0.9" opacity="0.37"/><circle cx="125.7" cy="5.4" r="1.3" opacity="0.19"/><circle cx="98.8" cy="89.8" r="1.3" opacity="0.19"/><circle cx="22.4" cy="104.3" r="1.4" opacity="0.55"/><circle cx="77.8" cy="5.5" r="1.1" opacity="0.54"/><circle cx="9.6" cy="31.8" r="0.9" opacity="0.53"/><circle cx="50.9" cy="8.9" r="1.1" opacity="0.18"/><circle cx="62.3" cy="66.4" r="1.3" opacity="0.13"/><circle cx="76.8" cy="6.1" r="1.2" opacity="0.48"/><circle cx="37.7" cy="88.7" r="1.0" opacity="0.26"/><circle cx="114.0" cy="0.4" r="1.2" opacity="0.33"/><circle cx="102.8" cy="102.2" r="1.3" opacity="0.19"/><circle cx="28.6" cy="51.9" r="1.1" opacity="0.34"/><circle cx="12.9" cy="74.8" r="1.1" opacity="0.12"/><circle cx="17.3" cy="100.8" r="1.4" opacity="0.53"/><circle cx="56.0" cy="106.1" r="1.0" opacity="0.44"/><circle cx="135.4" cy="22.5" r="0.9" opacity="0.15"/><circle cx="12.0" cy="86.6" r="1.3" opacity="0.30"/><circle cx="16.5" cy="69.3" r="1.0" opacity="0.15"/><circle cx="85.4" cy="69.4" r="1.4" opacity="0.49"/><circle cx="19.7" cy="32.8" r="1.0" opacity="0.31"/><circle cx="4.1" cy="93.5" r="1.3" opacity="0.48"/><circle cx="70.2" cy="98.3" r="1.4" opacity="0.50"/><circle cx="115.9" cy="23.3" r="1.1" opacity="0.12"/><circle cx="109.9" cy="51.0" r="1.5" opacity="0.21"/><circle cx="62.0" cy="93.4" r="1.5" opacity="0.45"/><circle cx="126.9" cy="99.6" r="1.1" opacity="0.38"/><circle cx="9.1" cy="72.9" r="1.5" opacity="0.32"/><circle cx="21.0" cy="61.4" r="0.9" opacity="0.30"/><circle cx="11.5" cy="45.0" r="1.4" opacity="0.44"/><circle cx="122.7" cy="49.3" r="1.2" opacity="0.12"/><circle cx="113.5" cy="61.4" r="1.1" opacity="0.15"/><circle cx="65.9" cy="6.8" r="1.0" opacity="0.13"/><circle cx="61.1" cy="14.8" r="1.4" opacity="0.37"/><circle cx="124.7" cy="59.7" r="1.0" opacity="0.21"/><circle cx="120.7" cy="63.1" r="1.3" opacity="0.38"/><circle cx="6.9" cy="21.5" r="1.2" opacity="0.50"/><circle cx="135.7" cy="63.7" r="1.1" opacity="0.12"/><circle cx="80.4" cy="44.1" r="1.5" opacity="0.18"/><circle cx="29.5" cy="1.7" r="0.9" opacity="0.48"/><circle cx="125.3" cy="16.6" r="0.9" opacity="0.35"/><circle cx="35.4" cy="66.2" r="1.4" opacity="0.45"/><circle cx="40.3" cy="65.4" r="1.1" opacity="0.46"/><circle cx="37.1" cy="93.7" r="1.3" opacity="0.53"/><circle cx="49.7" cy="102.9" r="1.2" opacity="0.20"/></g>
<g filter="url(#bl)" fill="#f838a8"><circle cx="83.0" cy="31.5" r="1.2" opacity="0.95"/><circle cx="112.0" cy="37.0" r="1.1" opacity="0.95"/><circle cx="138.0" cy="16.0" r="0.9" opacity="0.80"/><circle cx="138.0" cy="25.0" r="0.9" opacity="0.80"/><circle cx="131.0" cy="78.0" r="0.9" opacity="0.80"/><circle cx="2.0" cy="76.0" r="1.0" opacity="0.90"/><circle cx="88.0" cy="58.0" r="0.8" opacity="0.70"/><circle cx="93.0" cy="56.0" r="0.8" opacity="0.70"/><circle cx="104.0" cy="26.0" r="0.9" opacity="0.80"/><circle cx="102.0" cy="28.0" r="0.8" opacity="0.70"/><circle cx="60.0" cy="94.0" r="0.8" opacity="0.70"/><circle cx="43.0" cy="70.0" r="0.8" opacity="0.70"/><circle cx="84.0" cy="42.0" r="0.7" opacity="0.60"/><circle cx="118.0" cy="24.0" r="0.9" opacity="0.80"/><circle cx="100.0" cy="17.0" r="0.7" opacity="0.60"/><circle cx="128.0" cy="68.0" r="0.8" opacity="0.60"/><circle cx="86.0" cy="82.0" r="0.7" opacity="0.50"/><circle cx="72.0" cy="60.0" r="0.7" opacity="0.60"/></g>
</svg>
<rect x="27" y="418.6" width="10" height="2.4" fill="#fff"/>
<rect x="27" y="528.8" width="10" height="2.4" fill="#fff"/>
<text class="lab" x="157.8" y="423.4" text-anchor="end" style="fill:#e83040">GDNF</text>
<text class="lab" x="306" y="423.4" text-anchor="end" style="fill:#e83040">GDNF</text>
<text class="lab" x="456" y="423.4" text-anchor="end" style="fill:#e83040">GDNF</text>
<text class="lab" x="157.8" y="523.5" text-anchor="end" style="fill:#e83040">GDNF</text>
<text class="lab" x="157.8" y="534.7" text-anchor="end" style="fill:#4050f0">DAPI</text>
<text class="lab" x="306" y="523.5" text-anchor="end" style="fill:#e83040">GDNF</text>
<text class="lab" x="306" y="534.7" text-anchor="end" style="fill:#4050f0">DAPI</text>
<text class="lab" x="457" y="523.5" text-anchor="end" style="fill:#e83040">GDNF</text>
<text class="lab" x="457" y="534.7" text-anchor="end" style="fill:#4050f0">DAPI</text>
</svg></body></html>
